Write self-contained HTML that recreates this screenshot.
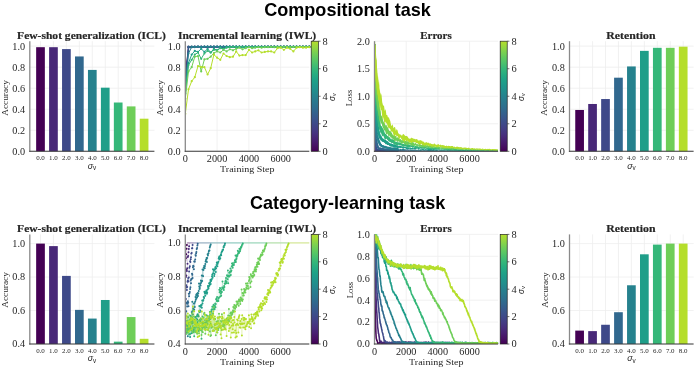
<!DOCTYPE html><html><head><meta charset="utf-8"><style>html,body{margin:0;padding:0;background:#fff;}svg{display:block;will-change:transform;transform:translateZ(0);}</style></head><body><svg width="696" height="369" viewBox="0 0 696 369"><defs><linearGradient id="cb" x1="0" y1="0" x2="0" y2="1"><stop offset="0.000" stop-color="#b5de2b"/><stop offset="0.050" stop-color="#98d83e"/><stop offset="0.100" stop-color="#7ad151"/><stop offset="0.150" stop-color="#60ca60"/><stop offset="0.200" stop-color="#4ac16d"/><stop offset="0.250" stop-color="#35b779"/><stop offset="0.300" stop-color="#27ad81"/><stop offset="0.350" stop-color="#1fa287"/><stop offset="0.400" stop-color="#1f988b"/><stop offset="0.450" stop-color="#218e8d"/><stop offset="0.500" stop-color="#26828e"/><stop offset="0.550" stop-color="#2a788e"/><stop offset="0.600" stop-color="#2e6e8e"/><stop offset="0.650" stop-color="#33628d"/><stop offset="0.700" stop-color="#39568c"/><stop offset="0.750" stop-color="#3e4989"/><stop offset="0.800" stop-color="#433d84"/><stop offset="0.850" stop-color="#472f7d"/><stop offset="0.900" stop-color="#482071"/><stop offset="0.950" stop-color="#471164"/><stop offset="1.000" stop-color="#440154"/></linearGradient><clipPath id="clB0"><rect x="185.3" y="38.2" width="125.5" height="113.10000000000001"/></clipPath><clipPath id="clC0"><rect x="374.5" y="41.2" width="123.60000000000002" height="110.10000000000001"/></clipPath><clipPath id="clB1"><rect x="185.3" y="231.4" width="125.5" height="112.6"/></clipPath><clipPath id="clC1"><rect x="374.5" y="234.4" width="123.60000000000002" height="109.6"/></clipPath></defs><text x="347.50" y="15.50" font-size="17.8" text-anchor="middle" fill="#000" font-weight="bold" font-family="'Liberation Sans', sans-serif" textLength="166.60" lengthAdjust="spacingAndGlyphs">Compositional task</text><text x="347.60" y="208.60" font-size="17.8" text-anchor="middle" fill="#000" font-weight="bold" font-family="'Liberation Sans', sans-serif" textLength="195.20" lengthAdjust="spacingAndGlyphs">Category-learning task</text><line x1="29.80" y1="151.30" x2="154.40" y2="151.30" stroke="#eeeeee" stroke-width="0.8"/><line x1="29.80" y1="130.27" x2="154.40" y2="130.27" stroke="#eeeeee" stroke-width="0.8"/><line x1="29.80" y1="109.24" x2="154.40" y2="109.24" stroke="#eeeeee" stroke-width="0.8"/><line x1="29.80" y1="88.21" x2="154.40" y2="88.21" stroke="#eeeeee" stroke-width="0.8"/><line x1="29.80" y1="67.17" x2="154.40" y2="67.17" stroke="#eeeeee" stroke-width="0.8"/><line x1="29.80" y1="46.14" x2="154.40" y2="46.14" stroke="#eeeeee" stroke-width="0.8"/><line x1="40.50" y1="41.20" x2="40.50" y2="151.30" stroke="#eeeeee" stroke-width="0.8"/><line x1="53.45" y1="41.20" x2="53.45" y2="151.30" stroke="#eeeeee" stroke-width="0.8"/><line x1="66.40" y1="41.20" x2="66.40" y2="151.30" stroke="#eeeeee" stroke-width="0.8"/><line x1="79.35" y1="41.20" x2="79.35" y2="151.30" stroke="#eeeeee" stroke-width="0.8"/><line x1="92.30" y1="41.20" x2="92.30" y2="151.30" stroke="#eeeeee" stroke-width="0.8"/><line x1="105.25" y1="41.20" x2="105.25" y2="151.30" stroke="#eeeeee" stroke-width="0.8"/><line x1="118.20" y1="41.20" x2="118.20" y2="151.30" stroke="#eeeeee" stroke-width="0.8"/><line x1="131.15" y1="41.20" x2="131.15" y2="151.30" stroke="#eeeeee" stroke-width="0.8"/><line x1="144.10" y1="41.20" x2="144.10" y2="151.30" stroke="#eeeeee" stroke-width="0.8"/><text x="25.10" y="154.70" font-size="9.4" text-anchor="end" fill="#262626" font-family="'Liberation Serif', serif" textLength="12.80" lengthAdjust="spacingAndGlyphs">0.0</text><text x="25.10" y="133.67" font-size="9.4" text-anchor="end" fill="#262626" font-family="'Liberation Serif', serif" textLength="12.80" lengthAdjust="spacingAndGlyphs">0.2</text><text x="25.10" y="112.64" font-size="9.4" text-anchor="end" fill="#262626" font-family="'Liberation Serif', serif" textLength="12.80" lengthAdjust="spacingAndGlyphs">0.4</text><text x="25.10" y="91.61" font-size="9.4" text-anchor="end" fill="#262626" font-family="'Liberation Serif', serif" textLength="12.80" lengthAdjust="spacingAndGlyphs">0.6</text><text x="25.10" y="70.57" font-size="9.4" text-anchor="end" fill="#262626" font-family="'Liberation Serif', serif" textLength="12.80" lengthAdjust="spacingAndGlyphs">0.8</text><text x="25.10" y="49.54" font-size="9.4" text-anchor="end" fill="#262626" font-family="'Liberation Serif', serif" textLength="12.80" lengthAdjust="spacingAndGlyphs">1.0</text><text x="7.80" y="97.95" font-size="7.6" text-anchor="middle" fill="#262626" font-family="'Liberation Serif', serif" textLength="35.50" lengthAdjust="spacingAndGlyphs" transform="rotate(-90 7.80 97.95)">Accuracy</text><rect x="36.15" y="47.19" width="8.7" height="104.11" fill="#440154"/><rect x="49.10" y="47.19" width="8.7" height="104.11" fill="#482878"/><rect x="62.05" y="49.09" width="8.7" height="102.21" fill="#3e4989"/><rect x="75.00" y="56.45" width="8.7" height="94.85" fill="#31688e"/><rect x="87.95" y="69.91" width="8.7" height="81.39" fill="#26828e"/><rect x="100.90" y="87.68" width="8.7" height="63.62" fill="#1f9e89"/><rect x="113.85" y="102.51" width="8.7" height="48.79" fill="#35b779"/><rect x="126.80" y="106.40" width="8.7" height="44.90" fill="#6ece58"/><rect x="139.75" y="118.70" width="8.7" height="32.60" fill="#b5de2b"/><line x1="29.80" y1="41.20" x2="29.80" y2="151.80" stroke="#8a8a8a" stroke-width="1.3"/><line x1="29.20" y1="151.30" x2="154.40" y2="151.30" stroke="#3a3a3a" stroke-width="1.05"/><text x="40.50" y="160.40" font-size="6.2" text-anchor="middle" fill="#262626" font-family="'Liberation Serif', serif" textLength="8.70" lengthAdjust="spacingAndGlyphs">0.0</text><text x="53.45" y="160.40" font-size="6.2" text-anchor="middle" fill="#262626" font-family="'Liberation Serif', serif" textLength="8.70" lengthAdjust="spacingAndGlyphs">1.0</text><text x="66.40" y="160.40" font-size="6.2" text-anchor="middle" fill="#262626" font-family="'Liberation Serif', serif" textLength="8.70" lengthAdjust="spacingAndGlyphs">2.0</text><text x="79.35" y="160.40" font-size="6.2" text-anchor="middle" fill="#262626" font-family="'Liberation Serif', serif" textLength="8.70" lengthAdjust="spacingAndGlyphs">3.0</text><text x="92.30" y="160.40" font-size="6.2" text-anchor="middle" fill="#262626" font-family="'Liberation Serif', serif" textLength="8.70" lengthAdjust="spacingAndGlyphs">4.0</text><text x="105.25" y="160.40" font-size="6.2" text-anchor="middle" fill="#262626" font-family="'Liberation Serif', serif" textLength="8.70" lengthAdjust="spacingAndGlyphs">5.0</text><text x="118.20" y="160.40" font-size="6.2" text-anchor="middle" fill="#262626" font-family="'Liberation Serif', serif" textLength="8.70" lengthAdjust="spacingAndGlyphs">6.0</text><text x="131.15" y="160.40" font-size="6.2" text-anchor="middle" fill="#262626" font-family="'Liberation Serif', serif" textLength="8.70" lengthAdjust="spacingAndGlyphs">7.0</text><text x="144.10" y="160.40" font-size="6.2" text-anchor="middle" fill="#262626" font-family="'Liberation Serif', serif" textLength="8.70" lengthAdjust="spacingAndGlyphs">8.0</text><text x="92.00" y="168.70" font-size="8.8" text-anchor="middle" fill="#262626" font-family="'Liberation Sans', sans-serif"><tspan font-style="italic">σ</tspan><tspan font-size="6.3" dy="1.2">v</tspan></text><text x="91.50" y="38.50" font-size="9.5" text-anchor="middle" fill="#262626" font-weight="bold" font-family="'Liberation Serif', serif" textLength="148.80" lengthAdjust="spacingAndGlyphs" stroke="#262626" stroke-width="0.18">Few-shot generalization (ICL)</text><line x1="569.50" y1="151.30" x2="693.60" y2="151.30" stroke="#eeeeee" stroke-width="0.8"/><line x1="569.50" y1="130.27" x2="693.60" y2="130.27" stroke="#eeeeee" stroke-width="0.8"/><line x1="569.50" y1="109.24" x2="693.60" y2="109.24" stroke="#eeeeee" stroke-width="0.8"/><line x1="569.50" y1="88.21" x2="693.60" y2="88.21" stroke="#eeeeee" stroke-width="0.8"/><line x1="569.50" y1="67.17" x2="693.60" y2="67.17" stroke="#eeeeee" stroke-width="0.8"/><line x1="569.50" y1="46.14" x2="693.60" y2="46.14" stroke="#eeeeee" stroke-width="0.8"/><line x1="579.60" y1="41.20" x2="579.60" y2="151.30" stroke="#eeeeee" stroke-width="0.8"/><line x1="592.55" y1="41.20" x2="592.55" y2="151.30" stroke="#eeeeee" stroke-width="0.8"/><line x1="605.50" y1="41.20" x2="605.50" y2="151.30" stroke="#eeeeee" stroke-width="0.8"/><line x1="618.45" y1="41.20" x2="618.45" y2="151.30" stroke="#eeeeee" stroke-width="0.8"/><line x1="631.40" y1="41.20" x2="631.40" y2="151.30" stroke="#eeeeee" stroke-width="0.8"/><line x1="644.35" y1="41.20" x2="644.35" y2="151.30" stroke="#eeeeee" stroke-width="0.8"/><line x1="657.30" y1="41.20" x2="657.30" y2="151.30" stroke="#eeeeee" stroke-width="0.8"/><line x1="670.25" y1="41.20" x2="670.25" y2="151.30" stroke="#eeeeee" stroke-width="0.8"/><line x1="683.20" y1="41.20" x2="683.20" y2="151.30" stroke="#eeeeee" stroke-width="0.8"/><text x="564.80" y="154.70" font-size="9.4" text-anchor="end" fill="#262626" font-family="'Liberation Serif', serif" textLength="12.80" lengthAdjust="spacingAndGlyphs">0.0</text><text x="564.80" y="133.67" font-size="9.4" text-anchor="end" fill="#262626" font-family="'Liberation Serif', serif" textLength="12.80" lengthAdjust="spacingAndGlyphs">0.2</text><text x="564.80" y="112.64" font-size="9.4" text-anchor="end" fill="#262626" font-family="'Liberation Serif', serif" textLength="12.80" lengthAdjust="spacingAndGlyphs">0.4</text><text x="564.80" y="91.61" font-size="9.4" text-anchor="end" fill="#262626" font-family="'Liberation Serif', serif" textLength="12.80" lengthAdjust="spacingAndGlyphs">0.6</text><text x="564.80" y="70.57" font-size="9.4" text-anchor="end" fill="#262626" font-family="'Liberation Serif', serif" textLength="12.80" lengthAdjust="spacingAndGlyphs">0.8</text><text x="564.80" y="49.54" font-size="9.4" text-anchor="end" fill="#262626" font-family="'Liberation Serif', serif" textLength="12.80" lengthAdjust="spacingAndGlyphs">1.0</text><text x="547.50" y="97.95" font-size="7.6" text-anchor="middle" fill="#262626" font-family="'Liberation Serif', serif" textLength="35.50" lengthAdjust="spacingAndGlyphs" transform="rotate(-90 547.50 97.95)">Accuracy</text><rect x="575.25" y="109.97" width="8.7" height="41.33" fill="#440154"/><rect x="588.20" y="103.98" width="8.7" height="47.32" fill="#482878"/><rect x="601.15" y="99.04" width="8.7" height="52.26" fill="#3e4989"/><rect x="614.10" y="77.69" width="8.7" height="73.61" fill="#31688e"/><rect x="627.05" y="66.44" width="8.7" height="84.86" fill="#26828e"/><rect x="640.00" y="50.87" width="8.7" height="100.43" fill="#1f9e89"/><rect x="652.95" y="47.82" width="8.7" height="103.48" fill="#35b779"/><rect x="665.90" y="47.82" width="8.7" height="103.48" fill="#6ece58"/><rect x="678.85" y="46.67" width="8.7" height="104.63" fill="#b5de2b"/><line x1="569.50" y1="41.20" x2="569.50" y2="151.80" stroke="#8a8a8a" stroke-width="1.3"/><line x1="568.90" y1="151.30" x2="693.60" y2="151.30" stroke="#3a3a3a" stroke-width="1.05"/><text x="579.60" y="160.40" font-size="6.2" text-anchor="middle" fill="#262626" font-family="'Liberation Serif', serif" textLength="8.70" lengthAdjust="spacingAndGlyphs">0.0</text><text x="592.55" y="160.40" font-size="6.2" text-anchor="middle" fill="#262626" font-family="'Liberation Serif', serif" textLength="8.70" lengthAdjust="spacingAndGlyphs">1.0</text><text x="605.50" y="160.40" font-size="6.2" text-anchor="middle" fill="#262626" font-family="'Liberation Serif', serif" textLength="8.70" lengthAdjust="spacingAndGlyphs">2.0</text><text x="618.45" y="160.40" font-size="6.2" text-anchor="middle" fill="#262626" font-family="'Liberation Serif', serif" textLength="8.70" lengthAdjust="spacingAndGlyphs">3.0</text><text x="631.40" y="160.40" font-size="6.2" text-anchor="middle" fill="#262626" font-family="'Liberation Serif', serif" textLength="8.70" lengthAdjust="spacingAndGlyphs">4.0</text><text x="644.35" y="160.40" font-size="6.2" text-anchor="middle" fill="#262626" font-family="'Liberation Serif', serif" textLength="8.70" lengthAdjust="spacingAndGlyphs">5.0</text><text x="657.30" y="160.40" font-size="6.2" text-anchor="middle" fill="#262626" font-family="'Liberation Serif', serif" textLength="8.70" lengthAdjust="spacingAndGlyphs">6.0</text><text x="670.25" y="160.40" font-size="6.2" text-anchor="middle" fill="#262626" font-family="'Liberation Serif', serif" textLength="8.70" lengthAdjust="spacingAndGlyphs">7.0</text><text x="683.20" y="160.40" font-size="6.2" text-anchor="middle" fill="#262626" font-family="'Liberation Serif', serif" textLength="8.70" lengthAdjust="spacingAndGlyphs">8.0</text><text x="631.45" y="168.70" font-size="8.8" text-anchor="middle" fill="#262626" font-family="'Liberation Sans', sans-serif"><tspan font-style="italic">σ</tspan><tspan font-size="6.3" dy="1.2">v</tspan></text><text x="630.90" y="38.50" font-size="9.5" text-anchor="middle" fill="#262626" font-weight="bold" font-family="'Liberation Serif', serif" textLength="49.20" lengthAdjust="spacingAndGlyphs" stroke="#262626" stroke-width="0.18">Retention</text><line x1="29.80" y1="344.00" x2="154.40" y2="344.00" stroke="#eeeeee" stroke-width="0.8"/><line x1="29.80" y1="310.53" x2="154.40" y2="310.53" stroke="#eeeeee" stroke-width="0.8"/><line x1="29.80" y1="277.07" x2="154.40" y2="277.07" stroke="#eeeeee" stroke-width="0.8"/><line x1="29.80" y1="243.60" x2="154.40" y2="243.60" stroke="#eeeeee" stroke-width="0.8"/><line x1="40.50" y1="234.40" x2="40.50" y2="344.00" stroke="#eeeeee" stroke-width="0.8"/><line x1="53.45" y1="234.40" x2="53.45" y2="344.00" stroke="#eeeeee" stroke-width="0.8"/><line x1="66.40" y1="234.40" x2="66.40" y2="344.00" stroke="#eeeeee" stroke-width="0.8"/><line x1="79.35" y1="234.40" x2="79.35" y2="344.00" stroke="#eeeeee" stroke-width="0.8"/><line x1="92.30" y1="234.40" x2="92.30" y2="344.00" stroke="#eeeeee" stroke-width="0.8"/><line x1="105.25" y1="234.40" x2="105.25" y2="344.00" stroke="#eeeeee" stroke-width="0.8"/><line x1="118.20" y1="234.40" x2="118.20" y2="344.00" stroke="#eeeeee" stroke-width="0.8"/><line x1="131.15" y1="234.40" x2="131.15" y2="344.00" stroke="#eeeeee" stroke-width="0.8"/><line x1="144.10" y1="234.40" x2="144.10" y2="344.00" stroke="#eeeeee" stroke-width="0.8"/><text x="25.10" y="347.40" font-size="9.4" text-anchor="end" fill="#262626" font-family="'Liberation Serif', serif" textLength="12.80" lengthAdjust="spacingAndGlyphs">0.4</text><text x="25.10" y="313.93" font-size="9.4" text-anchor="end" fill="#262626" font-family="'Liberation Serif', serif" textLength="12.80" lengthAdjust="spacingAndGlyphs">0.6</text><text x="25.10" y="280.47" font-size="9.4" text-anchor="end" fill="#262626" font-family="'Liberation Serif', serif" textLength="12.80" lengthAdjust="spacingAndGlyphs">0.8</text><text x="25.10" y="247.00" font-size="9.4" text-anchor="end" fill="#262626" font-family="'Liberation Serif', serif" textLength="12.80" lengthAdjust="spacingAndGlyphs">1.0</text><text x="7.80" y="290.00" font-size="7.6" text-anchor="middle" fill="#262626" font-family="'Liberation Serif', serif" textLength="35.50" lengthAdjust="spacingAndGlyphs" transform="rotate(-90 7.80 290.00)">Accuracy</text><rect x="36.15" y="243.60" width="8.7" height="100.40" fill="#440154"/><rect x="49.10" y="246.11" width="8.7" height="97.89" fill="#482878"/><rect x="62.05" y="275.90" width="8.7" height="68.10" fill="#3e4989"/><rect x="75.00" y="309.87" width="8.7" height="34.13" fill="#31688e"/><rect x="87.95" y="318.57" width="8.7" height="25.43" fill="#26828e"/><rect x="100.90" y="299.99" width="8.7" height="44.01" fill="#1f9e89"/><rect x="113.85" y="341.66" width="8.7" height="2.34" fill="#35b779"/><rect x="126.80" y="317.06" width="8.7" height="26.94" fill="#6ece58"/><rect x="139.75" y="338.81" width="8.7" height="5.19" fill="#b5de2b"/><line x1="29.80" y1="234.40" x2="29.80" y2="344.50" stroke="#8a8a8a" stroke-width="1.3"/><line x1="29.20" y1="344.00" x2="154.40" y2="344.00" stroke="#3a3a3a" stroke-width="1.05"/><text x="40.50" y="353.10" font-size="6.2" text-anchor="middle" fill="#262626" font-family="'Liberation Serif', serif" textLength="8.70" lengthAdjust="spacingAndGlyphs">0.0</text><text x="53.45" y="353.10" font-size="6.2" text-anchor="middle" fill="#262626" font-family="'Liberation Serif', serif" textLength="8.70" lengthAdjust="spacingAndGlyphs">1.0</text><text x="66.40" y="353.10" font-size="6.2" text-anchor="middle" fill="#262626" font-family="'Liberation Serif', serif" textLength="8.70" lengthAdjust="spacingAndGlyphs">2.0</text><text x="79.35" y="353.10" font-size="6.2" text-anchor="middle" fill="#262626" font-family="'Liberation Serif', serif" textLength="8.70" lengthAdjust="spacingAndGlyphs">3.0</text><text x="92.30" y="353.10" font-size="6.2" text-anchor="middle" fill="#262626" font-family="'Liberation Serif', serif" textLength="8.70" lengthAdjust="spacingAndGlyphs">4.0</text><text x="105.25" y="353.10" font-size="6.2" text-anchor="middle" fill="#262626" font-family="'Liberation Serif', serif" textLength="8.70" lengthAdjust="spacingAndGlyphs">5.0</text><text x="118.20" y="353.10" font-size="6.2" text-anchor="middle" fill="#262626" font-family="'Liberation Serif', serif" textLength="8.70" lengthAdjust="spacingAndGlyphs">6.0</text><text x="131.15" y="353.10" font-size="6.2" text-anchor="middle" fill="#262626" font-family="'Liberation Serif', serif" textLength="8.70" lengthAdjust="spacingAndGlyphs">7.0</text><text x="144.10" y="353.10" font-size="6.2" text-anchor="middle" fill="#262626" font-family="'Liberation Serif', serif" textLength="8.70" lengthAdjust="spacingAndGlyphs">8.0</text><text x="92.00" y="361.40" font-size="8.8" text-anchor="middle" fill="#262626" font-family="'Liberation Sans', sans-serif"><tspan font-style="italic">σ</tspan><tspan font-size="6.3" dy="1.2">v</tspan></text><text x="91.50" y="231.60" font-size="9.5" text-anchor="middle" fill="#262626" font-weight="bold" font-family="'Liberation Serif', serif" textLength="148.80" lengthAdjust="spacingAndGlyphs" stroke="#262626" stroke-width="0.18">Few-shot generalization (ICL)</text><line x1="569.50" y1="344.00" x2="693.60" y2="344.00" stroke="#eeeeee" stroke-width="0.8"/><line x1="569.50" y1="310.53" x2="693.60" y2="310.53" stroke="#eeeeee" stroke-width="0.8"/><line x1="569.50" y1="277.07" x2="693.60" y2="277.07" stroke="#eeeeee" stroke-width="0.8"/><line x1="569.50" y1="243.60" x2="693.60" y2="243.60" stroke="#eeeeee" stroke-width="0.8"/><line x1="579.60" y1="234.40" x2="579.60" y2="344.00" stroke="#eeeeee" stroke-width="0.8"/><line x1="592.55" y1="234.40" x2="592.55" y2="344.00" stroke="#eeeeee" stroke-width="0.8"/><line x1="605.50" y1="234.40" x2="605.50" y2="344.00" stroke="#eeeeee" stroke-width="0.8"/><line x1="618.45" y1="234.40" x2="618.45" y2="344.00" stroke="#eeeeee" stroke-width="0.8"/><line x1="631.40" y1="234.40" x2="631.40" y2="344.00" stroke="#eeeeee" stroke-width="0.8"/><line x1="644.35" y1="234.40" x2="644.35" y2="344.00" stroke="#eeeeee" stroke-width="0.8"/><line x1="657.30" y1="234.40" x2="657.30" y2="344.00" stroke="#eeeeee" stroke-width="0.8"/><line x1="670.25" y1="234.40" x2="670.25" y2="344.00" stroke="#eeeeee" stroke-width="0.8"/><line x1="683.20" y1="234.40" x2="683.20" y2="344.00" stroke="#eeeeee" stroke-width="0.8"/><text x="564.80" y="347.40" font-size="9.4" text-anchor="end" fill="#262626" font-family="'Liberation Serif', serif" textLength="12.80" lengthAdjust="spacingAndGlyphs">0.4</text><text x="564.80" y="313.93" font-size="9.4" text-anchor="end" fill="#262626" font-family="'Liberation Serif', serif" textLength="12.80" lengthAdjust="spacingAndGlyphs">0.6</text><text x="564.80" y="280.47" font-size="9.4" text-anchor="end" fill="#262626" font-family="'Liberation Serif', serif" textLength="12.80" lengthAdjust="spacingAndGlyphs">0.8</text><text x="564.80" y="247.00" font-size="9.4" text-anchor="end" fill="#262626" font-family="'Liberation Serif', serif" textLength="12.80" lengthAdjust="spacingAndGlyphs">1.0</text><text x="547.50" y="290.00" font-size="7.6" text-anchor="middle" fill="#262626" font-family="'Liberation Serif', serif" textLength="35.50" lengthAdjust="spacingAndGlyphs" transform="rotate(-90 547.50 290.00)">Accuracy</text><rect x="575.25" y="330.61" width="8.7" height="13.39" fill="#440154"/><rect x="588.20" y="331.12" width="8.7" height="12.88" fill="#482878"/><rect x="601.15" y="324.76" width="8.7" height="19.24" fill="#3e4989"/><rect x="614.10" y="312.21" width="8.7" height="31.79" fill="#31688e"/><rect x="627.05" y="285.27" width="8.7" height="58.73" fill="#26828e"/><rect x="640.00" y="254.31" width="8.7" height="89.69" fill="#1f9e89"/><rect x="652.95" y="244.61" width="8.7" height="99.39" fill="#35b779"/><rect x="665.90" y="243.60" width="8.7" height="100.40" fill="#6ece58"/><rect x="678.85" y="243.60" width="8.7" height="100.40" fill="#b5de2b"/><line x1="569.50" y1="234.40" x2="569.50" y2="344.50" stroke="#8a8a8a" stroke-width="1.3"/><line x1="568.90" y1="344.00" x2="693.60" y2="344.00" stroke="#3a3a3a" stroke-width="1.05"/><text x="579.60" y="353.10" font-size="6.2" text-anchor="middle" fill="#262626" font-family="'Liberation Serif', serif" textLength="8.70" lengthAdjust="spacingAndGlyphs">0.0</text><text x="592.55" y="353.10" font-size="6.2" text-anchor="middle" fill="#262626" font-family="'Liberation Serif', serif" textLength="8.70" lengthAdjust="spacingAndGlyphs">1.0</text><text x="605.50" y="353.10" font-size="6.2" text-anchor="middle" fill="#262626" font-family="'Liberation Serif', serif" textLength="8.70" lengthAdjust="spacingAndGlyphs">2.0</text><text x="618.45" y="353.10" font-size="6.2" text-anchor="middle" fill="#262626" font-family="'Liberation Serif', serif" textLength="8.70" lengthAdjust="spacingAndGlyphs">3.0</text><text x="631.40" y="353.10" font-size="6.2" text-anchor="middle" fill="#262626" font-family="'Liberation Serif', serif" textLength="8.70" lengthAdjust="spacingAndGlyphs">4.0</text><text x="644.35" y="353.10" font-size="6.2" text-anchor="middle" fill="#262626" font-family="'Liberation Serif', serif" textLength="8.70" lengthAdjust="spacingAndGlyphs">5.0</text><text x="657.30" y="353.10" font-size="6.2" text-anchor="middle" fill="#262626" font-family="'Liberation Serif', serif" textLength="8.70" lengthAdjust="spacingAndGlyphs">6.0</text><text x="670.25" y="353.10" font-size="6.2" text-anchor="middle" fill="#262626" font-family="'Liberation Serif', serif" textLength="8.70" lengthAdjust="spacingAndGlyphs">7.0</text><text x="683.20" y="353.10" font-size="6.2" text-anchor="middle" fill="#262626" font-family="'Liberation Serif', serif" textLength="8.70" lengthAdjust="spacingAndGlyphs">8.0</text><text x="631.45" y="361.40" font-size="8.8" text-anchor="middle" fill="#262626" font-family="'Liberation Sans', sans-serif"><tspan font-style="italic">σ</tspan><tspan font-size="6.3" dy="1.2">v</tspan></text><text x="630.90" y="231.60" font-size="9.5" text-anchor="middle" fill="#262626" font-weight="bold" font-family="'Liberation Serif', serif" textLength="49.20" lengthAdjust="spacingAndGlyphs" stroke="#262626" stroke-width="0.18">Retention</text><line x1="185.30" y1="151.30" x2="309.30" y2="151.30" stroke="#eeeeee" stroke-width="0.8"/><line x1="185.30" y1="130.27" x2="309.30" y2="130.27" stroke="#eeeeee" stroke-width="0.8"/><line x1="185.30" y1="109.24" x2="309.30" y2="109.24" stroke="#eeeeee" stroke-width="0.8"/><line x1="185.30" y1="88.21" x2="309.30" y2="88.21" stroke="#eeeeee" stroke-width="0.8"/><line x1="185.30" y1="67.17" x2="309.30" y2="67.17" stroke="#eeeeee" stroke-width="0.8"/><line x1="185.30" y1="46.14" x2="309.30" y2="46.14" stroke="#eeeeee" stroke-width="0.8"/><line x1="217.09" y1="41.20" x2="217.09" y2="151.30" stroke="#eeeeee" stroke-width="0.8"/><line x1="248.89" y1="41.20" x2="248.89" y2="151.30" stroke="#eeeeee" stroke-width="0.8"/><line x1="280.68" y1="41.20" x2="280.68" y2="151.30" stroke="#eeeeee" stroke-width="0.8"/><text x="180.60" y="154.70" font-size="9.4" text-anchor="end" fill="#262626" font-family="'Liberation Serif', serif" textLength="12.80" lengthAdjust="spacingAndGlyphs">0.0</text><text x="180.60" y="133.67" font-size="9.4" text-anchor="end" fill="#262626" font-family="'Liberation Serif', serif" textLength="12.80" lengthAdjust="spacingAndGlyphs">0.2</text><text x="180.60" y="112.64" font-size="9.4" text-anchor="end" fill="#262626" font-family="'Liberation Serif', serif" textLength="12.80" lengthAdjust="spacingAndGlyphs">0.4</text><text x="180.60" y="91.61" font-size="9.4" text-anchor="end" fill="#262626" font-family="'Liberation Serif', serif" textLength="12.80" lengthAdjust="spacingAndGlyphs">0.6</text><text x="180.60" y="70.57" font-size="9.4" text-anchor="end" fill="#262626" font-family="'Liberation Serif', serif" textLength="12.80" lengthAdjust="spacingAndGlyphs">0.8</text><text x="180.60" y="49.54" font-size="9.4" text-anchor="end" fill="#262626" font-family="'Liberation Serif', serif" textLength="12.80" lengthAdjust="spacingAndGlyphs">1.0</text><text x="163.30" y="97.95" font-size="7.6" text-anchor="middle" fill="#262626" font-family="'Liberation Serif', serif" textLength="35.50" lengthAdjust="spacingAndGlyphs" transform="rotate(-90 163.30 97.95)">Accuracy</text><g clip-path="url(#clB0)"><polyline points="185.3,75.6 188.5,46.9 191.7,46.9 194.8,46.9 198.0,46.9 201.2,46.9 204.4,46.9 207.6,46.9 210.7,46.9 213.9,46.9 217.1,46.9 220.3,46.9 223.5,46.9 226.6,46.9 229.8,46.9 233.0,46.9 236.2,46.9 239.4,46.9 242.5,46.9 245.7,46.9 248.9,46.9 252.1,46.9 255.2,46.9 258.4,46.9 261.6,46.9 264.8,46.9 268.0,46.9 271.1,46.9 274.3,46.9 277.5,46.9 280.7,46.9 283.9,46.9 287.0,46.9 290.2,46.9 293.4,46.9 296.6,46.9 299.8,46.9 302.9,46.9 306.1,46.9 309.3,46.9" fill="none" stroke="#440154" stroke-width="1.0" stroke-linejoin="round"/><path d="M185.3 75.6h0M188.5 46.9h0M191.7 46.9h0M194.8 46.9h0M198.0 46.9h0M201.2 46.9h0M204.4 46.9h0M207.6 46.9h0M210.7 46.9h0M213.9 46.9h0M217.1 46.9h0M220.3 46.9h0M223.5 46.9h0M226.6 46.9h0M229.8 46.9h0M233.0 46.9h0M236.2 46.9h0M239.4 46.9h0M242.5 46.9h0M245.7 46.9h0M248.9 46.9h0M252.1 46.9h0M255.2 46.9h0M258.4 46.9h0M261.6 46.9h0M264.8 46.9h0M268.0 46.9h0M271.1 46.9h0M274.3 46.9h0M277.5 46.9h0M280.7 46.9h0M283.9 46.9h0M287.0 46.9h0M290.2 46.9h0M293.4 46.9h0M296.6 46.9h0M299.8 46.9h0M302.9 46.9h0M306.1 46.9h0M309.3 46.9h0" stroke="#440154" stroke-width="2.2" stroke-linecap="round" fill="none"/><polyline points="185.3,79.8 188.5,47.2 191.7,46.9 194.8,46.9 198.0,46.9 201.2,46.9 204.4,46.9 207.6,46.9 210.7,46.9 213.9,46.9 217.1,46.9 220.3,46.9 223.5,46.9 226.6,46.9 229.8,46.9 233.0,46.9 236.2,46.9 239.4,46.9 242.5,46.9 245.7,46.9 248.9,46.9 252.1,46.9 255.2,46.9 258.4,46.9 261.6,46.9 264.8,46.9 268.0,46.9 271.1,46.9 274.3,46.9 277.5,46.9 280.7,46.9 283.9,46.9 287.0,46.9 290.2,46.9 293.4,46.9 296.6,46.9 299.8,46.9 302.9,46.9 306.1,46.9 309.3,46.9" fill="none" stroke="#482878" stroke-width="1.0" stroke-linejoin="round"/><path d="M185.3 79.8h0M188.5 47.2h0M191.7 46.9h0M194.8 46.9h0M198.0 46.9h0M201.2 46.9h0M204.4 46.9h0M207.6 46.9h0M210.7 46.9h0M213.9 46.9h0M217.1 46.9h0M220.3 46.9h0M223.5 46.9h0M226.6 46.9h0M229.8 46.9h0M233.0 46.9h0M236.2 46.9h0M239.4 46.9h0M242.5 46.9h0M245.7 46.9h0M248.9 46.9h0M252.1 46.9h0M255.2 46.9h0M258.4 46.9h0M261.6 46.9h0M264.8 46.9h0M268.0 46.9h0M271.1 46.9h0M274.3 46.9h0M277.5 46.9h0M280.7 46.9h0M283.9 46.9h0M287.0 46.9h0M290.2 46.9h0M293.4 46.9h0M296.6 46.9h0M299.8 46.9h0M302.9 46.9h0M306.1 46.9h0M309.3 46.9h0" stroke="#482878" stroke-width="2.2" stroke-linecap="round" fill="none"/><polyline points="185.3,84.0 188.5,47.7 191.7,47.2 194.8,46.9 198.0,46.9 201.2,46.9 204.4,46.9 207.6,46.9 210.7,46.9 213.9,46.9 217.1,46.9 220.3,46.9 223.5,46.9 226.6,46.9 229.8,46.9 233.0,46.9 236.2,46.9 239.4,46.9 242.5,46.9 245.7,46.9 248.9,46.9 252.1,46.9 255.2,46.9 258.4,46.9 261.6,46.9 264.8,46.9 268.0,46.9 271.1,46.9 274.3,46.9 277.5,46.9 280.7,46.9 283.9,46.9 287.0,46.9 290.2,46.9 293.4,46.9 296.6,46.9 299.8,46.9 302.9,46.9 306.1,46.9 309.3,46.9" fill="none" stroke="#3e4989" stroke-width="1.0" stroke-linejoin="round"/><path d="M185.3 84.0h0M188.5 47.7h0M191.7 47.2h0M194.8 46.9h0M198.0 46.9h0M201.2 46.9h0M204.4 46.9h0M207.6 46.9h0M210.7 46.9h0M213.9 46.9h0M217.1 46.9h0M220.3 46.9h0M223.5 46.9h0M226.6 46.9h0M229.8 46.9h0M233.0 46.9h0M236.2 46.9h0M239.4 46.9h0M242.5 46.9h0M245.7 46.9h0M248.9 46.9h0M252.1 46.9h0M255.2 46.9h0M258.4 46.9h0M261.6 46.9h0M264.8 46.9h0M268.0 46.9h0M271.1 46.9h0M274.3 46.9h0M277.5 46.9h0M280.7 46.9h0M283.9 46.9h0M287.0 46.9h0M290.2 46.9h0M293.4 46.9h0M296.6 46.9h0M299.8 46.9h0M302.9 46.9h0M306.1 46.9h0M309.3 46.9h0" stroke="#3e4989" stroke-width="2.2" stroke-linecap="round" fill="none"/><polyline points="185.3,86.1 188.5,46.7 191.7,47.2 194.8,46.7 198.0,46.7 201.2,46.7 204.4,46.7 207.6,46.7 210.7,46.7 213.9,46.7 217.1,46.7 220.3,46.7 223.5,46.7 226.6,46.7 229.8,46.7 233.0,46.7 236.2,46.7 239.4,46.7 242.5,46.7 245.7,46.7 248.9,46.7 252.1,46.7 255.2,46.7 258.4,46.7 261.6,46.7 264.8,46.7 268.0,46.7 271.1,46.7 274.3,46.7 277.5,46.7 280.7,46.7 283.9,46.7 287.0,46.7 290.2,46.7 293.4,46.7 296.6,46.7 299.8,46.7 302.9,46.7 306.1,46.7 309.3,46.7" fill="none" stroke="#31688e" stroke-width="1.0" stroke-linejoin="round"/><path d="M185.3 86.1h0M188.5 46.7h0M191.7 47.2h0M194.8 46.7h0M198.0 46.7h0M201.2 46.7h0M204.4 46.7h0M207.6 46.7h0M210.7 46.7h0M213.9 46.7h0M217.1 46.7h0M220.3 46.7h0M223.5 46.7h0M226.6 46.7h0M229.8 46.7h0M233.0 46.7h0M236.2 46.7h0M239.4 46.7h0M242.5 46.7h0M245.7 46.7h0M248.9 46.7h0M252.1 46.7h0M255.2 46.7h0M258.4 46.7h0M261.6 46.7h0M264.8 46.7h0M268.0 46.7h0M271.1 46.7h0M274.3 46.7h0M277.5 46.7h0M280.7 46.7h0M283.9 46.7h0M287.0 46.7h0M290.2 46.7h0M293.4 46.7h0M296.6 46.7h0M299.8 46.7h0M302.9 46.7h0M306.1 46.7h0M309.3 46.7h0" stroke="#31688e" stroke-width="2.2" stroke-linecap="round" fill="none"/><polyline points="185.3,88.2 188.5,53.5 191.7,46.7 194.8,47.2 198.0,46.7 201.2,47.2 204.4,46.7 207.6,46.7 210.7,46.7 213.9,46.7 217.1,46.7 220.3,46.7 223.5,46.7 226.6,46.7 229.8,46.7 233.0,46.7 236.2,46.7 239.4,46.7 242.5,46.7 245.7,46.7 248.9,46.7 252.1,46.7 255.2,46.7 258.4,46.7 261.6,46.7 264.8,46.7 268.0,46.7 271.1,46.7 274.3,46.7 277.5,46.7 280.7,46.7 283.9,46.7 287.0,46.7 290.2,46.7 293.4,46.7 296.6,46.7 299.8,46.7 302.9,46.7 306.1,46.7 309.3,46.7" fill="none" stroke="#26828e" stroke-width="1.0" stroke-linejoin="round"/><path d="M185.3 88.2h0M188.5 53.5h0M191.7 46.7h0M194.8 47.2h0M198.0 46.7h0M201.2 47.2h0M204.4 46.7h0M207.6 46.7h0M210.7 46.7h0M213.9 46.7h0M217.1 46.7h0M220.3 46.7h0M223.5 46.7h0M226.6 46.7h0M229.8 46.7h0M233.0 46.7h0M236.2 46.7h0M239.4 46.7h0M242.5 46.7h0M245.7 46.7h0M248.9 46.7h0M252.1 46.7h0M255.2 46.7h0M258.4 46.7h0M261.6 46.7h0M264.8 46.7h0M268.0 46.7h0M271.1 46.7h0M274.3 46.7h0M277.5 46.7h0M280.7 46.7h0M283.9 46.7h0M287.0 46.7h0M290.2 46.7h0M293.4 46.7h0M296.6 46.7h0M299.8 46.7h0M302.9 46.7h0M306.1 46.7h0M309.3 46.7h0" stroke="#26828e" stroke-width="2.2" stroke-linecap="round" fill="none"/><polyline points="185.3,90.3 188.5,63.0 191.7,54.6 194.8,50.9 198.0,51.9 201.2,48.8 204.4,51.9 207.6,48.8 210.7,52.5 213.9,48.8 217.1,50.3 220.3,47.7 223.5,48.8 226.6,47.2 229.8,46.8 233.0,46.8 236.2,46.8 239.4,46.8 242.5,46.8 245.7,46.8 248.9,46.8 252.1,46.8 255.2,46.8 258.4,46.8 261.6,46.8 264.8,46.8 268.0,46.8 271.1,46.8 274.3,46.8 277.5,46.8 280.7,46.8 283.9,46.8 287.0,46.8 290.2,46.8 293.4,46.8 296.6,46.8 299.8,46.8 302.9,46.8 306.1,46.8 309.3,46.8" fill="none" stroke="#1f9e89" stroke-width="1.0" stroke-linejoin="round"/><path d="M185.3 90.3h0M188.5 63.0h0M191.7 54.6h0M194.8 50.9h0M198.0 51.9h0M201.2 48.8h0M204.4 51.9h0M207.6 48.8h0M210.7 52.5h0M213.9 48.8h0M217.1 50.3h0M220.3 47.7h0M223.5 48.8h0M226.6 47.2h0M229.8 46.8h0M233.0 46.8h0M236.2 46.8h0M239.4 46.8h0M242.5 46.8h0M245.7 46.8h0M248.9 46.8h0M252.1 46.8h0M255.2 46.8h0M258.4 46.8h0M261.6 46.8h0M264.8 46.8h0M268.0 46.8h0M271.1 46.8h0M274.3 46.8h0M277.5 46.8h0M280.7 46.8h0M283.9 46.8h0M287.0 46.8h0M290.2 46.8h0M293.4 46.8h0M296.6 46.8h0M299.8 46.8h0M302.9 46.8h0M306.1 46.8h0M309.3 46.8h0" stroke="#1f9e89" stroke-width="2.2" stroke-linecap="round" fill="none"/><polyline points="185.3,93.5 188.5,65.1 191.7,59.8 194.8,54.6 198.0,52.5 201.2,58.8 204.4,53.5 207.6,50.9 210.7,52.5 213.9,49.8 217.1,50.3 220.3,48.2 223.5,48.8 226.6,47.7 229.8,47.2 233.0,46.9 236.2,46.9 239.4,46.9 242.5,46.9 245.7,46.9 248.9,46.9 252.1,46.9 255.2,46.9 258.4,46.9 261.6,46.9 264.8,46.9 268.0,46.9 271.1,46.9 274.3,46.9 277.5,46.9 280.7,46.9 283.9,46.9 287.0,46.9 290.2,46.9 293.4,46.9 296.6,46.9 299.8,46.9 302.9,46.9 306.1,46.9 309.3,46.9" fill="none" stroke="#35b779" stroke-width="1.0" stroke-linejoin="round"/><path d="M185.3 93.5h0M188.5 65.1h0M191.7 59.8h0M194.8 54.6h0M198.0 52.5h0M201.2 58.8h0M204.4 53.5h0M207.6 50.9h0M210.7 52.5h0M213.9 49.8h0M217.1 50.3h0M220.3 48.2h0M223.5 48.8h0M226.6 47.7h0M229.8 47.2h0M233.0 46.9h0M236.2 46.9h0M239.4 46.9h0M242.5 46.9h0M245.7 46.9h0M248.9 46.9h0M252.1 46.9h0M255.2 46.9h0M258.4 46.9h0M261.6 46.9h0M264.8 46.9h0M268.0 46.9h0M271.1 46.9h0M274.3 46.9h0M277.5 46.9h0M280.7 46.9h0M283.9 46.9h0M287.0 46.9h0M290.2 46.9h0M293.4 46.9h0M296.6 46.9h0M299.8 46.9h0M302.9 46.9h0M306.1 46.9h0M309.3 46.9h0" stroke="#35b779" stroke-width="2.2" stroke-linecap="round" fill="none"/><polyline points="185.3,98.7 188.5,71.4 191.7,67.2 194.8,56.7 198.0,56.1 201.2,71.4 204.4,59.3 207.6,58.8 210.7,56.7 213.9,53.0 217.1,51.4 220.3,52.5 223.5,49.8 226.6,51.4 229.8,49.3 233.0,50.3 236.2,48.8 239.4,47.7 242.5,49.3 245.7,48.2 248.9,47.2 252.1,48.2 255.2,47.7 258.4,47.2 261.6,47.7 264.8,47.2 268.0,47.2 271.1,46.9 274.3,47.2 277.5,46.9 280.7,47.2 283.9,46.9 287.0,46.9 290.2,47.2 293.4,46.9 296.6,46.9 299.8,46.9 302.9,46.9 306.1,46.9 309.3,46.9" fill="none" stroke="#6ece58" stroke-width="1.0" stroke-linejoin="round"/><path d="M185.3 98.7h0M188.5 71.4h0M191.7 67.2h0M194.8 56.7h0M198.0 56.1h0M201.2 71.4h0M204.4 59.3h0M207.6 58.8h0M210.7 56.7h0M213.9 53.0h0M217.1 51.4h0M220.3 52.5h0M223.5 49.8h0M226.6 51.4h0M229.8 49.3h0M233.0 50.3h0M236.2 48.8h0M239.4 47.7h0M242.5 49.3h0M245.7 48.2h0M248.9 47.2h0M252.1 48.2h0M255.2 47.7h0M258.4 47.2h0M261.6 47.7h0M264.8 47.2h0M268.0 47.2h0M271.1 46.9h0M274.3 47.2h0M277.5 46.9h0M280.7 47.2h0M283.9 46.9h0M287.0 46.9h0M290.2 47.2h0M293.4 46.9h0M296.6 46.9h0M299.8 46.9h0M302.9 46.9h0M306.1 46.9h0M309.3 46.9h0" stroke="#6ece58" stroke-width="2.2" stroke-linecap="round" fill="none"/><polyline points="185.3,113.8 188.5,89.3 191.7,81.2 194.8,77.2 198.0,66.1 201.2,67.2 204.4,67.2 207.6,74.5 210.7,68.2 213.9,54.6 217.1,57.7 220.3,59.8 223.5,53.5 226.6,56.0 229.8,57.2 233.0,56.7 236.2,51.4 239.4,55.6 242.5,55.1 245.7,55.1 248.9,49.8 252.1,52.5 255.2,51.4 258.4,50.3 261.6,52.5 264.8,51.9 268.0,51.4 271.1,51.4 274.3,52.5 277.5,48.2 280.7,47.7 283.9,49.8 287.0,47.7 290.2,48.8 293.4,51.4 296.6,47.7 299.8,47.2 302.9,47.7 306.1,47.7 309.3,47.2" fill="none" stroke="#b5de2b" stroke-width="1.0" stroke-linejoin="round"/><path d="M185.3 113.8h0M188.5 89.3h0M191.7 81.2h0M194.8 77.2h0M198.0 66.1h0M201.2 67.2h0M204.4 67.2h0M207.6 74.5h0M210.7 68.2h0M213.9 54.6h0M217.1 57.7h0M220.3 59.8h0M223.5 53.5h0M226.6 56.0h0M229.8 57.2h0M233.0 56.7h0M236.2 51.4h0M239.4 55.6h0M242.5 55.1h0M245.7 55.1h0M248.9 49.8h0M252.1 52.5h0M255.2 51.4h0M258.4 50.3h0M261.6 52.5h0M264.8 51.9h0M268.0 51.4h0M271.1 51.4h0M274.3 52.5h0M277.5 48.2h0M280.7 47.7h0M283.9 49.8h0M287.0 47.7h0M290.2 48.8h0M293.4 51.4h0M296.6 47.7h0M299.8 47.2h0M302.9 47.7h0M306.1 47.7h0M309.3 47.2h0" stroke="#b5de2b" stroke-width="2.2" stroke-linecap="round" fill="none"/></g><line x1="185.30" y1="41.20" x2="185.30" y2="151.80" stroke="#8a8a8a" stroke-width="1.3"/><line x1="184.70" y1="151.30" x2="309.30" y2="151.30" stroke="#3a3a3a" stroke-width="1.05"/><text x="185.30" y="161.90" font-size="9.4" text-anchor="middle" fill="#262626" font-family="'Liberation Serif', serif" textLength="5.12" lengthAdjust="spacingAndGlyphs">0</text><text x="217.09" y="161.90" font-size="9.4" text-anchor="middle" fill="#262626" font-family="'Liberation Serif', serif" textLength="20.48" lengthAdjust="spacingAndGlyphs">2000</text><text x="248.89" y="161.90" font-size="9.4" text-anchor="middle" fill="#262626" font-family="'Liberation Serif', serif" textLength="20.48" lengthAdjust="spacingAndGlyphs">4000</text><text x="280.68" y="161.90" font-size="9.4" text-anchor="middle" fill="#262626" font-family="'Liberation Serif', serif" textLength="20.48" lengthAdjust="spacingAndGlyphs">6000</text><text x="247.30" y="171.90" font-size="8.0" text-anchor="middle" fill="#262626" font-family="'Liberation Serif', serif" textLength="54.50" lengthAdjust="spacingAndGlyphs">Training Step</text><rect x="311.20" y="41.20" width="7.20" height="110.10" fill="url(#cb)" stroke="#222" stroke-width="0.7"/><line x1="318.40" y1="151.30" x2="320.60" y2="151.30" stroke="#333" stroke-width="0.7"/><text x="322.60" y="154.60" font-size="9.4" text-anchor="start" fill="#262626" font-family="'Liberation Serif', serif" textLength="5.20" lengthAdjust="spacingAndGlyphs">0</text><line x1="318.40" y1="123.78" x2="320.60" y2="123.78" stroke="#333" stroke-width="0.7"/><text x="322.60" y="127.08" font-size="9.4" text-anchor="start" fill="#262626" font-family="'Liberation Serif', serif" textLength="5.20" lengthAdjust="spacingAndGlyphs">2</text><line x1="318.40" y1="96.25" x2="320.60" y2="96.25" stroke="#333" stroke-width="0.7"/><text x="322.60" y="99.55" font-size="9.4" text-anchor="start" fill="#262626" font-family="'Liberation Serif', serif" textLength="5.20" lengthAdjust="spacingAndGlyphs">4</text><line x1="318.40" y1="68.73" x2="320.60" y2="68.73" stroke="#333" stroke-width="0.7"/><text x="322.60" y="72.03" font-size="9.4" text-anchor="start" fill="#262626" font-family="'Liberation Serif', serif" textLength="5.20" lengthAdjust="spacingAndGlyphs">6</text><line x1="318.40" y1="41.20" x2="320.60" y2="41.20" stroke="#333" stroke-width="0.7"/><text x="322.60" y="44.50" font-size="9.4" text-anchor="start" fill="#262626" font-family="'Liberation Serif', serif" textLength="5.20" lengthAdjust="spacingAndGlyphs">8</text><text x="335.20" y="97.15" font-size="8.2" text-anchor="middle" fill="#262626" font-family="'Liberation Sans', sans-serif" transform="rotate(-90 335.20 97.15)"><tspan font-style="italic">σ</tspan><tspan font-size="5.9" dy="1.1">v</tspan></text><text x="247.10" y="38.50" font-size="9.5" text-anchor="middle" fill="#262626" font-weight="bold" font-family="'Liberation Serif', serif" textLength="138.30" lengthAdjust="spacingAndGlyphs" stroke="#262626" stroke-width="0.18">Incremental learning (IWL)</text><line x1="374.50" y1="151.30" x2="498.10" y2="151.30" stroke="#eeeeee" stroke-width="0.8"/><line x1="374.50" y1="123.78" x2="498.10" y2="123.78" stroke="#eeeeee" stroke-width="0.8"/><line x1="374.50" y1="96.25" x2="498.10" y2="96.25" stroke="#eeeeee" stroke-width="0.8"/><line x1="374.50" y1="68.73" x2="498.10" y2="68.73" stroke="#eeeeee" stroke-width="0.8"/><line x1="374.50" y1="41.20" x2="498.10" y2="41.20" stroke="#eeeeee" stroke-width="0.8"/><line x1="406.19" y1="41.20" x2="406.19" y2="151.30" stroke="#eeeeee" stroke-width="0.8"/><line x1="437.88" y1="41.20" x2="437.88" y2="151.30" stroke="#eeeeee" stroke-width="0.8"/><line x1="469.58" y1="41.20" x2="469.58" y2="151.30" stroke="#eeeeee" stroke-width="0.8"/><text x="369.80" y="154.70" font-size="9.4" text-anchor="end" fill="#262626" font-family="'Liberation Serif', serif" textLength="12.80" lengthAdjust="spacingAndGlyphs">0.0</text><text x="369.80" y="127.18" font-size="9.4" text-anchor="end" fill="#262626" font-family="'Liberation Serif', serif" textLength="12.80" lengthAdjust="spacingAndGlyphs">0.5</text><text x="369.80" y="99.65" font-size="9.4" text-anchor="end" fill="#262626" font-family="'Liberation Serif', serif" textLength="12.80" lengthAdjust="spacingAndGlyphs">1.0</text><text x="369.80" y="72.13" font-size="9.4" text-anchor="end" fill="#262626" font-family="'Liberation Serif', serif" textLength="12.80" lengthAdjust="spacingAndGlyphs">1.5</text><text x="369.80" y="44.60" font-size="9.4" text-anchor="end" fill="#262626" font-family="'Liberation Serif', serif" textLength="12.80" lengthAdjust="spacingAndGlyphs">2.0</text><text x="352.50" y="97.95" font-size="7.6" text-anchor="middle" fill="#262626" font-family="'Liberation Serif', serif" textLength="16.60" lengthAdjust="spacingAndGlyphs" transform="rotate(-90 352.50 97.95)">Loss</text><g clip-path="url(#clC0)"><polygon points="374.5,35.3 374.6,128.1 374.6,138.0 374.7,143.4 374.8,146.6 374.8,148.0 374.9,149.0 374.9,149.7 375.0,149.7 375.1,150.2 375.1,150.2 375.2,150.3 375.3,150.4 375.3,150.4 375.4,150.4 375.5,150.4 375.5,150.7 375.6,150.6 375.6,150.6 375.7,150.8 375.8,150.9 375.8,150.6 375.9,150.9 376.0,150.9 376.0,150.7 376.1,150.8 376.1,150.9 376.2,150.8 376.3,151.0 376.3,150.8 376.4,150.9 376.5,151.0 376.5,150.8 376.6,150.7 376.7,151.0 376.7,150.8 376.8,150.9 376.8,150.8 376.9,150.8 377.0,151.0 377.0,150.8 377.1,150.8 377.2,150.8 377.2,150.8 377.3,150.9 377.4,150.8 377.4,150.7 377.5,151.0 377.5,150.8 377.6,150.9 377.7,150.9 377.7,151.0 377.8,150.8 377.9,150.9 377.9,150.8 378.0,151.0 378.0,150.9 378.1,150.9 378.2,150.8 378.2,151.0 378.3,151.0 378.4,150.8 378.4,150.8 378.5,150.9 378.6,150.8 378.6,151.0 378.7,150.8 378.7,151.0 378.8,150.7 378.9,150.9 378.9,150.9 379.0,150.7 379.1,150.8 379.1,150.8 379.2,151.0 379.3,150.9 379.3,151.0 379.4,151.0 379.4,151.0 379.5,150.8 379.6,151.0 379.6,151.0 379.7,150.9 379.8,150.8 379.8,150.8 379.9,150.8 380.0,151.0 380.0,150.9 380.1,150.8 380.1,151.0 380.2,150.8 380.3,150.9 380.3,150.9 380.4,150.9 380.5,150.9 380.5,150.9 380.6,150.9 380.6,151.0 380.7,150.9 380.8,151.0 380.8,150.9 381.6,150.9 382.4,150.8 383.2,151.0 384.0,151.1 384.8,150.9 385.6,151.0 386.4,150.9 387.2,151.0 388.0,151.0 388.8,150.8 389.6,151.0 390.3,151.0 391.1,151.0 391.9,151.0 392.7,151.1 393.5,151.0 394.3,150.8 395.1,151.0 395.9,150.9 396.7,150.8 397.5,150.9 398.3,150.9 399.1,150.9 399.9,150.9 400.6,151.1 401.4,151.0 402.2,151.0 403.0,151.1 403.8,151.0 404.6,151.0 405.4,151.0 406.2,151.0 407.0,151.1 407.8,151.0 408.6,151.0 409.4,150.9 410.2,151.1 410.9,151.1 411.7,151.0 412.5,151.0 413.3,150.9 414.1,151.1 414.9,151.1 415.7,150.9 416.5,151.1 417.3,151.1 418.1,151.1 418.9,151.1 419.7,151.1 420.5,151.0 421.2,150.9 422.0,151.1 422.8,151.0 423.6,151.0 424.4,150.9 425.2,150.9 426.0,151.1 426.8,151.0 427.6,150.9 428.4,151.1 429.2,151.0 430.0,151.1 430.8,150.9 431.5,150.9 432.3,151.0 433.1,151.2 433.9,151.1 434.7,151.0 435.5,150.9 436.3,151.1 437.1,151.0 437.9,151.0 438.7,151.1 439.5,151.0 440.3,151.1 441.1,151.1 441.8,150.9 442.6,151.0 443.4,150.9 444.2,151.0 445.0,151.1 445.8,151.0 446.6,150.9 447.4,151.0 448.2,150.9 449.0,151.2 449.8,151.1 450.6,150.9 451.4,151.0 452.1,151.0 452.9,151.0 453.7,150.9 454.5,151.0 455.3,151.0 456.1,151.0 456.9,151.0 457.7,151.1 458.5,151.0 459.3,151.0 460.1,150.9 460.9,151.0 461.7,151.2 462.4,151.0 463.2,150.9 464.0,151.0 464.8,151.0 465.6,151.1 466.4,151.1 467.2,151.0 468.0,151.1 468.8,150.9 469.6,150.9 470.4,150.9 471.2,151.1 472.0,151.1 472.7,150.9 473.5,151.0 474.3,151.1 475.1,151.1 475.9,151.0 476.7,151.1 477.5,151.0 478.3,151.0 479.1,151.0 479.9,151.2 480.7,150.9 481.5,151.0 482.3,151.0 483.0,151.0 483.8,151.1 484.6,150.9 485.4,151.1 486.2,151.0 487.0,151.1 487.8,151.0 488.6,150.9 489.4,150.9 490.2,151.1 491.0,151.0 491.8,150.9 492.6,151.1 493.3,151.0 494.1,151.0 494.9,150.9 495.7,151.0 496.5,151.0 497.3,151.0 498.1,151.1 498.1,151.3 497.3,151.3 496.5,151.3 495.7,151.3 494.9,151.3 494.1,151.3 493.3,151.3 492.6,151.3 491.8,151.3 491.0,151.3 490.2,151.3 489.4,151.3 488.6,151.3 487.8,151.3 487.0,151.3 486.2,151.3 485.4,151.3 484.6,151.3 483.8,151.3 483.0,151.3 482.3,151.3 481.5,151.3 480.7,151.3 479.9,151.3 479.1,151.3 478.3,151.3 477.5,151.3 476.7,151.3 475.9,151.3 475.1,151.3 474.3,151.3 473.5,151.3 472.7,151.3 472.0,151.3 471.2,151.3 470.4,151.3 469.6,151.3 468.8,151.3 468.0,151.3 467.2,151.3 466.4,151.3 465.6,151.3 464.8,151.3 464.0,151.3 463.2,151.3 462.4,151.3 461.7,151.3 460.9,151.3 460.1,151.3 459.3,151.3 458.5,151.3 457.7,151.3 456.9,151.3 456.1,151.3 455.3,151.3 454.5,151.3 453.7,151.3 452.9,151.3 452.1,151.3 451.4,151.3 450.6,151.3 449.8,151.3 449.0,151.3 448.2,151.3 447.4,151.3 446.6,151.3 445.8,151.3 445.0,151.3 444.2,151.3 443.4,151.3 442.6,151.3 441.8,151.3 441.1,151.3 440.3,151.3 439.5,151.3 438.7,151.3 437.9,151.3 437.1,151.3 436.3,151.3 435.5,151.3 434.7,151.3 433.9,151.3 433.1,151.3 432.3,151.3 431.5,151.3 430.8,151.3 430.0,151.3 429.2,151.3 428.4,151.3 427.6,151.3 426.8,151.3 426.0,151.3 425.2,151.3 424.4,151.3 423.6,151.3 422.8,151.3 422.0,151.3 421.2,151.3 420.5,151.3 419.7,151.3 418.9,151.3 418.1,151.3 417.3,151.3 416.5,151.3 415.7,151.3 414.9,151.3 414.1,151.3 413.3,151.3 412.5,151.3 411.7,151.3 410.9,151.3 410.2,151.3 409.4,151.3 408.6,151.3 407.8,151.3 407.0,151.3 406.2,151.3 405.4,151.3 404.6,151.3 403.8,151.3 403.0,151.3 402.2,151.3 401.4,151.3 400.6,151.3 399.9,151.3 399.1,151.3 398.3,151.3 397.5,151.3 396.7,151.3 395.9,151.3 395.1,151.3 394.3,151.3 393.5,151.3 392.7,151.3 391.9,151.3 391.1,151.3 390.3,151.3 389.6,151.3 388.8,151.3 388.0,151.3 387.2,151.3 386.4,151.3 385.6,151.3 384.8,151.3 384.0,151.3 383.2,151.3 382.4,151.3 381.6,151.3 380.8,151.3 380.8,151.3 380.7,151.3 380.6,151.3 380.6,151.3 380.5,151.3 380.5,151.3 380.4,151.3 380.3,151.3 380.3,151.3 380.2,151.3 380.1,151.3 380.1,151.3 380.0,151.3 380.0,151.3 379.9,151.3 379.8,151.3 379.8,151.3 379.7,151.3 379.6,151.3 379.6,151.3 379.5,151.3 379.4,151.3 379.4,151.3 379.3,151.3 379.3,151.3 379.2,151.3 379.1,151.3 379.1,151.3 379.0,151.3 378.9,151.3 378.9,151.3 378.8,151.3 378.7,151.3 378.7,151.3 378.6,151.3 378.6,151.3 378.5,151.3 378.4,151.3 378.4,151.3 378.3,151.3 378.2,151.3 378.2,151.3 378.1,151.3 378.0,151.3 378.0,151.3 377.9,151.3 377.9,151.3 377.8,151.3 377.7,151.3 377.7,151.3 377.6,151.3 377.5,151.3 377.5,151.3 377.4,151.3 377.4,151.3 377.3,151.3 377.2,151.3 377.2,151.3 377.1,151.3 377.0,151.3 377.0,151.3 376.9,151.3 376.8,151.3 376.8,151.3 376.7,151.3 376.7,151.3 376.6,151.3 376.5,151.3 376.5,151.3 376.4,151.3 376.3,151.3 376.3,151.3 376.2,151.3 376.1,151.3 376.1,151.3 376.0,151.3 376.0,151.3 375.9,151.3 375.8,151.3 375.8,151.3 375.7,151.3 375.6,151.2 375.6,151.3 375.5,151.3 375.5,151.3 375.4,151.1 375.3,151.1 375.3,151.0 375.2,151.3 375.1,151.1 375.1,150.6 375.0,150.5 374.9,150.3 374.9,150.4 374.8,149.3 374.8,147.9 374.7,146.2 374.6,143.0 374.6,134.5 374.5,64.9" fill="#440154"/><polyline points="374.5,44.7 374.6,130.6 374.6,140.6 374.7,144.9 374.8,147.2 374.8,148.7 374.9,149.6 374.9,150.0 375.0,150.3 375.1,150.4 375.1,150.6 375.2,150.7 375.3,150.8 375.3,150.8 375.4,150.9 375.5,150.9 375.5,151.0 375.6,151.0 375.6,151.0 375.7,151.0 375.8,151.1 375.8,151.1 375.9,151.1 376.0,151.1 376.0,151.1 376.1,151.1 376.1,151.1 376.2,151.1 376.3,151.1 376.3,151.1 376.4,151.1 376.5,151.1 376.5,151.2 376.6,151.2 376.7,151.2 376.7,151.2 376.8,151.2 376.8,151.2 376.9,151.2 377.0,151.2 377.0,151.2 377.1,151.2 377.2,151.2 377.2,151.2 377.3,151.2 377.4,151.2 377.4,151.2 377.5,151.2 377.5,151.2 377.6,151.2 377.7,151.2 377.7,151.2 377.8,151.2 377.9,151.2 377.9,151.2 378.0,151.2 378.0,151.2 378.1,151.2 378.2,151.2 378.2,151.2 378.3,151.2 378.4,151.2 378.4,151.2 378.5,151.2 378.6,151.2 378.6,151.2 378.7,151.2 378.7,151.2 378.8,151.2 378.9,151.2 378.9,151.2 379.0,151.2 379.1,151.2 379.1,151.2 379.2,151.2 379.3,151.2 379.3,151.2 379.4,151.2 379.4,151.2 379.5,151.2 379.6,151.2 379.6,151.2 379.7,151.2 379.8,151.2 379.8,151.2 379.9,151.2 380.0,151.2 380.0,151.2 380.1,151.2 380.1,151.2 380.2,151.2 380.3,151.2 380.3,151.2 380.4,151.2 380.5,151.2 380.5,151.2 380.6,151.2 380.6,151.2 380.7,151.2 380.8,151.2 380.8,151.2 381.6,151.2 382.4,151.2 383.2,151.2 384.0,151.2 384.8,151.2 385.6,151.2 386.4,151.2 387.2,151.2 388.0,151.2 388.8,151.2 389.6,151.2 390.3,151.3 391.1,151.3 391.9,151.3 392.7,151.3 393.5,151.3 394.3,151.3 395.1,151.3 395.9,151.3 396.7,151.3 397.5,151.3 398.3,151.3" fill="none" stroke="#440154" stroke-width="2.4" stroke-linejoin="round"/><polygon points="374.5,24.2 374.6,105.4 374.6,125.3 374.7,135.2 374.8,138.9 374.8,141.6 374.9,143.3 374.9,144.8 375.0,146.6 375.1,147.4 375.1,148.3 375.2,148.8 375.3,148.9 375.3,149.1 375.4,149.3 375.5,149.9 375.5,149.9 375.6,149.8 375.6,150.0 375.7,150.2 375.8,150.1 375.8,150.1 375.9,150.5 376.0,150.4 376.0,150.5 376.1,150.6 376.1,150.5 376.2,150.6 376.3,150.4 376.3,150.5 376.4,150.6 376.5,150.5 376.5,150.6 376.6,150.7 376.7,150.3 376.7,150.6 376.8,150.7 376.8,150.5 376.9,150.7 377.0,150.4 377.0,150.7 377.1,150.7 377.2,150.4 377.2,150.5 377.3,150.4 377.4,150.4 377.4,150.5 377.5,150.7 377.5,150.5 377.6,150.7 377.7,150.8 377.7,150.5 377.8,150.7 377.9,150.5 377.9,150.6 378.0,150.5 378.0,150.5 378.1,150.4 378.2,150.6 378.2,150.5 378.3,150.5 378.4,150.6 378.4,150.6 378.5,150.6 378.6,150.6 378.6,150.7 378.7,150.6 378.7,150.6 378.8,150.7 378.9,150.7 378.9,150.8 379.0,150.5 379.1,150.5 379.1,150.5 379.2,150.6 379.3,150.6 379.3,150.8 379.4,150.5 379.4,150.7 379.5,150.6 379.6,150.8 379.6,150.6 379.7,150.8 379.8,150.5 379.8,150.6 379.9,150.6 380.0,150.6 380.0,150.8 380.1,150.7 380.1,150.8 380.2,150.7 380.3,150.7 380.3,150.8 380.4,150.7 380.5,150.8 380.5,150.8 380.6,150.7 380.6,150.5 380.7,150.6 380.8,150.7 380.8,150.8 381.6,150.8 382.4,150.8 383.2,150.7 384.0,150.6 384.8,150.8 385.6,150.7 386.4,150.7 387.2,150.7 388.0,150.9 388.8,150.8 389.6,151.0 390.3,150.8 391.1,151.0 391.9,150.9 392.7,151.0 393.5,150.9 394.3,151.0 395.1,151.1 395.9,150.9 396.7,150.9 397.5,150.9 398.3,151.0 399.1,150.9 399.9,151.0 400.6,151.1 401.4,151.0 402.2,150.9 403.0,151.0 403.8,150.9 404.6,150.8 405.4,151.1 406.2,151.0 407.0,151.0 407.8,150.9 408.6,150.9 409.4,150.9 410.2,151.1 410.9,151.0 411.7,151.1 412.5,150.9 413.3,150.9 414.1,151.0 414.9,150.8 415.7,151.1 416.5,151.1 417.3,151.0 418.1,150.9 418.9,150.8 419.7,151.0 420.5,151.1 421.2,150.9 422.0,151.1 422.8,150.9 423.6,151.0 424.4,151.1 425.2,151.1 426.0,150.9 426.8,150.8 427.6,151.1 428.4,150.8 429.2,150.9 430.0,151.0 430.8,151.1 431.5,151.1 432.3,151.0 433.1,151.1 433.9,151.1 434.7,151.1 435.5,150.9 436.3,151.1 437.1,150.9 437.9,151.0 438.7,150.9 439.5,151.0 440.3,150.9 441.1,151.1 441.8,151.1 442.6,151.0 443.4,151.0 444.2,151.0 445.0,151.1 445.8,151.1 446.6,151.0 447.4,150.9 448.2,150.9 449.0,151.0 449.8,150.8 450.6,150.9 451.4,151.1 452.1,151.1 452.9,150.9 453.7,150.9 454.5,151.0 455.3,150.9 456.1,151.0 456.9,151.0 457.7,151.1 458.5,151.0 459.3,150.9 460.1,151.1 460.9,151.1 461.7,151.1 462.4,151.0 463.2,151.0 464.0,151.0 464.8,150.9 465.6,150.9 466.4,151.0 467.2,151.0 468.0,151.0 468.8,151.1 469.6,151.1 470.4,151.0 471.2,151.1 472.0,151.0 472.7,151.0 473.5,151.0 474.3,151.1 475.1,151.1 475.9,151.1 476.7,151.0 477.5,150.9 478.3,151.1 479.1,151.1 479.9,151.1 480.7,151.0 481.5,151.1 482.3,150.9 483.0,151.1 483.8,151.0 484.6,151.0 485.4,150.9 486.2,150.9 487.0,150.9 487.8,151.0 488.6,151.2 489.4,151.1 490.2,150.9 491.0,151.1 491.8,151.0 492.6,151.1 493.3,151.0 494.1,151.0 494.9,150.9 495.7,151.1 496.5,151.1 497.3,150.9 498.1,151.0 498.1,151.3 497.3,151.3 496.5,151.3 495.7,151.3 494.9,151.3 494.1,151.3 493.3,151.3 492.6,151.3 491.8,151.3 491.0,151.3 490.2,151.3 489.4,151.3 488.6,151.3 487.8,151.3 487.0,151.3 486.2,151.3 485.4,151.3 484.6,151.3 483.8,151.3 483.0,151.3 482.3,151.3 481.5,151.3 480.7,151.3 479.9,151.3 479.1,151.3 478.3,151.3 477.5,151.3 476.7,151.3 475.9,151.3 475.1,151.3 474.3,151.3 473.5,151.3 472.7,151.3 472.0,151.3 471.2,151.3 470.4,151.3 469.6,151.3 468.8,151.3 468.0,151.3 467.2,151.3 466.4,151.3 465.6,151.3 464.8,151.3 464.0,151.3 463.2,151.3 462.4,151.3 461.7,151.3 460.9,151.3 460.1,151.3 459.3,151.3 458.5,151.3 457.7,151.3 456.9,151.3 456.1,151.3 455.3,151.3 454.5,151.3 453.7,151.3 452.9,151.3 452.1,151.3 451.4,151.3 450.6,151.3 449.8,151.3 449.0,151.3 448.2,151.3 447.4,151.3 446.6,151.3 445.8,151.3 445.0,151.3 444.2,151.3 443.4,151.3 442.6,151.3 441.8,151.3 441.1,151.3 440.3,151.3 439.5,151.3 438.7,151.3 437.9,151.3 437.1,151.3 436.3,151.3 435.5,151.3 434.7,151.3 433.9,151.3 433.1,151.3 432.3,151.3 431.5,151.3 430.8,151.3 430.0,151.3 429.2,151.3 428.4,151.3 427.6,151.3 426.8,151.3 426.0,151.3 425.2,151.3 424.4,151.3 423.6,151.3 422.8,151.3 422.0,151.3 421.2,151.3 420.5,151.3 419.7,151.3 418.9,151.3 418.1,151.3 417.3,151.3 416.5,151.3 415.7,151.3 414.9,151.3 414.1,151.3 413.3,151.3 412.5,151.3 411.7,151.3 410.9,151.3 410.2,151.3 409.4,151.3 408.6,151.3 407.8,151.3 407.0,151.3 406.2,151.3 405.4,151.3 404.6,151.3 403.8,151.3 403.0,151.3 402.2,151.3 401.4,151.3 400.6,151.3 399.9,151.3 399.1,151.3 398.3,151.3 397.5,151.3 396.7,151.3 395.9,151.3 395.1,151.3 394.3,151.3 393.5,151.3 392.7,151.3 391.9,151.3 391.1,151.3 390.3,151.3 389.6,151.3 388.8,151.3 388.0,151.3 387.2,151.3 386.4,151.3 385.6,151.3 384.8,151.3 384.0,151.3 383.2,151.3 382.4,151.3 381.6,151.3 380.8,151.3 380.8,151.3 380.7,151.3 380.6,151.2 380.6,151.3 380.5,151.1 380.5,151.2 380.4,151.2 380.3,151.2 380.3,151.1 380.2,151.3 380.1,151.3 380.1,151.3 380.0,151.3 380.0,151.3 379.9,151.3 379.8,151.3 379.8,151.2 379.7,151.1 379.6,151.3 379.6,151.3 379.5,151.3 379.4,151.3 379.4,151.3 379.3,151.1 379.3,151.3 379.2,151.1 379.1,151.3 379.1,151.3 379.0,151.3 378.9,151.2 378.9,151.3 378.8,151.3 378.7,151.3 378.7,151.3 378.6,151.3 378.6,151.3 378.5,151.3 378.4,151.3 378.4,151.3 378.3,151.3 378.2,151.1 378.2,151.1 378.1,151.3 378.0,151.2 378.0,151.3 377.9,151.3 377.9,151.1 377.8,151.2 377.7,151.3 377.7,151.1 377.6,151.2 377.5,151.1 377.5,151.3 377.4,151.3 377.4,151.2 377.3,151.2 377.2,151.3 377.2,151.3 377.1,151.3 377.0,151.3 377.0,151.1 376.9,151.2 376.8,151.3 376.8,151.3 376.7,151.3 376.7,151.1 376.6,151.3 376.5,151.1 376.5,151.2 376.4,151.1 376.3,151.0 376.3,151.3 376.2,151.0 376.1,151.3 376.1,151.2 376.0,151.1 376.0,151.2 375.9,150.9 375.8,151.1 375.8,150.9 375.7,151.1 375.6,151.1 375.6,150.6 375.5,150.9 375.5,150.7 375.4,150.7 375.3,150.3 375.3,150.4 375.2,149.6 375.1,149.0 375.1,149.1 375.0,148.4 374.9,147.5 374.9,145.9 374.8,145.1 374.8,143.4 374.7,139.4 374.6,132.6 374.6,118.6 374.5,61.3" fill="#482878"/><polyline points="374.5,44.7 374.6,113.5 374.6,130.6 374.7,137.4 374.8,140.6 374.8,143.0 374.9,144.9 374.9,146.2 375.0,147.2 375.1,148.0 375.1,148.7 375.2,149.2 375.3,149.6 375.3,149.9 375.4,150.0 375.5,150.2 375.5,150.3 375.6,150.4 375.6,150.4 375.7,150.5 375.8,150.6 375.8,150.6 375.9,150.7 376.0,150.7 376.0,150.8 376.1,150.8 376.1,150.8 376.2,150.8 376.3,150.8 376.3,150.8 376.4,150.8 376.5,150.8 376.5,150.9 376.6,150.9 376.7,150.9 376.7,150.9 376.8,150.9 376.8,150.9 376.9,150.9 377.0,150.9 377.0,150.9 377.1,150.9 377.2,150.9 377.2,150.9 377.3,150.9 377.4,150.9 377.4,150.9 377.5,150.9 377.5,150.9 377.6,150.9 377.7,150.9 377.7,150.9 377.8,150.9 377.9,150.9 377.9,150.9 378.0,150.9 378.0,150.9 378.1,150.9 378.2,150.9 378.2,150.9 378.3,150.9 378.4,150.9 378.4,150.9 378.5,150.9 378.6,150.9 378.6,150.9 378.7,151.0 378.7,151.0 378.8,151.0 378.9,151.0 378.9,151.0 379.0,151.0 379.1,151.0 379.1,151.0 379.2,151.0 379.3,151.0 379.3,151.0 379.4,151.0 379.4,151.0 379.5,151.0 379.6,151.0 379.6,151.0 379.7,151.0 379.8,151.0 379.8,151.0 379.9,151.0 380.0,151.0 380.0,151.0 380.1,151.0 380.1,151.0 380.2,151.0 380.3,151.0 380.3,151.0 380.4,151.0 380.5,151.0 380.5,151.0 380.6,151.0 380.6,151.0 380.7,151.0 380.8,151.0 380.8,151.0 381.6,151.0 382.4,151.0 383.2,151.1 384.0,151.1 384.8,151.1 385.6,151.1 386.4,151.1 387.2,151.1 388.0,151.1 388.8,151.1 389.6,151.1 390.3,151.2 391.1,151.2 391.9,151.2 392.7,151.2 393.5,151.2 394.3,151.2 395.1,151.2 395.9,151.2 396.7,151.2 397.5,151.2 398.3,151.2" fill="none" stroke="#482878" stroke-width="2.4" stroke-linejoin="round"/><polygon points="374.5,33.4 374.6,79.9 374.6,99.7 374.7,112.2 374.8,122.8 374.8,125.7 374.9,131.1 374.9,133.4 375.0,135.4 375.1,137.7 375.1,138.1 375.2,140.0 375.3,140.0 375.3,142.0 375.4,143.3 375.5,143.6 375.5,144.4 375.6,144.3 375.6,145.6 375.7,145.4 375.8,146.7 375.8,147.0 375.9,147.3 376.0,147.2 376.0,147.6 376.1,148.0 376.1,148.3 376.2,148.2 376.3,148.9 376.3,148.7 376.4,149.1 376.5,149.1 376.5,149.1 376.6,149.3 376.7,149.5 376.7,149.5 376.8,149.5 376.8,149.6 376.9,149.4 377.0,149.3 377.0,149.5 377.1,149.2 377.2,149.2 377.2,149.3 377.3,149.3 377.4,149.6 377.4,149.3 377.5,149.7 377.5,149.8 377.6,149.7 377.7,149.6 377.7,149.4 377.8,149.8 377.9,149.6 377.9,149.5 378.0,149.4 378.0,149.6 378.1,149.7 378.2,149.8 378.2,149.6 378.3,149.5 378.4,149.5 378.4,149.6 378.5,149.8 378.6,149.9 378.6,149.9 378.7,149.8 378.7,149.7 378.8,149.9 378.9,149.6 378.9,149.8 379.0,149.6 379.1,149.7 379.1,149.6 379.2,149.9 379.3,149.7 379.3,149.6 379.4,150.0 379.4,149.5 379.5,149.7 379.6,149.5 379.6,149.9 379.7,149.8 379.8,149.7 379.8,149.7 379.9,149.7 380.0,149.6 380.0,150.0 380.1,149.7 380.1,149.8 380.2,149.6 380.3,149.6 380.3,149.9 380.4,149.9 380.5,149.7 380.5,149.6 380.6,149.7 380.6,149.7 380.7,149.7 380.8,149.9 380.8,150.0 381.6,150.2 382.4,150.1 383.2,150.2 384.0,150.0 384.8,150.1 385.6,150.1 386.4,150.2 387.2,150.4 388.0,150.4 388.8,150.4 389.6,150.4 390.3,150.3 391.1,150.4 391.9,150.6 392.7,150.6 393.5,150.5 394.3,150.7 395.1,150.6 395.9,150.5 396.7,150.5 397.5,150.6 398.3,150.6 399.1,150.7 399.9,150.6 400.6,150.7 401.4,150.6 402.2,150.5 403.0,150.6 403.8,150.8 404.6,150.8 405.4,150.7 406.2,150.6 407.0,150.7 407.8,150.6 408.6,150.8 409.4,150.8 410.2,150.6 410.9,150.6 411.7,150.8 412.5,150.7 413.3,150.7 414.1,150.7 414.9,150.8 415.7,150.7 416.5,150.7 417.3,150.8 418.1,150.7 418.9,150.7 419.7,151.0 420.5,150.9 421.2,150.9 422.0,150.8 422.8,150.9 423.6,150.7 424.4,150.9 425.2,150.9 426.0,151.0 426.8,151.0 427.6,150.8 428.4,151.0 429.2,150.7 430.0,150.8 430.8,151.0 431.5,150.8 432.3,151.0 433.1,150.9 433.9,151.0 434.7,151.0 435.5,150.9 436.3,150.8 437.1,151.0 437.9,151.0 438.7,150.9 439.5,150.8 440.3,150.9 441.1,150.8 441.8,150.9 442.6,150.9 443.4,150.8 444.2,151.0 445.0,150.9 445.8,151.1 446.6,150.9 447.4,150.8 448.2,151.1 449.0,151.1 449.8,150.9 450.6,150.8 451.4,150.9 452.1,150.8 452.9,151.0 453.7,150.8 454.5,151.0 455.3,150.9 456.1,151.0 456.9,150.8 457.7,151.1 458.5,151.0 459.3,150.8 460.1,150.9 460.9,151.0 461.7,151.0 462.4,150.8 463.2,151.1 464.0,151.1 464.8,151.1 465.6,150.9 466.4,150.8 467.2,151.1 468.0,150.9 468.8,150.9 469.6,151.1 470.4,151.0 471.2,150.9 472.0,151.1 472.7,150.8 473.5,151.1 474.3,151.1 475.1,150.9 475.9,151.0 476.7,150.9 477.5,150.9 478.3,151.1 479.1,151.0 479.9,150.8 480.7,151.0 481.5,151.1 482.3,150.9 483.0,151.1 483.8,151.0 484.6,150.8 485.4,150.9 486.2,151.1 487.0,151.1 487.8,151.0 488.6,150.9 489.4,150.9 490.2,151.1 491.0,151.0 491.8,151.0 492.6,151.0 493.3,150.9 494.1,151.0 494.9,151.0 495.7,150.9 496.5,151.1 497.3,151.0 498.1,150.9 498.1,151.3 497.3,151.3 496.5,151.3 495.7,151.3 494.9,151.3 494.1,151.3 493.3,151.3 492.6,151.3 491.8,151.3 491.0,151.3 490.2,151.3 489.4,151.3 488.6,151.3 487.8,151.3 487.0,151.3 486.2,151.3 485.4,151.3 484.6,151.3 483.8,151.3 483.0,151.3 482.3,151.3 481.5,151.3 480.7,151.3 479.9,151.3 479.1,151.3 478.3,151.3 477.5,151.3 476.7,151.3 475.9,151.3 475.1,151.3 474.3,151.3 473.5,151.3 472.7,151.3 472.0,151.3 471.2,151.3 470.4,151.3 469.6,151.3 468.8,151.3 468.0,151.3 467.2,151.3 466.4,151.3 465.6,151.3 464.8,151.3 464.0,151.3 463.2,151.3 462.4,151.3 461.7,151.3 460.9,151.3 460.1,151.3 459.3,151.3 458.5,151.3 457.7,151.3 456.9,151.3 456.1,151.3 455.3,151.3 454.5,151.3 453.7,151.3 452.9,151.3 452.1,151.3 451.4,151.3 450.6,151.3 449.8,151.3 449.0,151.3 448.2,151.3 447.4,151.3 446.6,151.3 445.8,151.3 445.0,151.3 444.2,151.3 443.4,151.3 442.6,151.3 441.8,151.3 441.1,151.3 440.3,151.3 439.5,151.3 438.7,151.3 437.9,151.3 437.1,151.3 436.3,151.3 435.5,151.3 434.7,151.3 433.9,151.3 433.1,151.3 432.3,151.3 431.5,151.3 430.8,151.3 430.0,151.3 429.2,151.3 428.4,151.3 427.6,151.3 426.8,151.3 426.0,151.3 425.2,151.3 424.4,151.3 423.6,151.3 422.8,151.3 422.0,151.3 421.2,151.3 420.5,151.3 419.7,151.3 418.9,151.3 418.1,151.3 417.3,151.3 416.5,151.3 415.7,151.3 414.9,151.3 414.1,151.3 413.3,151.3 412.5,151.3 411.7,151.3 410.9,151.3 410.2,151.3 409.4,151.3 408.6,151.2 407.8,151.3 407.0,151.3 406.2,151.3 405.4,151.3 404.6,151.3 403.8,151.2 403.0,151.3 402.2,151.3 401.4,151.2 400.6,151.2 399.9,151.2 399.1,151.3 398.3,151.3 397.5,151.3 396.7,151.3 395.9,151.1 395.1,151.1 394.3,151.1 393.5,151.2 392.7,151.0 391.9,151.3 391.1,151.2 390.3,151.3 389.6,151.3 388.8,151.0 388.0,151.0 387.2,151.2 386.4,151.2 385.6,151.0 384.8,151.0 384.0,151.1 383.2,150.7 382.4,150.8 381.6,150.7 380.8,151.0 380.8,150.7 380.7,150.7 380.6,151.0 380.6,150.7 380.5,150.8 380.5,150.7 380.4,150.7 380.3,150.9 380.3,150.9 380.2,150.9 380.1,150.9 380.1,150.5 380.0,150.7 380.0,150.5 379.9,150.9 379.8,150.9 379.8,150.6 379.7,150.5 379.6,150.9 379.6,150.9 379.5,150.9 379.4,150.5 379.4,150.6 379.3,150.5 379.3,150.9 379.2,150.5 379.1,150.7 379.1,150.6 379.0,150.7 378.9,150.4 378.9,150.7 378.8,150.9 378.7,150.8 378.7,150.8 378.6,150.8 378.6,150.8 378.5,150.8 378.4,150.6 378.4,150.5 378.3,150.4 378.2,150.3 378.2,150.4 378.1,150.6 378.0,150.8 378.0,150.4 377.9,150.8 377.9,150.7 377.8,150.7 377.7,150.6 377.7,150.5 377.6,150.6 377.5,150.4 377.5,150.5 377.4,150.3 377.4,150.6 377.3,150.3 377.2,150.5 377.2,150.5 377.1,150.4 377.0,150.2 377.0,150.4 376.9,150.1 376.8,150.4 376.8,150.5 376.7,150.1 376.7,150.2 376.6,150.4 376.5,150.4 376.5,150.1 376.4,150.2 376.3,150.3 376.3,149.7 376.2,149.4 376.1,149.3 376.1,149.2 376.0,149.6 376.0,149.0 375.9,148.8 375.8,148.1 375.8,147.9 375.7,147.3 375.6,147.8 375.6,147.6 375.5,147.1 375.5,146.6 375.4,146.0 375.3,144.5 375.3,145.1 375.2,144.4 375.1,142.5 375.1,141.8 375.0,141.7 374.9,138.5 374.9,135.7 374.8,135.0 374.8,131.5 374.7,125.3 374.6,110.6 374.6,95.8 374.5,59.0" fill="#3e4989"/><polyline points="374.5,44.7 374.6,91.0 374.6,107.3 374.7,118.0 374.8,125.6 374.8,130.6 374.9,134.2 374.9,136.6 375.0,138.2 375.1,139.5 375.1,140.6 375.2,141.7 375.3,142.5 375.3,143.4 375.4,144.2 375.5,144.9 375.5,145.5 375.6,146.0 375.6,146.4 375.7,146.8 375.8,147.2 375.8,147.6 375.9,147.9 376.0,148.2 376.0,148.5 376.1,148.7 376.1,148.9 376.2,149.1 376.3,149.3 376.3,149.4 376.4,149.6 376.5,149.7 376.5,149.8 376.6,149.8 376.7,149.8 376.7,149.8 376.8,149.9 376.8,149.9 376.9,149.9 377.0,149.9 377.0,149.9 377.1,149.9 377.2,149.9 377.2,149.9 377.3,149.9 377.4,150.0 377.4,150.0 377.5,150.0 377.5,150.0 377.6,150.0 377.7,150.0 377.7,150.0 377.8,150.0 377.9,150.0 377.9,150.0 378.0,150.1 378.0,150.1 378.1,150.1 378.2,150.1 378.2,150.1 378.3,150.1 378.4,150.1 378.4,150.1 378.5,150.1 378.6,150.1 378.6,150.1 378.7,150.1 378.7,150.1 378.8,150.1 378.9,150.2 378.9,150.2 379.0,150.2 379.1,150.2 379.1,150.2 379.2,150.2 379.3,150.2 379.3,150.2 379.4,150.2 379.4,150.2 379.5,150.2 379.6,150.2 379.6,150.2 379.7,150.2 379.8,150.2 379.8,150.2 379.9,150.2 380.0,150.2 380.0,150.3 380.1,150.3 380.1,150.3 380.2,150.3 380.3,150.3 380.3,150.3 380.4,150.3 380.5,150.3 380.5,150.3 380.6,150.3 380.6,150.3 380.7,150.3 380.8,150.3 380.8,150.3 381.6,150.4 382.4,150.4 383.2,150.5 384.0,150.5 384.8,150.6 385.6,150.6 386.4,150.7 387.2,150.7 388.0,150.7 388.8,150.8 389.6,150.8 390.3,150.8 391.1,150.8 391.9,150.8 392.7,150.9 393.5,150.9 394.3,150.9 395.1,150.9 395.9,150.9 396.7,150.9 397.5,151.0 398.3,151.0" fill="none" stroke="#3e4989" stroke-width="2.4" stroke-linejoin="round"/><polygon points="374.5,21.5 374.6,52.9 374.6,74.1 374.7,85.2 374.8,95.0 374.8,97.2 374.9,100.6 374.9,105.7 375.0,110.4 375.1,115.5 375.1,120.1 375.2,122.5 375.3,125.2 375.3,126.4 375.4,129.6 375.5,129.6 375.5,129.8 375.6,132.5 375.6,132.0 375.7,133.7 375.8,133.8 375.8,133.9 375.9,136.9 376.0,136.7 376.0,137.8 376.1,138.4 376.1,137.5 376.2,139.6 376.3,138.8 376.3,138.6 376.4,140.0 376.5,139.9 376.5,141.3 376.6,140.5 376.7,140.9 376.7,141.6 376.8,141.4 376.8,142.3 376.9,142.6 377.0,143.8 377.0,142.8 377.1,143.8 377.2,143.6 377.2,144.1 377.3,144.8 377.4,144.6 377.4,144.3 377.5,144.8 377.5,145.6 377.6,145.3 377.7,145.1 377.7,146.2 377.8,146.4 377.9,145.7 377.9,146.1 378.0,146.1 378.0,146.7 378.1,146.6 378.2,147.1 378.2,147.3 378.3,147.0 378.4,146.9 378.4,147.3 378.5,147.9 378.6,148.0 378.6,147.4 378.7,147.8 378.7,147.9 378.8,147.9 378.9,147.4 378.9,147.7 379.0,148.0 379.1,148.0 379.1,148.1 379.2,147.4 379.3,147.8 379.3,147.9 379.4,148.2 379.4,148.0 379.5,147.6 379.6,147.6 379.6,147.9 379.7,148.1 379.8,147.6 379.8,148.1 379.9,148.1 380.0,148.2 380.0,148.0 380.1,147.7 380.1,148.0 380.2,147.8 380.3,148.2 380.3,147.9 380.4,148.3 380.5,148.1 380.5,148.2 380.6,148.3 380.6,147.9 380.7,148.4 380.8,148.2 380.8,148.3 381.6,148.1 382.4,148.7 383.2,148.8 384.0,148.7 384.8,149.1 385.6,148.9 386.4,148.9 387.2,149.3 388.0,149.3 388.8,149.7 389.6,149.4 390.3,149.7 391.1,149.6 391.9,149.9 392.7,149.7 393.5,149.8 394.3,149.6 395.1,149.7 395.9,149.9 396.7,150.2 397.5,150.1 398.3,150.1 399.1,150.0 399.9,150.0 400.6,150.0 401.4,150.1 402.2,150.2 403.0,150.2 403.8,150.3 404.6,150.2 405.4,150.3 406.2,150.3 407.0,150.5 407.8,150.5 408.6,150.3 409.4,150.4 410.2,150.5 410.9,150.2 411.7,150.6 412.5,150.2 413.3,150.3 414.1,150.6 414.9,150.3 415.7,150.4 416.5,150.6 417.3,150.4 418.1,150.3 418.9,150.7 419.7,150.6 420.5,150.7 421.2,150.4 422.0,150.7 422.8,150.7 423.6,150.7 424.4,150.4 425.2,150.7 426.0,150.4 426.8,150.8 427.6,150.6 428.4,150.8 429.2,150.7 430.0,150.8 430.8,150.6 431.5,150.8 432.3,150.7 433.1,150.5 433.9,150.6 434.7,150.9 435.5,150.8 436.3,150.7 437.1,150.8 437.9,150.9 438.7,150.9 439.5,150.8 440.3,150.7 441.1,150.7 441.8,150.8 442.6,150.9 443.4,150.8 444.2,150.6 445.0,150.9 445.8,150.9 446.6,150.9 447.4,150.7 448.2,150.9 449.0,150.8 449.8,150.8 450.6,150.8 451.4,150.8 452.1,150.7 452.9,150.9 453.7,150.9 454.5,150.7 455.3,150.9 456.1,150.9 456.9,151.0 457.7,150.7 458.5,150.8 459.3,150.8 460.1,151.0 460.9,150.7 461.7,151.0 462.4,150.8 463.2,150.7 464.0,150.9 464.8,151.0 465.6,150.7 466.4,151.0 467.2,150.9 468.0,150.8 468.8,150.8 469.6,151.0 470.4,151.0 471.2,150.9 472.0,150.7 472.7,150.7 473.5,151.0 474.3,150.8 475.1,150.9 475.9,151.0 476.7,150.9 477.5,151.0 478.3,150.8 479.1,150.8 479.9,151.0 480.7,151.1 481.5,150.8 482.3,150.8 483.0,151.0 483.8,150.8 484.6,150.9 485.4,151.0 486.2,150.8 487.0,150.8 487.8,151.0 488.6,150.9 489.4,151.0 490.2,150.9 491.0,151.0 491.8,151.0 492.6,150.8 493.3,150.8 494.1,150.9 494.9,150.8 495.7,150.9 496.5,150.9 497.3,150.9 498.1,151.1 498.1,151.3 497.3,151.3 496.5,151.3 495.7,151.3 494.9,151.3 494.1,151.3 493.3,151.3 492.6,151.3 491.8,151.3 491.0,151.3 490.2,151.3 489.4,151.3 488.6,151.3 487.8,151.3 487.0,151.3 486.2,151.3 485.4,151.3 484.6,151.3 483.8,151.3 483.0,151.3 482.3,151.3 481.5,151.3 480.7,151.3 479.9,151.3 479.1,151.3 478.3,151.3 477.5,151.3 476.7,151.3 475.9,151.3 475.1,151.3 474.3,151.3 473.5,151.3 472.7,151.3 472.0,151.3 471.2,151.3 470.4,151.3 469.6,151.3 468.8,151.3 468.0,151.3 467.2,151.3 466.4,151.3 465.6,151.3 464.8,151.3 464.0,151.3 463.2,151.3 462.4,151.3 461.7,151.3 460.9,151.3 460.1,151.3 459.3,151.3 458.5,151.3 457.7,151.3 456.9,151.3 456.1,151.3 455.3,151.3 454.5,151.3 453.7,151.3 452.9,151.3 452.1,151.3 451.4,151.3 450.6,151.2 449.8,151.3 449.0,151.3 448.2,151.3 447.4,151.3 446.6,151.2 445.8,151.3 445.0,151.3 444.2,151.3 443.4,151.3 442.6,151.3 441.8,151.3 441.1,151.3 440.3,151.3 439.5,151.3 438.7,151.3 437.9,151.2 437.1,151.3 436.3,151.2 435.5,151.3 434.7,151.3 433.9,151.2 433.1,151.3 432.3,151.2 431.5,151.3 430.8,151.3 430.0,151.3 429.2,151.3 428.4,151.2 427.6,151.3 426.8,151.3 426.0,151.3 425.2,151.1 424.4,151.1 423.6,151.1 422.8,151.2 422.0,151.2 421.2,151.2 420.5,151.3 419.7,151.0 418.9,151.3 418.1,151.2 417.3,151.0 416.5,151.2 415.7,151.2 414.9,151.1 414.1,151.3 413.3,150.9 412.5,151.0 411.7,151.1 410.9,151.0 410.2,151.2 409.4,151.0 408.6,151.2 407.8,151.2 407.0,151.2 406.2,151.2 405.4,151.0 404.6,151.2 403.8,151.2 403.0,150.9 402.2,151.0 401.4,150.8 400.6,151.0 399.9,150.8 399.1,151.1 398.3,150.9 397.5,150.8 396.7,151.0 395.9,151.0 395.1,151.0 394.3,150.8 393.5,150.7 392.7,150.7 391.9,150.7 391.1,150.7 390.3,150.4 389.6,150.3 388.8,150.5 388.0,150.3 387.2,150.5 386.4,149.9 385.6,150.2 384.8,149.9 384.0,150.1 383.2,149.7 382.4,149.9 381.6,149.9 380.8,149.8 380.8,149.2 380.7,149.3 380.6,149.2 380.6,149.4 380.5,149.6 380.5,149.2 380.4,149.7 380.3,149.7 380.3,149.1 380.2,149.6 380.1,149.5 380.1,149.3 380.0,149.7 380.0,149.4 379.9,149.7 379.8,149.4 379.8,149.3 379.7,149.1 379.6,149.4 379.6,149.3 379.5,149.5 379.4,149.3 379.4,148.9 379.3,149.2 379.3,148.9 379.2,149.0 379.1,149.2 379.1,148.9 379.0,148.8 378.9,149.5 378.9,148.8 378.8,149.4 378.7,148.8 378.7,149.5 378.6,148.7 378.6,149.3 378.5,149.2 378.4,149.3 378.4,148.6 378.3,149.1 378.2,148.2 378.2,148.3 378.1,148.3 378.0,148.7 378.0,148.6 377.9,148.3 377.9,148.4 377.8,148.0 377.7,148.3 377.7,147.4 377.6,147.5 377.5,146.9 377.5,146.7 377.4,146.5 377.4,146.4 377.3,146.2 377.2,146.2 377.2,145.8 377.1,145.8 377.0,146.5 377.0,145.8 376.9,146.1 376.8,145.9 376.8,144.9 376.7,145.7 376.7,144.2 376.6,143.4 376.5,143.8 376.5,143.0 376.4,144.4 376.3,143.4 376.3,143.2 376.2,143.4 376.1,141.3 376.1,141.8 376.0,141.7 376.0,141.7 375.9,139.5 375.8,141.4 375.8,140.9 375.7,139.0 375.6,138.8 375.6,136.4 375.5,137.3 375.5,137.0 375.4,133.9 375.3,133.5 375.3,131.3 375.2,129.5 375.1,129.5 375.1,124.5 375.0,123.4 374.9,118.1 374.9,119.3 374.8,116.7 374.8,105.1 374.7,107.8 374.6,98.0 374.6,78.7 374.5,53.3" fill="#31688e"/><polyline points="374.5,44.7 374.6,69.1 374.6,83.8 374.7,93.1 374.8,99.1 374.8,104.9 374.9,110.0 374.9,114.1 375.0,117.4 375.1,120.7 375.1,123.5 375.2,125.8 375.3,127.8 375.3,129.5 375.4,131.2 375.5,132.7 375.5,133.8 375.6,134.9 375.6,135.8 375.7,136.5 375.8,137.1 375.8,137.7 375.9,138.3 376.0,138.8 376.0,139.2 376.1,139.7 376.1,140.1 376.2,140.5 376.3,140.9 376.3,141.3 376.4,141.7 376.5,142.0 376.5,142.3 376.6,142.6 376.7,143.0 376.7,143.3 376.8,143.6 376.8,143.9 376.9,144.2 377.0,144.4 377.0,144.6 377.1,144.9 377.2,145.1 377.2,145.3 377.3,145.5 377.4,145.7 377.4,145.9 377.5,146.1 377.5,146.3 377.6,146.4 377.7,146.6 377.7,146.7 377.8,146.9 377.9,147.0 377.9,147.1 378.0,147.2 378.0,147.4 378.1,147.5 378.2,147.7 378.2,147.8 378.3,147.9 378.4,148.0 378.4,148.1 378.5,148.2 378.6,148.3 378.6,148.4 378.7,148.4 378.7,148.4 378.8,148.4 378.9,148.4 378.9,148.5 379.0,148.5 379.1,148.5 379.1,148.5 379.2,148.5 379.3,148.5 379.3,148.5 379.4,148.6 379.4,148.6 379.5,148.6 379.6,148.6 379.6,148.6 379.7,148.6 379.8,148.6 379.8,148.6 379.9,148.7 380.0,148.7 380.0,148.7 380.1,148.7 380.1,148.7 380.2,148.7 380.3,148.7 380.3,148.7 380.4,148.7 380.5,148.8 380.5,148.8 380.6,148.8 380.6,148.8 380.7,148.8 380.8,148.8 380.8,148.8 381.6,149.0 382.4,149.2 383.2,149.3 384.0,149.4 384.8,149.5 385.6,149.6 386.4,149.7 387.2,149.8 388.0,149.9 388.8,149.9 389.6,150.0 390.3,150.1 391.1,150.1 391.9,150.2 392.7,150.2 393.5,150.3 394.3,150.3 395.1,150.4 395.9,150.4 396.7,150.4 397.5,150.5 398.3,150.5" fill="none" stroke="#31688e" stroke-width="2.4" stroke-linejoin="round"/><polygon points="374.5,28.4 374.6,42.2 374.6,59.0 374.7,63.5 374.8,72.2 374.8,74.8 374.9,83.3 374.9,84.4 375.0,87.4 375.1,93.1 375.1,94.6 375.2,94.9 375.3,97.4 375.3,97.5 375.4,102.3 375.5,105.1 375.5,104.2 375.6,106.2 375.6,110.8 375.7,112.5 375.8,111.5 375.8,116.5 375.9,115.4 376.0,120.2 376.0,121.4 376.1,122.0 376.1,122.0 376.2,123.6 376.3,125.2 376.3,126.5 376.4,127.4 376.5,124.9 376.5,126.2 376.6,127.1 376.7,128.4 376.7,129.3 376.8,130.3 376.8,130.1 376.9,131.5 377.0,130.6 377.0,133.1 377.1,132.9 377.2,132.4 377.2,133.3 377.3,133.1 377.4,133.5 377.4,134.9 377.5,135.0 377.5,136.3 377.6,135.7 377.7,134.5 377.7,137.0 377.8,135.1 377.9,135.5 377.9,136.0 378.0,137.7 378.0,136.3 378.1,136.2 378.2,138.0 378.2,138.6 378.3,138.7 378.4,138.7 378.4,138.9 378.5,139.5 378.6,139.4 378.6,139.3 378.7,138.7 378.7,138.4 378.8,140.6 378.9,138.9 378.9,139.1 379.0,139.2 379.1,140.2 379.1,140.6 379.2,141.1 379.3,141.1 379.3,141.3 379.4,141.5 379.4,141.4 379.5,142.2 379.6,142.2 379.6,141.8 379.7,142.7 379.8,141.5 379.8,141.8 379.9,142.7 380.0,142.0 380.0,141.9 380.1,142.3 380.1,143.2 380.2,142.8 380.3,142.8 380.3,142.7 380.4,143.5 380.5,143.8 380.5,143.7 380.6,144.4 380.6,143.3 380.7,143.7 380.8,144.0 380.8,144.1 381.6,144.1 382.4,145.6 383.2,145.0 384.0,146.0 384.8,146.0 385.6,146.3 386.4,146.7 387.2,146.9 388.0,147.0 388.8,147.4 389.6,147.6 390.3,148.0 391.1,147.9 391.9,147.9 392.7,148.3 393.5,148.5 394.3,148.0 395.1,148.7 395.9,148.8 396.7,148.7 397.5,148.6 398.3,148.6 399.1,148.8 399.9,148.9 400.6,149.0 401.4,149.3 402.2,148.9 403.0,148.9 403.8,148.8 404.6,149.3 405.4,149.2 406.2,149.4 407.0,149.2 407.8,149.2 408.6,149.5 409.4,149.6 410.2,149.2 410.9,149.4 411.7,149.7 412.5,149.6 413.3,149.6 414.1,149.5 414.9,149.5 415.7,149.5 416.5,149.9 417.3,149.9 418.1,149.7 418.9,149.7 419.7,150.0 420.5,149.8 421.2,149.7 422.0,149.7 422.8,149.7 423.6,149.9 424.4,150.0 425.2,149.9 426.0,149.9 426.8,150.1 427.6,149.9 428.4,150.1 429.2,149.8 430.0,150.2 430.8,150.0 431.5,150.0 432.3,150.0 433.1,150.1 433.9,150.0 434.7,150.4 435.5,150.3 436.3,150.0 437.1,150.2 437.9,150.3 438.7,150.4 439.5,150.4 440.3,150.5 441.1,150.2 441.8,150.5 442.6,150.2 443.4,150.5 444.2,150.5 445.0,150.4 445.8,150.6 446.6,150.6 447.4,150.2 448.2,150.2 449.0,150.4 449.8,150.4 450.6,150.6 451.4,150.6 452.1,150.6 452.9,150.5 453.7,150.4 454.5,150.5 455.3,150.6 456.1,150.7 456.9,150.7 457.7,150.6 458.5,150.6 459.3,150.6 460.1,150.5 460.9,150.7 461.7,150.4 462.4,150.6 463.2,150.4 464.0,150.6 464.8,150.6 465.6,150.5 466.4,150.7 467.2,150.6 468.0,150.5 468.8,150.7 469.6,150.7 470.4,150.7 471.2,150.8 472.0,150.8 472.7,150.8 473.5,150.6 474.3,150.5 475.1,150.9 475.9,150.7 476.7,150.7 477.5,150.8 478.3,150.6 479.1,150.8 479.9,150.9 480.7,150.9 481.5,150.7 482.3,150.6 483.0,150.7 483.8,150.6 484.6,150.9 485.4,150.9 486.2,150.7 487.0,150.8 487.8,150.7 488.6,150.8 489.4,150.8 490.2,150.7 491.0,150.7 491.8,150.6 492.6,150.7 493.3,150.7 494.1,150.9 494.9,150.8 495.7,150.9 496.5,150.7 497.3,150.8 498.1,150.9 498.1,151.3 497.3,151.3 496.5,151.3 495.7,151.3 494.9,151.3 494.1,151.3 493.3,151.3 492.6,151.3 491.8,151.3 491.0,151.3 490.2,151.3 489.4,151.3 488.6,151.3 487.8,151.3 487.0,151.3 486.2,151.3 485.4,151.2 484.6,151.2 483.8,151.3 483.0,151.3 482.3,151.3 481.5,151.3 480.7,151.3 479.9,151.3 479.1,151.3 478.3,151.3 477.5,151.3 476.7,151.3 475.9,151.3 475.1,151.2 474.3,151.3 473.5,151.3 472.7,151.2 472.0,151.2 471.2,151.3 470.4,151.3 469.6,151.3 468.8,151.1 468.0,151.2 467.2,151.3 466.4,151.3 465.6,151.3 464.8,151.3 464.0,151.2 463.2,151.1 462.4,151.3 461.7,151.3 460.9,151.3 460.1,151.3 459.3,151.3 458.5,151.2 457.7,151.2 456.9,151.3 456.1,151.3 455.3,151.3 454.5,151.3 453.7,151.1 452.9,151.2 452.1,151.1 451.4,151.0 450.6,151.2 449.8,151.1 449.0,151.1 448.2,151.2 447.4,151.2 446.6,151.1 445.8,151.1 445.0,151.2 444.2,151.0 443.4,151.1 442.6,150.9 441.8,150.9 441.1,151.3 440.3,151.0 439.5,151.1 438.7,150.9 437.9,150.9 437.1,151.1 436.3,151.0 435.5,150.9 434.7,150.9 433.9,150.9 433.1,150.8 432.3,151.1 431.5,150.8 430.8,151.0 430.0,151.0 429.2,151.0 428.4,150.9 427.6,150.7 426.8,150.7 426.0,150.6 425.2,150.8 424.4,150.8 423.6,150.8 422.8,150.6 422.0,150.6 421.2,150.8 420.5,150.9 419.7,150.7 418.9,150.5 418.1,150.5 417.3,150.5 416.5,150.7 415.7,150.5 414.9,150.5 414.1,150.4 413.3,150.6 412.5,150.6 411.7,150.7 410.9,150.7 410.2,150.2 409.4,150.2 408.6,150.2 407.8,150.2 407.0,150.1 406.2,150.1 405.4,150.0 404.6,150.3 403.8,150.3 403.0,150.4 402.2,150.0 401.4,149.9 400.6,150.3 399.9,149.8 399.1,149.8 398.3,149.9 397.5,149.7 396.7,149.7 395.9,149.8 395.1,149.9 394.3,149.8 393.5,149.6 392.7,149.6 391.9,149.5 391.1,149.6 390.3,148.9 389.6,148.8 388.8,148.7 388.0,148.2 387.2,148.3 386.4,148.5 385.6,148.5 384.8,147.6 384.0,147.3 383.2,147.6 382.4,147.7 381.6,146.5 380.8,146.2 380.8,145.9 380.7,145.9 380.6,145.8 380.6,145.6 380.5,145.9 380.5,145.5 380.4,146.1 380.3,145.6 380.3,146.1 380.2,145.6 380.1,145.6 380.1,145.8 380.0,146.0 380.0,146.0 379.9,145.7 379.8,145.7 379.8,144.7 379.7,145.7 379.6,145.5 379.6,144.8 379.5,143.8 379.4,144.4 379.4,145.1 379.3,144.9 379.3,143.7 379.2,143.6 379.1,144.8 379.1,143.3 379.0,143.9 378.9,144.0 378.9,143.9 378.8,143.8 378.7,142.6 378.7,143.8 378.6,142.6 378.6,143.1 378.5,141.6 378.4,141.9 378.4,142.6 378.3,142.5 378.2,142.4 378.2,142.8 378.1,140.8 378.0,142.3 378.0,141.7 377.9,140.4 377.9,141.1 377.8,139.9 377.7,140.7 377.7,139.3 377.6,139.7 377.5,140.2 377.5,139.2 377.4,138.8 377.4,140.7 377.3,140.2 377.2,138.0 377.2,139.6 377.1,137.0 377.0,136.9 377.0,138.0 376.9,136.8 376.8,137.5 376.8,136.9 376.7,135.4 376.7,135.1 376.6,134.9 376.5,135.6 376.5,135.7 376.4,134.4 376.3,132.7 376.3,130.3 376.2,130.5 376.1,129.1 376.1,128.9 376.0,126.9 376.0,130.3 375.9,129.0 375.8,128.1 375.8,122.1 375.7,121.2 375.6,123.3 375.6,118.2 375.5,120.4 375.5,119.8 375.4,117.9 375.3,112.8 375.3,114.8 375.2,111.0 375.1,104.4 375.1,109.6 375.0,101.8 374.9,97.8 374.9,95.9 374.8,92.2 374.8,91.7 374.7,93.8 374.6,86.9 374.6,78.1 374.5,67.9" fill="#26828e"/><polyline points="374.5,44.7 374.6,58.5 374.6,65.9 374.7,74.4 374.8,80.1 374.8,85.6 374.9,89.8 374.9,93.2 375.0,96.1 375.1,98.6 375.1,100.7 375.2,103.5 375.3,105.9 375.3,108.0 375.4,110.2 375.5,112.1 375.5,113.8 375.6,115.3 375.6,116.7 375.7,118.0 375.8,119.5 375.8,120.9 375.9,122.1 376.0,123.3 376.0,124.4 376.1,125.4 376.1,126.3 376.2,127.1 376.3,127.9 376.3,128.7 376.4,129.4 376.5,130.2 376.5,130.9 376.6,131.6 376.7,132.2 376.7,132.8 376.8,133.3 376.8,133.8 376.9,134.3 377.0,134.7 377.0,135.2 377.1,135.6 377.2,135.9 377.2,136.2 377.3,136.5 377.4,136.8 377.4,137.1 377.5,137.3 377.5,137.6 377.6,137.8 377.7,138.0 377.7,138.3 377.8,138.5 377.9,138.7 377.9,138.9 378.0,139.1 378.0,139.3 378.1,139.5 378.2,139.7 378.2,139.9 378.3,140.0 378.4,140.2 378.4,140.4 378.5,140.6 378.6,140.8 378.6,141.0 378.7,141.1 378.7,141.3 378.8,141.4 378.9,141.6 378.9,141.7 379.0,141.9 379.1,142.0 379.1,142.1 379.2,142.3 379.3,142.4 379.3,142.5 379.4,142.7 379.4,142.9 379.5,143.0 379.6,143.1 379.6,143.3 379.7,143.4 379.8,143.5 379.8,143.7 379.9,143.8 380.0,143.9 380.0,144.0 380.1,144.2 380.1,144.3 380.2,144.4 380.3,144.5 380.3,144.6 380.4,144.7 380.5,144.8 380.5,144.9 380.6,145.0 380.6,145.1 380.7,145.2 380.8,145.3 380.8,145.4 381.6,145.8 382.4,146.1 383.2,146.5 384.0,146.8 384.8,147.0 385.6,147.2 386.4,147.4 387.2,147.7 388.0,147.9 388.8,148.0 389.6,148.2 390.3,148.3 391.1,148.5 391.9,148.6 392.7,148.7 393.5,148.8 394.3,148.9 395.1,149.0 395.9,149.1 396.7,149.2 397.5,149.3 398.3,149.3" fill="none" stroke="#26828e" stroke-width="2.4" stroke-linejoin="round"/><polygon points="374.5,23.3 374.6,36.8 374.6,44.6 374.7,46.3 374.8,55.9 374.8,52.7 374.9,64.9 374.9,69.8 375.0,66.0 375.1,73.3 375.1,77.0 375.2,74.0 375.3,85.8 375.3,87.4 375.4,84.4 375.5,91.4 375.5,84.5 375.6,85.3 375.6,93.1 375.7,88.9 375.8,94.4 375.8,95.3 375.9,97.9 376.0,95.4 376.0,101.4 376.1,97.9 376.1,103.8 376.2,105.7 376.3,101.4 376.3,109.0 376.4,109.6 376.5,107.4 376.5,106.1 376.6,107.6 376.7,109.4 376.7,114.6 376.8,115.0 376.8,111.4 376.9,112.4 377.0,112.2 377.0,116.6 377.1,116.3 377.2,118.6 377.2,120.2 377.3,117.8 377.4,118.4 377.4,122.2 377.5,120.3 377.5,119.5 377.6,120.5 377.7,123.2 377.7,125.1 377.8,124.5 377.9,125.4 377.9,124.8 378.0,124.8 378.0,125.3 378.1,127.1 378.2,126.8 378.2,127.7 378.3,125.6 378.4,126.3 378.4,126.2 378.5,128.7 378.6,127.6 378.6,130.2 378.7,129.9 378.7,130.1 378.8,130.8 378.9,131.4 378.9,129.2 379.0,131.1 379.1,130.5 379.1,132.5 379.2,131.2 379.3,131.4 379.3,131.0 379.4,133.3 379.4,131.4 379.5,132.0 379.6,134.3 379.6,133.7 379.7,134.0 379.8,132.3 379.8,133.4 379.9,135.1 380.0,134.3 380.0,133.7 380.1,135.8 380.1,134.1 380.2,134.3 380.3,134.2 380.3,135.9 380.4,133.8 380.5,135.4 380.5,134.7 380.6,136.0 380.6,136.6 380.7,136.6 380.8,135.4 380.8,134.6 381.6,136.3 382.4,138.6 383.2,139.5 384.0,138.2 384.8,140.0 385.6,139.6 386.4,140.5 387.2,141.1 388.0,141.5 388.8,142.7 389.6,143.2 390.3,143.9 391.1,142.9 391.9,144.5 392.7,143.7 393.5,145.1 394.3,144.7 395.1,144.6 395.9,145.2 396.7,145.4 397.5,145.7 398.3,146.3 399.1,145.6 399.9,146.0 400.6,145.9 401.4,146.1 402.2,146.8 403.0,146.4 403.8,146.7 404.6,147.1 405.4,146.9 406.2,146.6 407.0,147.6 407.8,147.1 408.6,147.4 409.4,147.4 410.2,147.3 410.9,147.8 411.7,148.0 412.5,148.0 413.3,147.8 414.1,147.7 414.9,147.9 415.7,147.7 416.5,148.2 417.3,148.4 418.1,148.1 418.9,148.0 419.7,148.3 420.5,148.6 421.2,148.4 422.0,148.3 422.8,148.6 423.6,148.3 424.4,148.8 425.2,148.5 426.0,148.8 426.8,149.0 427.6,148.9 428.4,149.1 429.2,148.9 430.0,148.7 430.8,148.8 431.5,148.9 432.3,149.3 433.1,149.0 433.9,149.0 434.7,149.3 435.5,149.2 436.3,149.3 437.1,149.3 437.9,149.5 438.7,149.3 439.5,149.5 440.3,149.4 441.1,149.7 441.8,149.6 442.6,149.7 443.4,149.4 444.2,149.3 445.0,149.5 445.8,149.7 446.6,149.7 447.4,149.6 448.2,149.8 449.0,149.9 449.8,149.5 450.6,149.7 451.4,149.6 452.1,149.8 452.9,149.9 453.7,150.1 454.5,149.8 455.3,149.9 456.1,150.1 456.9,150.1 457.7,149.7 458.5,149.9 459.3,150.1 460.1,150.1 460.9,150.0 461.7,149.9 462.4,150.2 463.2,150.0 464.0,150.1 464.8,150.0 465.6,150.3 466.4,150.2 467.2,150.1 468.0,150.3 468.8,150.2 469.6,150.2 470.4,150.2 471.2,150.1 472.0,150.1 472.7,150.4 473.5,150.2 474.3,150.5 475.1,150.4 475.9,150.2 476.7,150.2 477.5,150.1 478.3,150.4 479.1,150.4 479.9,150.3 480.7,150.3 481.5,150.2 482.3,150.5 483.0,150.6 483.8,150.5 484.6,150.3 485.4,150.6 486.2,150.6 487.0,150.3 487.8,150.3 488.6,150.5 489.4,150.4 490.2,150.5 491.0,150.6 491.8,150.5 492.6,150.7 493.3,150.5 494.1,150.5 494.9,150.4 495.7,150.4 496.5,150.7 497.3,150.6 498.1,150.7 498.1,151.2 497.3,151.3 496.5,151.3 495.7,151.3 494.9,151.3 494.1,151.3 493.3,151.2 492.6,151.3 491.8,151.2 491.0,151.2 490.2,151.2 489.4,151.0 488.6,151.3 487.8,151.3 487.0,151.1 486.2,151.2 485.4,151.3 484.6,151.0 483.8,151.3 483.0,151.0 482.3,151.0 481.5,151.1 480.7,151.3 479.9,150.9 479.1,151.0 478.3,151.2 477.5,151.2 476.7,151.2 475.9,151.0 475.1,150.9 474.3,151.0 473.5,151.2 472.7,150.8 472.0,150.9 471.2,151.1 470.4,151.0 469.6,151.1 468.8,151.1 468.0,150.9 467.2,151.1 466.4,150.8 465.6,150.9 464.8,150.7 464.0,151.0 463.2,151.0 462.4,151.0 461.7,150.7 460.9,150.8 460.1,151.0 459.3,151.0 458.5,151.0 457.7,150.7 456.9,150.8 456.1,150.9 455.3,150.7 454.5,150.7 453.7,150.5 452.9,150.6 452.1,150.7 451.4,150.4 450.6,150.5 449.8,150.8 449.0,150.5 448.2,150.6 447.4,150.5 446.6,150.4 445.8,150.4 445.0,150.4 444.2,150.6 443.4,150.5 442.6,150.6 441.8,150.6 441.1,150.5 440.3,150.5 439.5,150.3 438.7,150.1 437.9,150.3 437.1,150.5 436.3,150.3 435.5,150.2 434.7,150.3 433.9,150.4 433.1,150.2 432.3,150.3 431.5,149.9 430.8,149.9 430.0,150.2 429.2,150.3 428.4,150.3 427.6,149.8 426.8,149.7 426.0,149.7 425.2,150.0 424.4,149.6 423.6,150.1 422.8,150.0 422.0,149.9 421.2,149.6 420.5,149.8 419.7,149.2 418.9,149.8 418.1,149.4 417.3,149.1 416.5,149.2 415.7,149.2 414.9,149.6 414.1,148.9 413.3,148.8 412.5,149.2 411.7,149.5 410.9,148.9 410.2,149.3 409.4,148.8 408.6,148.9 407.8,149.2 407.0,149.1 406.2,149.0 405.4,148.2 404.6,148.1 403.8,148.7 403.0,148.6 402.2,148.4 401.4,147.8 400.6,148.3 399.9,147.9 399.1,147.8 398.3,148.0 397.5,147.2 396.7,147.1 395.9,147.7 395.1,147.4 394.3,147.7 393.5,147.4 392.7,146.5 391.9,146.8 391.1,146.5 390.3,146.6 389.6,146.1 388.8,144.9 388.0,144.9 387.2,145.0 386.4,143.9 385.6,144.3 384.8,143.0 384.0,142.0 383.2,142.1 382.4,141.7 381.6,141.3 380.8,139.7 380.8,140.3 380.7,141.0 380.6,140.7 380.6,139.1 380.5,140.8 380.5,141.1 380.4,140.6 380.3,139.4 380.3,138.8 380.2,138.6 380.1,140.1 380.1,141.0 380.0,140.1 380.0,138.6 379.9,138.9 379.8,140.1 379.8,138.7 379.7,138.6 379.6,138.7 379.6,139.9 379.5,138.6 379.4,136.9 379.4,138.9 379.3,139.0 379.3,137.6 379.2,138.8 379.1,138.2 379.1,138.4 379.0,137.7 378.9,137.3 378.9,137.4 378.8,136.3 378.7,136.7 378.7,136.6 378.6,134.6 378.6,133.8 378.5,136.0 378.4,134.4 378.4,134.0 378.3,135.8 378.2,132.1 378.2,133.7 378.1,131.9 378.0,131.6 378.0,131.4 377.9,130.7 377.9,132.0 377.8,132.5 377.7,129.3 377.7,132.3 377.6,131.1 377.5,127.7 377.5,129.0 377.4,126.8 377.4,131.0 377.3,130.0 377.2,125.4 377.2,126.2 377.1,128.8 377.0,125.8 377.0,127.1 376.9,126.8 376.8,122.7 376.8,123.4 376.7,119.9 376.7,120.4 376.6,119.6 376.5,120.1 376.5,118.4 376.4,117.9 376.3,115.7 376.3,118.2 376.2,113.9 376.1,115.6 376.1,114.9 376.0,118.4 376.0,112.5 375.9,109.0 375.8,108.0 375.8,108.9 375.7,110.7 375.6,106.8 375.6,106.9 375.5,104.6 375.5,102.9 375.4,101.7 375.3,101.7 375.3,101.8 375.2,97.0 375.1,93.5 375.1,93.4 375.0,96.6 374.9,85.3 374.9,86.7 374.8,80.7 374.8,84.1 374.7,72.9 374.6,68.5 374.6,79.8 374.5,53.5" fill="#1f9e89"/><polyline points="374.5,44.7 374.6,55.8 374.6,58.8 374.7,60.5 374.8,67.0 374.8,71.8 374.9,75.4 374.9,78.4 375.0,81.4 375.1,84.3 375.1,86.8 375.2,89.0 375.3,91.0 375.3,92.7 375.4,94.4 375.5,95.9 375.5,97.2 375.6,98.4 375.6,99.6 375.7,100.7 375.8,102.2 375.8,103.6 375.9,104.9 376.0,106.2 376.0,107.3 376.1,108.4 376.1,109.5 376.2,110.6 376.3,111.6 376.3,112.6 376.4,113.5 376.5,114.3 376.5,115.1 376.6,115.9 376.7,116.6 376.7,117.3 376.8,118.0 376.8,118.7 376.9,119.5 377.0,120.2 377.0,120.9 377.1,121.6 377.2,122.3 377.2,122.9 377.3,123.5 377.4,124.0 377.4,124.6 377.5,125.1 377.5,125.6 377.6,126.1 377.7,126.6 377.7,127.0 377.8,127.4 377.9,127.9 377.9,128.3 378.0,128.6 378.0,129.0 378.1,129.4 378.2,129.8 378.2,130.2 378.3,130.6 378.4,131.0 378.4,131.3 378.5,131.7 378.6,132.0 378.6,132.4 378.7,132.7 378.7,132.9 378.8,133.2 378.9,133.5 378.9,133.7 379.0,134.0 379.1,134.2 379.1,134.5 379.2,134.7 379.3,134.9 379.3,135.2 379.4,135.4 379.4,135.6 379.5,135.8 379.6,136.0 379.6,136.1 379.7,136.3 379.8,136.4 379.8,136.6 379.9,136.7 380.0,136.9 380.0,137.0 380.1,137.1 380.1,137.3 380.2,137.3 380.3,137.4 380.3,137.5 380.4,137.5 380.5,137.6 380.5,137.6 380.6,137.7 380.6,137.8 380.7,137.9 380.8,138.0 380.8,138.0 381.6,138.9 382.4,139.7 383.2,140.4 384.0,141.1 384.8,141.6 385.6,142.1 386.4,142.6 387.2,143.1 388.0,143.5 388.8,143.9 389.6,144.3 390.3,144.6 391.1,144.9 391.9,145.2 392.7,145.4 393.5,145.7 394.3,146.0 395.1,146.2 395.9,146.4 396.7,146.6 397.5,146.7 398.3,146.9" fill="none" stroke="#1f9e89" stroke-width="2.4" stroke-linejoin="round"/><polygon points="374.5,22.7 374.6,45.3 374.6,43.0 374.7,46.1 374.8,43.3 374.8,52.8 374.9,56.4 374.9,53.9 375.0,51.0 375.1,54.6 375.1,62.4 375.2,69.0 375.3,64.3 375.3,71.8 375.4,74.8 375.5,73.4 375.5,80.2 375.6,81.2 375.6,75.1 375.7,82.0 375.8,85.3 375.8,82.4 375.9,86.6 376.0,79.5 376.0,85.8 376.1,85.0 376.1,83.8 376.2,88.7 376.3,87.5 376.3,90.8 376.4,87.9 376.5,91.8 376.5,93.2 376.6,90.0 376.7,95.2 376.7,97.3 376.8,93.4 376.8,96.8 376.9,97.0 377.0,99.4 377.0,100.2 377.1,98.0 377.2,104.7 377.2,98.9 377.3,102.3 377.4,102.0 377.4,100.8 377.5,103.3 377.5,109.2 377.6,104.3 377.7,105.1 377.7,104.7 377.8,109.9 377.9,106.7 377.9,107.6 378.0,109.2 378.0,108.7 378.1,112.5 378.2,111.7 378.2,111.4 378.3,109.7 378.4,111.5 378.4,116.0 378.5,111.9 378.6,113.0 378.6,113.1 378.7,113.8 378.7,114.9 378.8,116.0 378.9,118.9 378.9,117.2 379.0,115.9 379.1,115.8 379.1,120.2 379.2,118.0 379.3,120.4 379.3,119.3 379.4,121.0 379.4,122.0 379.5,120.4 379.6,121.9 379.6,122.0 379.7,120.1 379.8,121.5 379.8,123.7 379.9,123.9 380.0,123.0 380.0,125.3 380.1,122.3 380.1,122.9 380.2,125.9 380.3,126.0 380.3,126.2 380.4,124.4 380.5,125.6 380.5,124.7 380.6,124.7 380.6,123.5 380.7,125.0 380.8,127.2 380.8,126.3 381.6,125.9 382.4,127.6 383.2,129.0 384.0,130.6 384.8,133.3 385.6,134.0 386.4,134.6 387.2,135.9 388.0,135.8 388.8,137.3 389.6,136.9 390.3,139.1 391.1,138.3 391.9,139.7 392.7,139.0 393.5,139.5 394.3,140.6 395.1,142.0 395.9,142.3 396.7,141.4 397.5,142.6 398.3,142.4 399.1,142.3 399.9,142.5 400.6,142.5 401.4,143.2 402.2,143.8 403.0,143.7 403.8,144.0 404.6,144.3 405.4,143.6 406.2,143.9 407.0,144.7 407.8,144.1 408.6,144.2 409.4,145.0 410.2,145.0 410.9,145.2 411.7,145.3 412.5,145.1 413.3,145.3 414.1,146.2 414.9,146.3 415.7,145.8 416.5,146.2 417.3,145.8 418.1,146.7 418.9,146.5 419.7,146.3 420.5,146.2 421.2,146.7 422.0,146.7 422.8,146.9 423.6,147.1 424.4,147.1 425.2,146.9 426.0,147.0 426.8,147.6 427.6,147.2 428.4,147.1 429.2,147.5 430.0,147.3 430.8,147.4 431.5,147.7 432.3,148.1 433.1,147.8 433.9,148.0 434.7,147.6 435.5,147.7 436.3,148.0 437.1,148.0 437.9,148.0 438.7,147.9 439.5,148.1 440.3,148.4 441.1,148.6 441.8,148.2 442.6,148.7 443.4,148.8 444.2,148.4 445.0,148.4 445.8,148.7 446.6,148.5 447.4,148.5 448.2,148.8 449.0,149.1 449.8,149.1 450.6,148.9 451.4,149.1 452.1,149.2 452.9,149.1 453.7,149.1 454.5,149.0 455.3,148.9 456.1,149.1 456.9,148.9 457.7,149.4 458.5,149.3 459.3,149.4 460.1,149.4 460.9,149.6 461.7,149.4 462.4,149.3 463.2,149.6 464.0,149.7 464.8,149.7 465.6,149.5 466.4,149.3 467.2,149.8 468.0,149.8 468.8,149.5 469.6,149.7 470.4,149.7 471.2,149.6 472.0,149.8 472.7,149.5 473.5,149.8 474.3,149.8 475.1,149.6 475.9,149.8 476.7,150.0 477.5,150.0 478.3,149.7 479.1,150.0 479.9,150.0 480.7,150.2 481.5,150.2 482.3,150.2 483.0,150.1 483.8,149.8 484.6,150.0 485.4,150.3 486.2,150.1 487.0,150.2 487.8,149.9 488.6,149.9 489.4,150.1 490.2,150.0 491.0,150.2 491.8,150.3 492.6,150.1 493.3,150.4 494.1,150.2 494.9,150.1 495.7,150.4 496.5,150.2 497.3,150.4 498.1,150.2 498.1,150.9 497.3,151.2 496.5,151.2 495.7,151.2 494.9,151.0 494.1,151.2 493.3,150.8 492.6,150.9 491.8,150.8 491.0,150.8 490.2,150.9 489.4,151.1 488.6,151.0 487.8,151.1 487.0,150.9 486.2,150.8 485.4,150.7 484.6,151.0 483.8,150.8 483.0,151.1 482.3,150.9 481.5,150.9 480.7,150.6 479.9,151.0 479.1,150.6 478.3,150.7 477.5,150.6 476.7,150.6 475.9,150.7 475.1,150.9 474.3,150.7 473.5,150.6 472.7,150.7 472.0,150.7 471.2,150.7 470.4,150.5 469.6,150.7 468.8,150.5 468.0,150.4 467.2,150.4 466.4,150.4 465.6,150.7 464.8,150.5 464.0,150.5 463.2,150.3 462.4,150.2 461.7,150.6 460.9,150.2 460.1,150.1 459.3,150.5 458.5,150.5 457.7,150.1 456.9,150.2 456.1,150.2 455.3,150.1 454.5,150.4 453.7,150.4 452.9,150.1 452.1,150.3 451.4,150.3 450.6,150.1 449.8,149.9 449.0,150.1 448.2,150.3 447.4,150.2 446.6,150.0 445.8,149.8 445.0,150.0 444.2,149.5 443.4,149.4 442.6,149.6 441.8,149.8 441.1,149.4 440.3,149.3 439.5,149.8 438.7,149.3 437.9,149.2 437.1,149.6 436.3,149.2 435.5,149.2 434.7,149.7 433.9,149.3 433.1,149.3 432.3,149.1 431.5,149.0 430.8,149.3 430.0,148.9 429.2,149.2 428.4,149.0 427.6,149.1 426.8,149.2 426.0,148.5 425.2,148.3 424.4,149.0 423.6,148.2 422.8,148.3 422.0,148.5 421.2,148.2 420.5,148.0 419.7,147.8 418.9,148.5 418.1,148.0 417.3,148.2 416.5,148.0 415.7,148.2 414.9,148.0 414.1,147.8 413.3,147.2 412.5,148.1 411.7,147.0 410.9,146.9 410.2,146.8 409.4,147.2 408.6,147.5 407.8,147.4 407.0,147.5 406.2,146.5 405.4,146.6 404.6,146.5 403.8,146.8 403.0,146.7 402.2,146.4 401.4,145.4 400.6,145.6 399.9,145.3 399.1,144.9 398.3,144.7 397.5,145.8 396.7,145.4 395.9,145.1 395.1,144.6 394.3,144.9 393.5,143.7 392.7,142.5 391.9,143.3 391.1,142.4 390.3,141.9 389.6,141.7 388.8,141.5 388.0,140.5 387.2,139.6 386.4,138.2 385.6,139.6 384.8,139.2 384.0,137.6 383.2,135.6 382.4,136.5 381.6,134.6 380.8,132.3 380.8,133.3 380.7,131.4 380.6,131.8 380.6,134.6 380.5,133.6 380.5,133.2 380.4,133.3 380.3,131.3 380.3,132.6 380.2,134.2 380.1,131.8 380.1,133.5 380.0,133.1 380.0,130.0 379.9,129.5 379.8,130.5 379.8,130.6 379.7,129.4 379.6,130.0 379.6,130.4 379.5,132.1 379.4,131.6 379.4,129.1 379.3,131.5 379.3,126.7 379.2,128.1 379.1,129.3 379.1,130.0 379.0,125.5 378.9,128.0 378.9,125.5 378.8,128.2 378.7,125.0 378.7,125.9 378.6,126.8 378.6,122.8 378.5,126.1 378.4,125.9 378.4,121.1 378.3,125.5 378.2,120.1 378.2,121.5 378.1,123.7 378.0,125.2 378.0,124.7 377.9,121.9 377.9,118.3 377.8,117.3 377.7,119.9 377.7,117.8 377.6,118.7 377.5,121.1 377.5,117.1 377.4,119.9 377.4,120.7 377.3,119.5 377.2,113.9 377.2,114.4 377.1,115.1 377.0,116.4 377.0,115.0 376.9,110.7 376.8,113.2 376.8,111.1 376.7,111.1 376.7,108.2 376.6,110.5 376.5,107.1 376.5,105.4 376.4,109.5 376.3,109.0 376.3,106.0 376.2,107.4 376.1,108.0 376.1,102.4 376.0,107.5 376.0,104.8 375.9,105.5 375.8,102.7 375.8,98.3 375.7,101.6 375.6,94.9 375.6,95.1 375.5,100.1 375.5,90.5 375.4,90.0 375.3,87.1 375.3,93.4 375.2,87.3 375.1,81.9 375.1,85.3 375.0,89.0 374.9,81.5 374.9,80.8 374.8,68.4 374.8,76.6 374.7,66.3 374.6,70.0 374.6,68.8 374.5,56.7" fill="#35b779"/><polyline points="374.5,44.7 374.6,53.7 374.6,56.6 374.7,58.3 374.8,59.5 374.8,60.5 374.9,64.7 374.9,68.1 375.0,70.9 375.1,73.3 375.1,75.4 375.2,77.3 375.3,79.0 375.3,80.7 375.4,82.6 375.5,84.3 375.5,85.9 375.6,87.3 375.6,88.6 375.7,89.8 375.8,91.0 375.8,92.0 375.9,93.1 376.0,94.1 376.0,95.0 376.1,95.9 376.1,96.7 376.2,97.5 376.3,98.2 376.3,98.9 376.4,99.6 376.5,100.2 376.5,101.0 376.6,101.9 376.7,102.8 376.7,103.6 376.8,104.4 376.8,105.2 376.9,105.9 377.0,106.6 377.0,107.3 377.1,107.9 377.2,108.6 377.2,109.3 377.3,110.0 377.4,110.6 377.4,111.2 377.5,111.8 377.5,112.4 377.6,112.9 377.7,113.5 377.7,114.0 377.8,114.5 377.9,115.0 377.9,115.4 378.0,115.9 378.0,116.3 378.1,116.7 378.2,117.2 378.2,117.6 378.3,118.0 378.4,118.4 378.4,118.8 378.5,119.3 378.6,119.8 378.6,120.2 378.7,120.7 378.7,121.1 378.8,121.5 378.9,121.9 378.9,122.3 379.0,122.6 379.1,123.0 379.1,123.4 379.2,123.7 379.3,124.0 379.3,124.4 379.4,124.7 379.4,125.0 379.5,125.3 379.6,125.6 379.6,125.9 379.7,126.2 379.8,126.5 379.8,126.7 379.9,127.0 380.0,127.3 380.0,127.5 380.1,127.8 380.1,127.9 380.2,128.0 380.3,128.1 380.3,128.2 380.4,128.3 380.5,128.4 380.5,128.5 380.6,128.7 380.6,128.8 380.7,128.9 380.8,129.1 380.8,129.2 381.6,130.7 382.4,132.0 383.2,133.2 384.0,134.3 384.8,135.2 385.6,136.0 386.4,136.8 387.2,137.6 388.0,138.4 388.8,139.0 389.6,139.6 390.3,140.2 391.1,140.7 391.9,141.1 392.7,141.5 393.5,142.0 394.3,142.4 395.1,142.8 395.9,143.1 396.7,143.4 397.5,143.7 398.3,143.9" fill="none" stroke="#35b779" stroke-width="2.4" stroke-linejoin="round"/><polygon points="374.5,36.3 374.6,31.9 374.6,41.6 374.7,41.3 374.8,36.1 374.8,41.0 374.9,39.4 374.9,41.2 375.0,46.5 375.1,51.6 375.1,49.5 375.2,48.2 375.3,51.3 375.3,53.5 375.4,63.5 375.5,66.1 375.5,60.7 375.6,64.7 375.6,59.7 375.7,71.4 375.8,62.3 375.8,64.2 375.9,77.3 376.0,76.4 376.0,70.6 376.1,74.0 376.1,79.7 376.2,73.0 376.3,74.7 376.3,78.7 376.4,80.8 376.5,76.2 376.5,83.3 376.6,80.7 376.7,81.9 376.7,87.3 376.8,82.1 376.8,87.2 376.9,86.7 377.0,88.9 377.0,90.0 377.1,85.5 377.2,92.4 377.2,87.9 377.3,87.7 377.4,87.3 377.4,92.5 377.5,95.1 377.5,90.4 377.6,96.0 377.7,88.4 377.7,97.5 377.8,90.7 377.9,94.5 377.9,95.6 378.0,96.8 378.0,100.2 378.1,95.7 378.2,97.3 378.2,97.4 378.3,98.5 378.4,96.0 378.4,100.1 378.5,96.8 378.6,104.2 378.6,101.9 378.7,100.8 378.7,105.7 378.8,102.0 378.9,105.5 378.9,99.7 379.0,101.6 379.1,103.5 379.1,103.3 379.2,102.7 379.3,104.5 379.3,102.7 379.4,109.5 379.4,106.1 379.5,110.3 379.6,108.4 379.6,107.1 379.7,107.2 379.8,111.6 379.8,108.0 379.9,108.5 380.0,112.8 380.0,112.2 380.1,110.0 380.1,107.9 380.2,111.2 380.3,109.0 380.3,113.2 380.4,108.4 380.5,109.6 380.5,113.0 380.6,113.8 380.6,110.9 380.7,109.7 380.8,111.7 380.8,115.3 381.6,116.2 382.4,117.4 383.2,121.9 384.0,123.5 384.8,123.1 385.6,125.8 386.4,124.4 387.2,127.5 388.0,127.0 388.8,129.9 389.6,131.1 390.3,130.8 391.1,132.0 391.9,133.1 392.7,134.9 393.5,135.7 394.3,134.3 395.1,136.3 395.9,135.5 396.7,137.9 397.5,137.3 398.3,137.6 399.1,137.9 399.9,139.5 400.6,138.7 401.4,140.4 402.2,138.9 403.0,140.8 403.8,140.3 404.6,139.7 405.4,141.0 406.2,140.9 407.0,141.2 407.8,141.2 408.6,141.4 409.4,142.2 410.2,142.8 410.9,142.1 411.7,141.8 412.5,142.3 413.3,142.1 414.1,143.5 414.9,143.5 415.7,142.7 416.5,144.2 417.3,143.9 418.1,144.4 418.9,144.2 419.7,143.6 420.5,144.5 421.2,144.9 422.0,144.7 422.8,144.3 423.6,144.5 424.4,144.7 425.2,144.5 426.0,145.2 426.8,145.2 427.6,145.1 428.4,146.0 429.2,145.5 430.0,145.3 430.8,145.9 431.5,145.6 432.3,145.7 433.1,145.8 433.9,146.3 434.7,146.8 435.5,146.2 436.3,147.0 437.1,146.5 437.9,146.6 438.7,146.3 439.5,146.7 440.3,147.2 441.1,147.4 441.8,146.8 442.6,147.2 443.4,146.8 444.2,147.0 445.0,147.4 445.8,147.1 446.6,147.8 447.4,147.3 448.2,147.2 449.0,148.1 449.8,147.7 450.6,147.5 451.4,147.8 452.1,147.6 452.9,148.1 453.7,147.9 454.5,148.3 455.3,147.8 456.1,148.1 456.9,148.3 457.7,148.1 458.5,148.0 459.3,148.7 460.1,148.5 460.9,148.4 461.7,148.6 462.4,148.6 463.2,148.4 464.0,149.0 464.8,148.9 465.6,149.0 466.4,149.0 467.2,148.8 468.0,148.7 468.8,149.0 469.6,149.0 470.4,149.0 471.2,148.9 472.0,149.4 472.7,149.0 473.5,148.9 474.3,149.1 475.1,149.1 475.9,149.2 476.7,149.5 477.5,149.1 478.3,149.6 479.1,149.2 479.9,149.5 480.7,149.3 481.5,149.6 482.3,149.3 483.0,149.4 483.8,149.8 484.6,149.7 485.4,149.7 486.2,149.8 487.0,149.7 487.8,149.8 488.6,149.5 489.4,149.8 490.2,149.7 491.0,149.9 491.8,149.7 492.6,149.7 493.3,150.0 494.1,150.0 494.9,149.6 495.7,149.7 496.5,149.7 497.3,149.8 498.1,149.8 498.1,151.0 497.3,151.0 496.5,150.5 495.7,150.7 494.9,150.7 494.1,150.7 493.3,150.4 492.6,150.8 491.8,150.7 491.0,150.8 490.2,150.8 489.4,150.8 488.6,150.5 487.8,150.4 487.0,150.4 486.2,150.5 485.4,150.4 484.6,150.8 483.8,150.3 483.0,150.4 482.3,150.5 481.5,150.4 480.7,150.6 479.9,150.5 479.1,150.4 478.3,150.2 477.5,150.3 476.7,150.5 475.9,150.1 475.1,150.4 474.3,149.9 473.5,150.1 472.7,150.4 472.0,150.1 471.2,150.3 470.4,150.0 469.6,149.8 468.8,149.9 468.0,149.8 467.2,149.7 466.4,150.2 465.6,149.9 464.8,149.8 464.0,149.6 463.2,150.0 462.4,149.7 461.7,149.9 460.9,149.7 460.1,150.1 459.3,149.8 458.5,149.7 457.7,149.5 456.9,149.7 456.1,149.3 455.3,149.2 454.5,149.2 453.7,149.5 452.9,149.6 452.1,149.3 451.4,149.5 450.6,149.3 449.8,149.5 449.0,149.0 448.2,149.1 447.4,149.4 446.6,149.0 445.8,149.0 445.0,149.3 444.2,148.7 443.4,148.9 442.6,148.9 441.8,149.0 441.1,148.4 440.3,148.6 439.5,148.9 438.7,148.6 437.9,148.0 437.1,148.9 436.3,148.0 435.5,148.0 434.7,148.2 433.9,147.6 433.1,148.5 432.3,148.1 431.5,148.3 430.8,148.1 430.0,147.5 429.2,147.8 428.4,147.1 427.6,147.2 426.8,147.6 426.0,147.9 425.2,146.7 424.4,147.5 423.6,147.6 422.8,147.4 422.0,147.5 421.2,146.8 420.5,146.5 419.7,146.5 418.9,147.0 418.1,145.6 417.3,146.7 416.5,146.1 415.7,145.3 414.9,145.7 414.1,146.0 413.3,146.1 412.5,145.6 411.7,145.6 410.9,145.8 410.2,144.5 409.4,144.8 408.6,144.0 407.8,145.1 407.0,144.9 406.2,144.5 405.4,144.4 404.6,144.6 403.8,143.2 403.0,142.8 402.2,143.8 401.4,143.9 400.6,142.5 399.9,141.9 399.1,141.8 398.3,141.2 397.5,142.3 396.7,140.4 395.9,140.2 395.1,142.0 394.3,141.3 393.5,138.9 392.7,139.8 391.9,137.3 391.1,138.4 390.3,136.8 389.6,135.2 388.8,137.8 388.0,134.7 387.2,133.4 386.4,134.7 385.6,132.4 384.8,129.7 384.0,131.6 383.2,128.0 382.4,126.4 381.6,123.1 380.8,123.8 380.8,121.7 380.7,123.8 380.6,121.3 380.6,124.0 380.5,122.7 380.5,124.0 380.4,119.6 380.3,122.6 380.3,124.1 380.2,123.2 380.1,121.0 380.1,120.6 380.0,119.9 380.0,122.0 379.9,119.9 379.8,122.9 379.8,118.6 379.7,121.5 379.6,122.4 379.6,122.8 379.5,122.6 379.4,122.4 379.4,121.8 379.3,121.7 379.3,122.1 379.2,119.6 379.1,120.5 379.1,119.1 379.0,118.9 378.9,119.4 378.9,115.9 378.8,114.3 378.7,119.2 378.7,112.0 378.6,118.1 378.6,116.6 378.5,116.9 378.4,114.6 378.4,116.4 378.3,110.0 378.2,110.9 378.2,110.9 378.1,110.5 378.0,112.2 378.0,108.8 377.9,108.7 377.9,114.8 377.8,108.2 377.7,110.9 377.7,106.8 377.6,109.9 377.5,112.4 377.5,109.9 377.4,111.0 377.4,108.3 377.3,107.6 377.2,102.9 377.2,110.7 377.1,106.1 377.0,107.5 377.0,102.3 376.9,107.7 376.8,105.5 376.8,102.0 376.7,99.3 376.7,104.7 376.6,106.6 376.5,100.0 376.5,97.7 376.4,96.8 376.3,95.7 376.3,97.7 376.2,100.2 376.1,91.9 376.1,90.8 376.0,95.0 376.0,100.6 375.9,98.4 375.8,97.5 375.8,96.9 375.7,95.5 375.6,86.5 375.6,83.4 375.5,87.6 375.5,92.8 375.4,82.1 375.3,90.5 375.3,87.6 375.2,88.5 375.1,87.3 375.1,82.3 375.0,78.8 374.9,82.2 374.9,74.3 374.8,65.9 374.8,70.5 374.7,72.8 374.6,71.6 374.6,65.2 374.5,53.6" fill="#6ece58"/><polyline points="374.5,44.7 374.6,51.7 374.6,54.7 374.7,56.4 374.8,57.6 374.8,58.5 374.9,59.3 374.9,60.0 375.0,60.8 375.1,63.5 375.1,65.9 375.2,68.0 375.3,69.8 375.3,71.5 375.4,73.0 375.5,74.4 375.5,75.7 375.6,76.9 375.6,78.0 375.7,79.0 375.8,80.1 375.8,81.3 375.9,82.5 376.0,83.6 376.0,84.6 376.1,85.6 376.1,86.5 376.2,87.4 376.3,88.3 376.3,89.1 376.4,89.8 376.5,90.6 376.5,91.2 376.6,91.9 376.7,92.6 376.7,93.2 376.8,93.9 376.8,94.5 376.9,95.0 377.0,95.6 377.0,96.1 377.1,96.7 377.2,97.2 377.2,97.6 377.3,98.1 377.4,98.6 377.4,99.0 377.5,99.4 377.5,99.9 377.6,100.3 377.7,100.7 377.7,101.3 377.8,101.8 377.9,102.4 377.9,102.9 378.0,103.5 378.0,104.0 378.1,104.5 378.2,105.0 378.2,105.5 378.3,105.9 378.4,106.4 378.4,106.8 378.5,107.2 378.6,107.6 378.6,108.0 378.7,108.5 378.7,108.9 378.8,109.3 378.9,109.8 378.9,110.2 379.0,110.6 379.1,111.0 379.1,111.3 379.2,111.7 379.3,112.1 379.3,112.4 379.4,112.8 379.4,113.1 379.5,113.5 379.6,113.8 379.6,114.1 379.7,114.4 379.8,114.7 379.8,115.1 379.9,115.3 380.0,115.5 380.0,115.7 380.1,115.8 380.1,116.0 380.2,116.1 380.3,116.3 380.3,116.4 380.4,116.6 380.5,116.7 380.5,116.9 380.6,117.1 380.6,117.3 380.7,117.5 380.8,117.7 380.8,117.9 381.6,120.2 382.4,122.1 383.2,124.0 384.0,125.6 384.8,127.0 385.6,128.2 386.4,129.4 387.2,130.7 388.0,131.8 388.8,132.8 389.6,133.7 390.3,134.5 391.1,135.2 391.9,135.9 392.7,136.5 393.5,137.2 394.3,137.9 395.1,138.4 395.9,138.9 396.7,139.4 397.5,139.8 398.3,140.2" fill="none" stroke="#6ece58" stroke-width="2.4" stroke-linejoin="round"/><polygon points="374.5,20.4 374.6,40.6 374.6,30.5 374.7,40.0 374.8,47.5 374.8,40.1 374.9,47.9 374.9,38.7 375.0,41.0 375.1,51.4 375.1,48.0 375.2,41.6 375.3,41.3 375.3,42.8 375.4,51.9 375.5,41.7 375.5,39.5 375.6,51.3 375.6,55.7 375.7,46.9 375.8,52.7 375.8,61.6 375.9,60.6 376.0,61.9 376.0,53.6 376.1,55.1 376.1,54.3 376.2,65.3 376.3,61.5 376.3,60.8 376.4,60.0 376.5,58.7 376.5,66.6 376.6,71.5 376.7,66.2 376.7,64.4 376.8,72.0 376.8,67.2 376.9,71.3 377.0,65.4 377.0,68.6 377.1,69.8 377.2,77.4 377.2,77.2 377.3,73.1 377.4,72.8 377.4,75.5 377.5,78.1 377.5,79.7 377.6,80.0 377.7,75.4 377.7,76.3 377.8,78.6 377.9,75.7 377.9,75.2 378.0,74.6 378.0,78.5 378.1,77.1 378.2,75.9 378.2,80.6 378.3,78.1 378.4,83.5 378.4,85.1 378.5,78.2 378.6,79.9 378.6,83.2 378.7,80.9 378.7,80.5 378.8,83.6 378.9,81.7 378.9,89.8 379.0,80.8 379.1,81.9 379.1,84.2 379.2,82.6 379.3,86.9 379.3,86.9 379.4,92.3 379.4,92.5 379.5,89.1 379.6,89.5 379.6,84.2 379.7,85.1 379.8,91.6 379.8,89.8 379.9,91.5 380.0,88.9 380.0,88.6 380.1,94.5 380.1,93.1 380.2,93.8 380.3,91.3 380.3,92.8 380.4,92.2 380.5,94.0 380.5,95.1 380.6,94.3 380.6,97.2 380.7,93.2 380.8,96.3 380.8,92.8 381.6,95.5 382.4,104.2 383.2,105.6 384.0,105.8 384.8,111.3 385.6,108.9 386.4,115.0 387.2,115.0 388.0,117.5 388.8,117.3 389.6,119.5 390.3,121.1 391.1,125.6 391.9,126.0 392.7,123.9 393.5,128.5 394.3,127.0 395.1,127.3 395.9,131.1 396.7,129.0 397.5,130.3 398.3,133.6 399.1,134.0 399.9,134.5 400.6,134.5 401.4,135.5 402.2,135.5 403.0,134.0 403.8,134.3 404.6,135.2 405.4,136.1 406.2,135.9 407.0,136.1 407.8,136.9 408.6,138.3 409.4,138.7 410.2,138.5 410.9,138.6 411.7,137.4 412.5,138.2 413.3,138.6 414.1,139.1 414.9,138.8 415.7,139.6 416.5,138.9 417.3,139.3 418.1,140.8 418.9,140.2 419.7,140.5 420.5,140.0 421.2,140.8 422.0,140.6 422.8,141.7 423.6,141.5 424.4,142.8 425.2,142.4 426.0,142.6 426.8,141.9 427.6,143.0 428.4,142.5 429.2,143.6 430.0,143.3 430.8,143.5 431.5,143.9 432.3,144.0 433.1,144.5 433.9,143.8 434.7,143.5 435.5,144.6 436.3,144.7 437.1,145.0 437.9,144.1 438.7,144.2 439.5,145.3 440.3,144.5 441.1,145.0 441.8,145.3 442.6,145.0 443.4,145.2 444.2,145.3 445.0,145.9 445.8,146.1 446.6,145.4 447.4,146.3 448.2,145.7 449.0,146.1 449.8,146.0 450.6,146.2 451.4,145.9 452.1,146.1 452.9,146.1 453.7,147.1 454.5,146.6 455.3,147.2 456.1,147.1 456.9,146.6 457.7,146.8 458.5,146.9 459.3,147.3 460.1,146.9 460.9,147.2 461.7,147.2 462.4,147.8 463.2,147.9 464.0,147.3 464.8,147.7 465.6,147.5 466.4,147.7 467.2,148.0 468.0,148.1 468.8,147.6 469.6,148.2 470.4,148.4 471.2,148.2 472.0,148.1 472.7,148.0 473.5,148.5 474.3,148.3 475.1,148.5 475.9,148.7 476.7,148.3 477.5,148.5 478.3,148.4 479.1,148.7 479.9,148.3 480.7,148.8 481.5,148.9 482.3,148.6 483.0,148.7 483.8,149.0 484.6,148.9 485.4,148.8 486.2,148.9 487.0,149.3 487.8,148.7 488.6,148.9 489.4,148.8 490.2,149.0 491.0,149.3 491.8,149.2 492.6,149.0 493.3,149.1 494.1,149.3 494.9,149.1 495.7,149.2 496.5,149.3 497.3,149.5 498.1,149.5 498.1,150.3 497.3,150.3 496.5,150.5 495.7,150.5 494.9,150.4 494.1,150.5 493.3,150.2 492.6,150.0 491.8,149.9 491.0,150.5 490.2,150.0 489.4,150.4 488.6,150.1 487.8,150.0 487.0,150.2 486.2,149.9 485.4,150.3 484.6,150.2 483.8,150.0 483.0,149.6 482.3,149.8 481.5,149.9 480.7,150.1 479.9,150.1 479.1,149.8 478.3,149.7 477.5,149.6 476.7,149.9 475.9,149.4 475.1,149.4 474.3,149.7 473.5,149.6 472.7,149.8 472.0,149.7 471.2,149.2 470.4,149.4 469.6,149.3 468.8,149.5 468.0,149.1 467.2,149.3 466.4,149.0 465.6,149.0 464.8,149.2 464.0,149.2 463.2,149.4 462.4,148.9 461.7,148.9 460.9,148.7 460.1,149.0 459.3,149.1 458.5,148.7 457.7,148.6 456.9,148.9 456.1,148.7 455.3,149.0 454.5,148.3 453.7,147.9 452.9,148.5 452.1,147.9 451.4,147.9 450.6,148.6 449.8,147.9 449.0,148.3 448.2,148.3 447.4,147.4 446.6,148.2 445.8,147.8 445.0,148.2 444.2,147.6 443.4,148.1 442.6,147.4 441.8,147.2 441.1,146.8 440.3,147.7 439.5,146.6 438.7,146.6 437.9,147.3 437.1,147.1 436.3,147.0 435.5,146.3 434.7,147.1 433.9,146.7 433.1,145.9 432.3,146.9 431.5,146.8 430.8,145.8 430.0,146.5 429.2,146.1 428.4,145.7 427.6,145.8 426.8,145.1 426.0,145.0 425.2,145.8 424.4,145.7 423.6,145.2 422.8,145.6 422.0,144.5 421.2,143.8 420.5,144.4 419.7,144.7 418.9,144.1 418.1,144.1 417.3,143.0 416.5,143.2 415.7,142.6 414.9,142.2 414.1,142.3 413.3,142.1 412.5,142.0 411.7,143.2 410.9,142.7 410.2,142.1 409.4,142.7 408.6,141.9 407.8,141.0 407.0,140.7 406.2,142.1 405.4,139.7 404.6,141.7 403.8,141.5 403.0,140.7 402.2,139.8 401.4,139.0 400.6,137.6 399.9,137.7 399.1,139.8 398.3,137.5 397.5,135.8 396.7,137.0 395.9,134.5 395.1,135.5 394.3,136.7 393.5,134.8 392.7,132.3 391.9,131.1 391.1,132.2 390.3,129.1 389.6,128.5 388.8,127.3 388.0,128.4 387.2,124.3 386.4,123.2 385.6,121.4 384.8,124.4 384.0,121.2 383.2,117.2 382.4,119.1 381.6,110.1 380.8,109.8 380.8,111.1 380.7,110.0 380.6,110.0 380.6,110.8 380.5,112.7 380.5,110.3 380.4,107.4 380.3,108.4 380.3,105.8 380.2,103.8 380.1,106.0 380.1,107.9 380.0,105.8 380.0,106.1 379.9,106.0 379.8,106.0 379.8,110.5 379.7,109.8 379.6,106.5 379.6,107.1 379.5,104.8 379.4,102.9 379.4,107.0 379.3,109.9 379.3,107.5 379.2,109.5 379.1,109.3 379.1,106.8 379.0,99.3 378.9,102.4 378.9,103.3 378.8,99.9 378.7,101.8 378.7,101.7 378.6,104.0 378.6,97.9 378.5,104.8 378.4,97.4 378.4,100.0 378.3,100.3 378.2,104.5 378.2,95.1 378.1,99.5 378.0,97.7 378.0,99.1 377.9,94.8 377.9,102.9 377.8,93.3 377.7,96.1 377.7,94.3 377.6,94.9 377.5,99.5 377.5,94.8 377.4,97.9 377.4,97.9 377.3,94.5 377.2,90.6 377.2,94.5 377.1,90.4 377.0,87.0 377.0,94.5 376.9,95.3 376.8,86.4 376.8,94.7 376.7,88.5 376.7,87.0 376.6,84.2 376.5,83.9 376.5,91.8 376.4,84.5 376.3,91.7 376.3,85.5 376.2,79.2 376.1,87.2 376.1,91.1 376.0,84.6 376.0,80.1 375.9,81.9 375.8,78.4 375.8,81.3 375.7,81.1 375.6,84.9 375.6,84.3 375.5,83.2 375.5,80.8 375.4,74.4 375.3,78.7 375.3,68.3 375.2,75.9 375.1,74.9 375.1,74.3 375.0,72.2 374.9,65.4 374.9,70.4 374.8,65.8 374.8,79.0 374.7,65.6 374.6,69.7 374.6,69.4 374.5,61.2" fill="#b5de2b"/><polyline points="374.5,44.7 374.6,49.2 374.6,52.0 374.7,53.7 374.8,54.9 374.8,55.8 374.9,56.6 374.9,57.3 375.0,57.8 375.1,58.3 375.1,58.8 375.2,59.2 375.3,59.5 375.3,59.9 375.4,60.2 375.5,60.5 375.5,62.0 375.6,63.4 375.6,64.7 375.7,65.9 375.8,67.0 375.8,68.1 375.9,69.1 376.0,70.0 376.0,70.9 376.1,71.8 376.1,72.6 376.2,73.3 376.3,74.1 376.3,74.8 376.4,75.4 376.5,76.1 376.5,76.7 376.6,77.3 376.7,77.9 376.7,78.4 376.8,79.0 376.8,79.5 376.9,80.1 377.0,80.7 377.0,81.4 377.1,82.0 377.2,82.6 377.2,83.2 377.3,83.8 377.4,84.3 377.4,84.8 377.5,85.4 377.5,85.9 377.6,86.4 377.7,86.8 377.7,87.3 377.8,87.7 377.9,88.2 377.9,88.6 378.0,89.0 378.0,89.4 378.1,89.8 378.2,90.2 378.2,90.6 378.3,91.0 378.4,91.3 378.4,91.7 378.5,92.0 378.6,92.4 378.6,92.7 378.7,93.1 378.7,93.4 378.8,93.7 378.9,94.1 378.9,94.4 379.0,94.7 379.1,95.0 379.1,95.3 379.2,95.6 379.3,95.9 379.3,96.1 379.4,96.4 379.4,96.7 379.5,96.9 379.6,97.2 379.6,97.5 379.7,97.7 379.8,98.0 379.8,98.2 379.9,98.4 380.0,98.7 380.0,98.9 380.1,99.1 380.1,99.4 380.2,99.6 380.3,99.8 380.3,100.0 380.4,100.2 380.5,100.4 380.5,100.7 380.6,101.0 380.6,101.3 380.7,101.6 380.8,101.9 380.8,102.2 381.6,105.6 382.4,108.4 383.2,111.1 384.0,113.5 384.8,115.5 385.6,117.3 386.4,119.1 387.2,120.9 388.0,122.6 388.8,124.0 389.6,125.4 390.3,126.6 391.1,127.6 391.9,128.6 392.7,129.6 393.5,130.6 394.3,131.5 395.1,132.4 395.9,133.1 396.7,133.7 397.5,134.4 398.3,134.9" fill="none" stroke="#b5de2b" stroke-width="2.4" stroke-linejoin="round"/></g><line x1="374.50" y1="41.20" x2="374.50" y2="151.80" stroke="#8a8a8a" stroke-width="1.3"/><line x1="373.90" y1="151.30" x2="498.10" y2="151.30" stroke="#3a3a3a" stroke-width="1.05"/><text x="374.50" y="161.90" font-size="9.4" text-anchor="middle" fill="#262626" font-family="'Liberation Serif', serif" textLength="5.12" lengthAdjust="spacingAndGlyphs">0</text><text x="406.19" y="161.90" font-size="9.4" text-anchor="middle" fill="#262626" font-family="'Liberation Serif', serif" textLength="20.48" lengthAdjust="spacingAndGlyphs">2000</text><text x="437.88" y="161.90" font-size="9.4" text-anchor="middle" fill="#262626" font-family="'Liberation Serif', serif" textLength="20.48" lengthAdjust="spacingAndGlyphs">4000</text><text x="469.58" y="161.90" font-size="9.4" text-anchor="middle" fill="#262626" font-family="'Liberation Serif', serif" textLength="20.48" lengthAdjust="spacingAndGlyphs">6000</text><text x="436.30" y="171.90" font-size="8.0" text-anchor="middle" fill="#262626" font-family="'Liberation Serif', serif" textLength="54.50" lengthAdjust="spacingAndGlyphs">Training Step</text><rect x="500.20" y="41.20" width="7.00" height="110.10" fill="url(#cb)" stroke="#222" stroke-width="0.7"/><line x1="507.20" y1="151.30" x2="509.40" y2="151.30" stroke="#333" stroke-width="0.7"/><text x="511.40" y="154.60" font-size="9.4" text-anchor="start" fill="#262626" font-family="'Liberation Serif', serif" textLength="5.20" lengthAdjust="spacingAndGlyphs">0</text><line x1="507.20" y1="123.78" x2="509.40" y2="123.78" stroke="#333" stroke-width="0.7"/><text x="511.40" y="127.08" font-size="9.4" text-anchor="start" fill="#262626" font-family="'Liberation Serif', serif" textLength="5.20" lengthAdjust="spacingAndGlyphs">2</text><line x1="507.20" y1="96.25" x2="509.40" y2="96.25" stroke="#333" stroke-width="0.7"/><text x="511.40" y="99.55" font-size="9.4" text-anchor="start" fill="#262626" font-family="'Liberation Serif', serif" textLength="5.20" lengthAdjust="spacingAndGlyphs">4</text><line x1="507.20" y1="68.73" x2="509.40" y2="68.73" stroke="#333" stroke-width="0.7"/><text x="511.40" y="72.03" font-size="9.4" text-anchor="start" fill="#262626" font-family="'Liberation Serif', serif" textLength="5.20" lengthAdjust="spacingAndGlyphs">6</text><line x1="507.20" y1="41.20" x2="509.40" y2="41.20" stroke="#333" stroke-width="0.7"/><text x="511.40" y="44.50" font-size="9.4" text-anchor="start" fill="#262626" font-family="'Liberation Serif', serif" textLength="5.20" lengthAdjust="spacingAndGlyphs">8</text><text x="524.00" y="97.15" font-size="8.2" text-anchor="middle" fill="#262626" font-family="'Liberation Sans', sans-serif" transform="rotate(-90 524.00 97.15)"><tspan font-style="italic">σ</tspan><tspan font-size="5.9" dy="1.1">v</tspan></text><text x="436.00" y="38.50" font-size="9.5" text-anchor="middle" fill="#262626" font-weight="bold" font-family="'Liberation Serif', serif" textLength="31.30" lengthAdjust="spacingAndGlyphs" stroke="#262626" stroke-width="0.18">Errors</text><line x1="185.30" y1="344.00" x2="309.30" y2="344.00" stroke="#eeeeee" stroke-width="0.8"/><line x1="185.30" y1="310.28" x2="309.30" y2="310.28" stroke="#eeeeee" stroke-width="0.8"/><line x1="185.30" y1="276.55" x2="309.30" y2="276.55" stroke="#eeeeee" stroke-width="0.8"/><line x1="185.30" y1="242.83" x2="309.30" y2="242.83" stroke="#eeeeee" stroke-width="0.8"/><line x1="217.09" y1="234.40" x2="217.09" y2="344.00" stroke="#eeeeee" stroke-width="0.8"/><line x1="248.89" y1="234.40" x2="248.89" y2="344.00" stroke="#eeeeee" stroke-width="0.8"/><line x1="280.68" y1="234.40" x2="280.68" y2="344.00" stroke="#eeeeee" stroke-width="0.8"/><text x="180.60" y="347.40" font-size="9.4" text-anchor="end" fill="#262626" font-family="'Liberation Serif', serif" textLength="12.80" lengthAdjust="spacingAndGlyphs">0.4</text><text x="180.60" y="313.68" font-size="9.4" text-anchor="end" fill="#262626" font-family="'Liberation Serif', serif" textLength="12.80" lengthAdjust="spacingAndGlyphs">0.6</text><text x="180.60" y="279.95" font-size="9.4" text-anchor="end" fill="#262626" font-family="'Liberation Serif', serif" textLength="12.80" lengthAdjust="spacingAndGlyphs">0.8</text><text x="180.60" y="246.23" font-size="9.4" text-anchor="end" fill="#262626" font-family="'Liberation Serif', serif" textLength="12.80" lengthAdjust="spacingAndGlyphs">1.0</text><text x="163.30" y="290.00" font-size="7.6" text-anchor="middle" fill="#262626" font-family="'Liberation Serif', serif" textLength="35.50" lengthAdjust="spacingAndGlyphs" transform="rotate(-90 163.30 290.00)">Accuracy</text><g clip-path="url(#clB1)"><polyline points="185.3,260.8 185.6,257.3 185.9,258.4 186.3,254.2 186.6,248.7 186.9,245.1 187.2,242.8" fill="none" stroke="#440154" stroke-width="0.5" stroke-linejoin="round" stroke-opacity="0.4"/><path d="M185.3 260.8h0M185.6 257.3h0M185.9 258.4h0M186.3 254.2h0M186.6 248.7h0M186.9 245.1h0" stroke="#440154" stroke-width="2.0" stroke-linecap="round" fill="none"/><polyline points="185.3,285.9 185.6,277.2 185.9,277.0 186.3,275.4 186.6,269.6 186.9,271.0 187.2,268.3 187.5,263.7 187.8,257.0 188.2,256.0 188.5,252.3 188.8,249.1 189.1,246.2 189.4,242.8" fill="none" stroke="#482878" stroke-width="0.5" stroke-linejoin="round" stroke-opacity="0.4"/><path d="M185.3 285.9h0M185.6 277.2h0M185.9 277.0h0M186.3 275.4h0M186.6 269.6h0M186.9 271.0h0M187.2 268.3h0M187.5 263.7h0M187.8 257.0h0M188.2 256.0h0M188.5 252.3h0M188.8 249.1h0M189.1 246.2h0" stroke="#482878" stroke-width="2.0" stroke-linecap="round" fill="none"/><polyline points="185.3,301.1 185.6,302.9 185.9,299.1 186.3,285.2 186.6,287.2 186.9,289.9 187.2,286.9 187.5,281.8 187.8,280.5 188.2,278.1 188.5,281.5 188.8,277.5 189.1,271.4 189.4,267.7 189.8,266.2 190.1,261.3 190.4,262.0 190.7,259.2 191.0,257.2 191.3,253.5 191.7,253.1 192.0,248.2 192.3,248.3 192.6,245.0 192.9,242.8" fill="none" stroke="#3e4989" stroke-width="0.5" stroke-linejoin="round" stroke-opacity="0.4"/><path d="M185.3 301.1h0M185.6 302.9h0M185.9 299.1h0M186.3 285.2h0M186.6 287.2h0M186.9 289.9h0M187.2 286.9h0M187.5 281.8h0M187.8 280.5h0M188.2 278.1h0M188.5 281.5h0M188.8 277.5h0M189.1 271.4h0M189.4 267.7h0M189.8 266.2h0M190.1 261.3h0M190.4 262.0h0M190.7 259.2h0M191.0 257.2h0M191.3 253.5h0M191.7 253.1h0M192.0 248.2h0M192.3 248.3h0M192.6 245.0h0" stroke="#3e4989" stroke-width="2.0" stroke-linecap="round" fill="none"/><polyline points="185.3,312.8 185.6,311.8 185.9,316.4 186.3,311.2 186.6,302.8 186.9,303.6 187.2,306.6 187.5,303.7 187.8,301.3 188.2,302.5 188.5,306.2 188.8,293.7 189.1,296.3 189.4,293.5 189.8,291.9 190.1,289.0 190.4,287.3 190.7,280.2 191.0,283.3 191.3,279.1 191.7,278.9 192.0,273.7 192.3,274.8 192.6,278.1 192.9,267.2 193.2,265.8 193.6,266.3 193.9,269.2 194.2,261.4 194.5,261.6 194.8,261.8 195.2,259.5 195.5,254.9 195.8,255.7 196.1,253.2 196.4,251.9 196.7,248.9 197.1,248.0 197.4,245.4 197.7,243.8 198.0,242.8" fill="none" stroke="#31688e" stroke-width="0.5" stroke-linejoin="round" stroke-opacity="0.4"/><path d="M185.3 312.8h0M185.6 311.8h0M185.9 316.4h0M186.3 311.2h0M186.6 302.8h0M186.9 303.6h0M187.2 306.6h0M187.5 303.7h0M187.8 301.3h0M188.2 302.5h0M188.5 306.2h0M188.8 293.7h0M189.1 296.3h0M189.4 293.5h0M189.8 291.9h0M190.1 289.0h0M190.4 287.3h0M190.7 280.2h0M191.0 283.3h0M191.3 279.1h0M191.7 278.9h0M192.0 273.7h0M192.3 274.8h0M192.6 278.1h0M192.9 267.2h0M193.2 265.8h0M193.6 266.3h0M193.9 269.2h0M194.2 261.4h0M194.5 261.6h0M194.8 261.8h0M195.2 259.5h0M195.5 254.9h0M195.8 255.7h0M196.1 253.2h0M196.4 251.9h0M196.7 248.9h0M197.1 248.0h0M197.4 245.4h0M197.7 243.8h0" stroke="#31688e" stroke-width="2.0" stroke-linecap="round" fill="none"/><polyline points="185.3,314.8 185.6,324.5 185.9,329.1 186.3,324.7 186.6,327.0 186.9,332.4 187.2,320.8 187.5,324.6 187.8,336.2 188.2,317.3 188.5,330.5 188.8,324.3 189.1,321.9 189.4,324.4 189.8,326.5 190.1,328.4 190.4,322.1 190.7,318.6 191.0,321.6 191.3,318.1 191.7,312.0 192.0,317.4 192.3,301.7 192.6,311.0 192.9,314.4 193.2,308.5 193.6,309.2 193.9,303.5 194.2,309.8 194.5,302.9 194.8,306.9 195.2,301.6 195.5,297.0 195.8,299.7 196.1,295.1 196.4,298.6 196.7,293.9 197.1,297.2 197.4,294.9 197.7,292.9 198.0,296.0 198.3,293.2 198.7,291.1 199.0,283.4 199.3,286.6 199.6,289.0 199.9,288.0 200.2,283.7 200.6,285.4 200.9,280.6 201.2,282.8 201.5,281.5 201.8,275.4 202.2,281.1 202.5,269.4 202.8,275.8 203.1,276.3 203.4,270.1 203.7,267.8 204.1,266.1 204.4,266.7 204.7,268.3 205.0,265.9 205.3,264.0 205.6,261.4 206.0,260.1 206.3,259.5 206.6,258.0 206.9,262.1 207.2,258.0 207.6,254.2 207.9,255.4 208.2,253.7 208.5,253.2 208.8,251.3 209.1,250.6 209.5,250.4 209.8,247.4 210.1,246.2 210.4,245.5 210.7,244.4 211.1,242.8" fill="none" stroke="#26828e" stroke-width="0.5" stroke-linejoin="round" stroke-opacity="0.4"/><path d="M185.3 314.8h0M185.6 324.5h0M185.9 329.1h0M186.3 324.7h0M186.6 327.0h0M186.9 332.4h0M187.2 320.8h0M187.5 324.6h0M187.8 336.2h0M188.2 317.3h0M188.5 330.5h0M188.8 324.3h0M189.1 321.9h0M189.4 324.4h0M189.8 326.5h0M190.1 328.4h0M190.4 322.1h0M190.7 318.6h0M191.0 321.6h0M191.3 318.1h0M191.7 312.0h0M192.0 317.4h0M192.3 301.7h0M192.6 311.0h0M192.9 314.4h0M193.2 308.5h0M193.6 309.2h0M193.9 303.5h0M194.2 309.8h0M194.5 302.9h0M194.8 306.9h0M195.2 301.6h0M195.5 297.0h0M195.8 299.7h0M196.1 295.1h0M196.4 298.6h0M196.7 293.9h0M197.1 297.2h0M197.4 294.9h0M197.7 292.9h0M198.0 296.0h0M198.3 293.2h0M198.7 291.1h0M199.0 283.4h0M199.3 286.6h0M199.6 289.0h0M199.9 288.0h0M200.2 283.7h0M200.6 285.4h0M200.9 280.6h0M201.2 282.8h0M201.5 281.5h0M201.8 275.4h0M202.2 281.1h0M202.5 269.4h0M202.8 275.8h0M203.1 276.3h0M203.4 270.1h0M203.7 267.8h0M204.1 266.1h0M204.4 266.7h0M204.7 268.3h0M205.0 265.9h0M205.3 264.0h0M205.6 261.4h0M206.0 260.1h0M206.3 259.5h0M206.6 258.0h0M206.9 262.1h0M207.2 258.0h0M207.6 254.2h0M207.9 255.4h0M208.2 253.7h0M208.5 253.2h0M208.8 251.3h0M209.1 250.6h0M209.5 250.4h0M209.8 247.4h0M210.1 246.2h0M210.4 245.5h0M210.7 244.4h0" stroke="#26828e" stroke-width="2.0" stroke-linecap="round" fill="none"/><polyline points="185.3,330.8 185.6,329.3 185.9,333.7 186.3,324.9 186.6,329.8 186.9,325.9 187.2,330.0 187.5,322.2 187.8,329.0 188.2,324.5 188.5,325.8 188.8,329.6 189.1,324.9 189.4,325.0 189.8,321.8 190.1,337.1 190.4,315.8 190.7,324.1 191.0,322.3 191.3,321.6 191.7,333.3 192.0,320.3 192.3,323.0 192.6,327.9 192.9,319.8 193.2,326.4 193.6,331.0 193.9,319.4 194.2,322.0 194.5,322.5 194.8,323.0 195.2,317.1 195.5,322.6 195.8,319.4 196.1,319.8 196.4,319.0 196.7,316.2 197.1,319.6 197.4,314.5 197.7,314.3 198.0,315.2 198.3,315.5 198.7,316.5 199.0,311.5 199.3,306.0 199.6,311.9 199.9,311.9 200.2,310.4 200.6,306.8 200.9,305.3 201.2,304.9 201.5,305.2 201.8,307.8 202.2,300.5 202.5,303.6 202.8,300.7 203.1,300.7 203.4,300.1 203.7,297.0 204.1,298.0 204.4,291.7 204.7,292.6 205.0,293.4 205.3,295.8 205.6,292.0 206.0,292.4 206.3,290.5 206.6,291.5 206.9,293.7 207.2,292.7 207.6,289.4 207.9,286.0 208.2,287.8 208.5,288.4 208.8,286.4 209.1,283.3 209.5,285.5 209.8,284.8 210.1,282.3 210.4,280.0 210.7,284.1 211.1,281.1 211.4,279.3 211.7,279.6 212.0,276.3 212.3,274.6 212.6,277.8 213.0,269.2 213.3,273.3 213.6,269.6 213.9,270.8 214.2,276.1 214.6,273.9 214.9,269.6 215.2,268.1 215.5,267.1 215.8,272.0 216.1,268.2 216.5,265.0 216.8,262.6 217.1,263.3 217.4,266.3 217.7,263.8 218.0,262.5 218.4,261.8 218.7,258.4 219.0,257.4 219.3,256.5 219.6,259.5 220.0,258.8 220.3,258.3 220.6,255.6 220.9,254.3 221.2,255.3 221.5,252.5 221.9,251.7 222.2,251.3 222.5,249.9 222.8,250.3 223.1,249.4 223.5,246.9 223.8,247.2 224.1,245.7 224.4,245.5 224.7,245.0 225.0,243.6 225.4,242.8" fill="none" stroke="#1f9e89" stroke-width="0.5" stroke-linejoin="round" stroke-opacity="0.4"/><path d="M185.3 330.8h0M185.6 329.3h0M185.9 333.7h0M186.3 324.9h0M186.6 329.8h0M186.9 325.9h0M187.2 330.0h0M187.5 322.2h0M187.8 329.0h0M188.2 324.5h0M188.5 325.8h0M188.8 329.6h0M189.1 324.9h0M189.4 325.0h0M189.8 321.8h0M190.1 337.1h0M190.4 315.8h0M190.7 324.1h0M191.0 322.3h0M191.3 321.6h0M191.7 333.3h0M192.0 320.3h0M192.3 323.0h0M192.6 327.9h0M192.9 319.8h0M193.2 326.4h0M193.6 331.0h0M193.9 319.4h0M194.2 322.0h0M194.5 322.5h0M194.8 323.0h0M195.2 317.1h0M195.5 322.6h0M195.8 319.4h0M196.1 319.8h0M196.4 319.0h0M196.7 316.2h0M197.1 319.6h0M197.4 314.5h0M197.7 314.3h0M198.0 315.2h0M198.3 315.5h0M198.7 316.5h0M199.0 311.5h0M199.3 306.0h0M199.6 311.9h0M199.9 311.9h0M200.2 310.4h0M200.6 306.8h0M200.9 305.3h0M201.2 304.9h0M201.5 305.2h0M201.8 307.8h0M202.2 300.5h0M202.5 303.6h0M202.8 300.7h0M203.1 300.7h0M203.4 300.1h0M203.7 297.0h0M204.1 298.0h0M204.4 291.7h0M204.7 292.6h0M205.0 293.4h0M205.3 295.8h0M205.6 292.0h0M206.0 292.4h0M206.3 290.5h0M206.6 291.5h0M206.9 293.7h0M207.2 292.7h0M207.6 289.4h0M207.9 286.0h0M208.2 287.8h0M208.5 288.4h0M208.8 286.4h0M209.1 283.3h0M209.5 285.5h0M209.8 284.8h0M210.1 282.3h0M210.4 280.0h0M210.7 284.1h0M211.1 281.1h0M211.4 279.3h0M211.7 279.6h0M212.0 276.3h0M212.3 274.6h0M212.6 277.8h0M213.0 269.2h0M213.3 273.3h0M213.6 269.6h0M213.9 270.8h0M214.2 276.1h0M214.6 273.9h0M214.9 269.6h0M215.2 268.1h0M215.5 267.1h0M215.8 272.0h0M216.1 268.2h0M216.5 265.0h0M216.8 262.6h0M217.1 263.3h0M217.4 266.3h0M217.7 263.8h0M218.0 262.5h0M218.4 261.8h0M218.7 258.4h0M219.0 257.4h0M219.3 256.5h0M219.6 259.5h0M220.0 258.8h0M220.3 258.3h0M220.6 255.6h0M220.9 254.3h0M221.2 255.3h0M221.5 252.5h0M221.9 251.7h0M222.2 251.3h0M222.5 249.9h0M222.8 250.3h0M223.1 249.4h0M223.5 246.9h0M223.8 247.2h0M224.1 245.7h0M224.4 245.5h0M224.7 245.0h0M225.0 243.6h0" stroke="#1f9e89" stroke-width="2.0" stroke-linecap="round" fill="none"/><polyline points="185.3,320.9 185.6,323.6 185.9,331.7 186.3,326.1 186.6,325.8 186.9,328.6 187.2,324.2 187.5,329.1 187.8,330.3 188.2,331.1 188.5,322.3 188.8,330.8 189.1,334.4 189.4,320.2 189.8,329.8 190.1,334.1 190.4,321.3 190.7,329.0 191.0,328.8 191.3,330.4 191.7,321.3 192.0,321.1 192.3,319.1 192.6,329.5 192.9,310.6 193.2,329.0 193.6,332.3 193.9,327.3 194.2,336.3 194.5,330.1 194.8,327.9 195.2,324.2 195.5,316.9 195.8,322.3 196.1,326.7 196.4,324.6 196.7,332.2 197.1,315.9 197.4,323.5 197.7,322.0 198.0,328.1 198.3,329.9 198.7,331.0 199.0,330.2 199.3,328.4 199.6,319.8 199.9,329.2 200.2,321.3 200.6,319.7 200.9,322.5 201.2,319.6 201.5,338.8 201.8,323.1 202.2,327.5 202.5,316.5 202.8,322.5 203.1,326.7 203.4,324.4 203.7,323.3 204.1,313.9 204.4,327.0 204.7,322.9 205.0,328.0 205.3,322.9 205.6,322.3 206.0,323.4 206.3,325.5 206.6,315.2 206.9,320.7 207.2,321.7 207.6,324.1 207.9,320.4 208.2,320.5 208.5,317.5 208.8,317.9 209.1,320.6 209.5,316.4 209.8,312.0 210.1,315.0 210.4,319.0 210.7,316.4 211.1,311.7 211.4,310.1 211.7,317.3 212.0,309.2 212.3,306.7 212.6,306.5 213.0,313.8 213.3,309.3 213.6,304.7 213.9,305.7 214.2,308.2 214.6,309.2 214.9,305.9 215.2,303.5 215.5,307.2 215.8,304.1 216.1,299.3 216.5,298.4 216.8,300.9 217.1,296.9 217.4,300.5 217.7,301.2 218.0,300.6 218.4,301.0 218.7,298.6 219.0,297.6 219.3,289.8 219.6,292.3 220.0,288.0 220.3,296.6 220.6,291.0 220.9,293.6 221.2,295.7 221.5,289.3 221.9,292.1 222.2,287.4 222.5,281.6 222.8,287.8 223.1,287.7 223.5,288.6 223.8,290.1 224.1,286.0 224.4,286.9 224.7,283.4 225.0,284.1 225.4,281.6 225.7,280.4 226.0,277.9 226.3,283.3 226.6,281.7 227.0,275.2 227.3,275.9 227.6,279.3 227.9,270.4 228.2,283.3 228.5,276.4 228.9,275.5 229.2,272.8 229.5,276.6 229.8,272.6 230.1,271.4 230.4,268.4 230.8,275.0 231.1,271.4 231.4,270.5 231.7,266.2 232.0,263.4 232.4,263.3 232.7,267.8 233.0,265.1 233.3,265.2 233.6,264.2 233.9,264.9 234.3,262.4 234.6,262.2 234.9,260.3 235.2,260.9 235.5,255.4 235.9,262.0 236.2,259.5 236.5,258.7 236.8,256.8 237.1,255.0 237.4,255.7 237.8,250.8 238.1,253.7 238.4,251.7 238.7,252.8 239.0,252.9 239.4,248.8 239.7,251.4 240.0,251.2 240.3,249.8 240.6,248.4 240.9,246.9 241.3,247.2 241.6,246.5 241.9,245.6 242.2,244.7 242.5,244.4 242.8,243.5 243.2,242.8" fill="none" stroke="#35b779" stroke-width="0.5" stroke-linejoin="round" stroke-opacity="0.4"/><path d="M185.3 320.9h0M185.6 323.6h0M185.9 331.7h0M186.3 326.1h0M186.6 325.8h0M186.9 328.6h0M187.2 324.2h0M187.5 329.1h0M187.8 330.3h0M188.2 331.1h0M188.5 322.3h0M188.8 330.8h0M189.1 334.4h0M189.4 320.2h0M189.8 329.8h0M190.1 334.1h0M190.4 321.3h0M190.7 329.0h0M191.0 328.8h0M191.3 330.4h0M191.7 321.3h0M192.0 321.1h0M192.3 319.1h0M192.6 329.5h0M192.9 310.6h0M193.2 329.0h0M193.6 332.3h0M193.9 327.3h0M194.2 336.3h0M194.5 330.1h0M194.8 327.9h0M195.2 324.2h0M195.5 316.9h0M195.8 322.3h0M196.1 326.7h0M196.4 324.6h0M196.7 332.2h0M197.1 315.9h0M197.4 323.5h0M197.7 322.0h0M198.0 328.1h0M198.3 329.9h0M198.7 331.0h0M199.0 330.2h0M199.3 328.4h0M199.6 319.8h0M199.9 329.2h0M200.2 321.3h0M200.6 319.7h0M200.9 322.5h0M201.2 319.6h0M201.5 338.8h0M201.8 323.1h0M202.2 327.5h0M202.5 316.5h0M202.8 322.5h0M203.1 326.7h0M203.4 324.4h0M203.7 323.3h0M204.1 313.9h0M204.4 327.0h0M204.7 322.9h0M205.0 328.0h0M205.3 322.9h0M205.6 322.3h0M206.0 323.4h0M206.3 325.5h0M206.6 315.2h0M206.9 320.7h0M207.2 321.7h0M207.6 324.1h0M207.9 320.4h0M208.2 320.5h0M208.5 317.5h0M208.8 317.9h0M209.1 320.6h0M209.5 316.4h0M209.8 312.0h0M210.1 315.0h0M210.4 319.0h0M210.7 316.4h0M211.1 311.7h0M211.4 310.1h0M211.7 317.3h0M212.0 309.2h0M212.3 306.7h0M212.6 306.5h0M213.0 313.8h0M213.3 309.3h0M213.6 304.7h0M213.9 305.7h0M214.2 308.2h0M214.6 309.2h0M214.9 305.9h0M215.2 303.5h0M215.5 307.2h0M215.8 304.1h0M216.1 299.3h0M216.5 298.4h0M216.8 300.9h0M217.1 296.9h0M217.4 300.5h0M217.7 301.2h0M218.0 300.6h0M218.4 301.0h0M218.7 298.6h0M219.0 297.6h0M219.3 289.8h0M219.6 292.3h0M220.0 288.0h0M220.3 296.6h0M220.6 291.0h0M220.9 293.6h0M221.2 295.7h0M221.5 289.3h0M221.9 292.1h0M222.2 287.4h0M222.5 281.6h0M222.8 287.8h0M223.1 287.7h0M223.5 288.6h0M223.8 290.1h0M224.1 286.0h0M224.4 286.9h0M224.7 283.4h0M225.0 284.1h0M225.4 281.6h0M225.7 280.4h0M226.0 277.9h0M226.3 283.3h0M226.6 281.7h0M227.0 275.2h0M227.3 275.9h0M227.6 279.3h0M227.9 270.4h0M228.2 283.3h0M228.5 276.4h0M228.9 275.5h0M229.2 272.8h0M229.5 276.6h0M229.8 272.6h0M230.1 271.4h0M230.4 268.4h0M230.8 275.0h0M231.1 271.4h0M231.4 270.5h0M231.7 266.2h0M232.0 263.4h0M232.4 263.3h0M232.7 267.8h0M233.0 265.1h0M233.3 265.2h0M233.6 264.2h0M233.9 264.9h0M234.3 262.4h0M234.6 262.2h0M234.9 260.3h0M235.2 260.9h0M235.5 255.4h0M235.9 262.0h0M236.2 259.5h0M236.5 258.7h0M236.8 256.8h0M237.1 255.0h0M237.4 255.7h0M237.8 250.8h0M238.1 253.7h0M238.4 251.7h0M238.7 252.8h0M239.0 252.9h0M239.4 248.8h0M239.7 251.4h0M240.0 251.2h0M240.3 249.8h0M240.6 248.4h0M240.9 246.9h0M241.3 247.2h0M241.6 246.5h0M241.9 245.6h0M242.2 244.7h0M242.5 244.4h0M242.8 243.5h0" stroke="#35b779" stroke-width="2.0" stroke-linecap="round" fill="none"/><polyline points="185.3,330.6 185.6,323.5 185.9,331.4 186.3,333.7 186.6,329.7 186.9,320.7 187.2,316.6 187.5,331.4 187.8,317.3 188.2,332.8 188.5,324.6 188.8,325.6 189.1,327.5 189.4,315.2 189.8,320.6 190.1,325.0 190.4,319.0 190.7,329.2 191.0,322.7 191.3,316.7 191.7,322.7 192.0,313.6 192.3,331.5 192.6,332.4 192.9,326.7 193.2,326.3 193.6,328.1 193.9,316.6 194.2,322.9 194.5,330.9 194.8,329.1 195.2,322.4 195.5,332.3 195.8,322.8 196.1,331.1 196.4,325.4 196.7,323.6 197.1,333.8 197.4,327.8 197.7,327.5 198.0,324.4 198.3,320.7 198.7,325.6 199.0,333.2 199.3,327.6 199.6,330.5 199.9,326.4 200.2,319.4 200.6,319.8 200.9,318.3 201.2,330.0 201.5,335.1 201.8,330.8 202.2,325.3 202.5,328.7 202.8,332.2 203.1,325.5 203.4,317.8 203.7,326.9 204.1,322.7 204.4,312.8 204.7,328.4 205.0,320.2 205.3,333.7 205.6,330.0 206.0,326.0 206.3,318.5 206.6,324.1 206.9,327.8 207.2,321.1 207.6,315.9 207.9,316.1 208.2,329.9 208.5,321.0 208.8,328.1 209.1,320.6 209.5,318.3 209.8,331.4 210.1,312.0 210.4,336.1 210.7,323.8 211.1,335.2 211.4,327.8 211.7,315.5 212.0,316.9 212.3,313.4 212.6,326.7 213.0,330.5 213.3,330.5 213.6,307.3 213.9,318.7 214.2,330.4 214.6,324.6 214.9,325.2 215.2,319.0 215.5,328.3 215.8,335.3 216.1,329.3 216.5,321.4 216.8,324.3 217.1,328.1 217.4,332.4 217.7,317.5 218.0,321.1 218.4,329.9 218.7,328.1 219.0,313.7 219.3,326.5 219.6,316.7 220.0,325.6 220.3,325.6 220.6,327.5 220.9,321.1 221.2,321.8 221.5,329.9 221.9,314.3 222.2,325.6 222.5,325.9 222.8,320.7 223.1,326.0 223.5,324.1 223.8,322.5 224.1,320.4 224.4,327.2 224.7,325.0 225.0,328.8 225.4,320.2 225.7,320.6 226.0,319.4 226.3,319.8 226.6,322.1 227.0,318.2 227.3,322.5 227.6,321.8 227.9,319.7 228.2,315.4 228.5,321.6 228.9,309.0 229.2,319.1 229.5,321.0 229.8,315.7 230.1,318.2 230.4,313.4 230.8,312.4 231.1,317.2 231.4,312.5 231.7,315.0 232.0,312.2 232.4,313.9 232.7,312.4 233.0,310.6 233.3,306.9 233.6,311.7 233.9,307.8 234.3,305.1 234.6,311.3 234.9,305.4 235.2,308.8 235.5,306.4 235.9,305.6 236.2,307.1 236.5,301.6 236.8,301.7 237.1,304.3 237.4,304.3 237.8,303.4 238.1,301.5 238.4,301.0 238.7,305.8 239.0,299.5 239.4,299.4 239.7,301.2 240.0,301.8 240.3,303.9 240.6,297.6 240.9,299.8 241.3,298.6 241.6,289.6 241.9,300.3 242.2,301.1 242.5,293.0 242.8,299.5 243.2,295.5 243.5,293.3 243.8,295.4 244.1,288.9 244.4,291.5 244.8,290.5 245.1,292.3 245.4,292.6 245.7,289.8 246.0,283.4 246.3,288.1 246.7,285.8 247.0,285.4 247.3,288.4 247.6,283.3 247.9,286.1 248.3,288.7 248.6,288.3 248.9,281.1 249.2,277.1 249.5,279.8 249.8,278.0 250.2,283.1 250.5,287.0 250.8,274.3 251.1,275.7 251.4,281.6 251.8,276.2 252.1,276.2 252.4,275.8 252.7,277.4 253.0,273.2 253.3,271.8 253.7,276.0 254.0,271.2 254.3,274.9 254.6,269.2 254.9,270.5 255.2,267.3 255.6,267.6 255.9,271.5 256.2,269.6 256.5,266.4 256.8,264.7 257.2,262.7 257.5,266.8 257.8,264.0 258.1,258.4 258.4,262.1 258.7,263.3 259.1,264.1 259.4,259.4 259.7,257.9 260.0,260.0 260.3,256.7 260.7,255.6 261.0,254.4 261.3,254.8 261.6,255.4 261.9,255.3 262.2,252.5 262.6,254.5 262.9,250.5 263.2,250.8 263.5,250.9 263.8,251.5 264.2,249.9 264.5,249.5 264.8,248.4 265.1,246.7 265.4,245.2 265.7,245.8 266.1,244.9 266.4,243.6 266.7,243.2" fill="none" stroke="#6ece58" stroke-width="0.5" stroke-linejoin="round" stroke-opacity="0.4"/><path d="M185.3 330.6h0M185.6 323.5h0M185.9 331.4h0M186.3 333.7h0M186.6 329.7h0M186.9 320.7h0M187.2 316.6h0M187.5 331.4h0M187.8 317.3h0M188.2 332.8h0M188.5 324.6h0M188.8 325.6h0M189.1 327.5h0M189.4 315.2h0M189.8 320.6h0M190.1 325.0h0M190.4 319.0h0M190.7 329.2h0M191.0 322.7h0M191.3 316.7h0M191.7 322.7h0M192.0 313.6h0M192.3 331.5h0M192.6 332.4h0M192.9 326.7h0M193.2 326.3h0M193.6 328.1h0M193.9 316.6h0M194.2 322.9h0M194.5 330.9h0M194.8 329.1h0M195.2 322.4h0M195.5 332.3h0M195.8 322.8h0M196.1 331.1h0M196.4 325.4h0M196.7 323.6h0M197.1 333.8h0M197.4 327.8h0M197.7 327.5h0M198.0 324.4h0M198.3 320.7h0M198.7 325.6h0M199.0 333.2h0M199.3 327.6h0M199.6 330.5h0M199.9 326.4h0M200.2 319.4h0M200.6 319.8h0M200.9 318.3h0M201.2 330.0h0M201.5 335.1h0M201.8 330.8h0M202.2 325.3h0M202.5 328.7h0M202.8 332.2h0M203.1 325.5h0M203.4 317.8h0M203.7 326.9h0M204.1 322.7h0M204.4 312.8h0M204.7 328.4h0M205.0 320.2h0M205.3 333.7h0M205.6 330.0h0M206.0 326.0h0M206.3 318.5h0M206.6 324.1h0M206.9 327.8h0M207.2 321.1h0M207.6 315.9h0M207.9 316.1h0M208.2 329.9h0M208.5 321.0h0M208.8 328.1h0M209.1 320.6h0M209.5 318.3h0M209.8 331.4h0M210.1 312.0h0M210.4 336.1h0M210.7 323.8h0M211.1 335.2h0M211.4 327.8h0M211.7 315.5h0M212.0 316.9h0M212.3 313.4h0M212.6 326.7h0M213.0 330.5h0M213.3 330.5h0M213.6 307.3h0M213.9 318.7h0M214.2 330.4h0M214.6 324.6h0M214.9 325.2h0M215.2 319.0h0M215.5 328.3h0M215.8 335.3h0M216.1 329.3h0M216.5 321.4h0M216.8 324.3h0M217.1 328.1h0M217.4 332.4h0M217.7 317.5h0M218.0 321.1h0M218.4 329.9h0M218.7 328.1h0M219.0 313.7h0M219.3 326.5h0M219.6 316.7h0M220.0 325.6h0M220.3 325.6h0M220.6 327.5h0M220.9 321.1h0M221.2 321.8h0M221.5 329.9h0M221.9 314.3h0M222.2 325.6h0M222.5 325.9h0M222.8 320.7h0M223.1 326.0h0M223.5 324.1h0M223.8 322.5h0M224.1 320.4h0M224.4 327.2h0M224.7 325.0h0M225.0 328.8h0M225.4 320.2h0M225.7 320.6h0M226.0 319.4h0M226.3 319.8h0M226.6 322.1h0M227.0 318.2h0M227.3 322.5h0M227.6 321.8h0M227.9 319.7h0M228.2 315.4h0M228.5 321.6h0M228.9 309.0h0M229.2 319.1h0M229.5 321.0h0M229.8 315.7h0M230.1 318.2h0M230.4 313.4h0M230.8 312.4h0M231.1 317.2h0M231.4 312.5h0M231.7 315.0h0M232.0 312.2h0M232.4 313.9h0M232.7 312.4h0M233.0 310.6h0M233.3 306.9h0M233.6 311.7h0M233.9 307.8h0M234.3 305.1h0M234.6 311.3h0M234.9 305.4h0M235.2 308.8h0M235.5 306.4h0M235.9 305.6h0M236.2 307.1h0M236.5 301.6h0M236.8 301.7h0M237.1 304.3h0M237.4 304.3h0M237.8 303.4h0M238.1 301.5h0M238.4 301.0h0M238.7 305.8h0M239.0 299.5h0M239.4 299.4h0M239.7 301.2h0M240.0 301.8h0M240.3 303.9h0M240.6 297.6h0M240.9 299.8h0M241.3 298.6h0M241.6 289.6h0M241.9 300.3h0M242.2 301.1h0M242.5 293.0h0M242.8 299.5h0M243.2 295.5h0M243.5 293.3h0M243.8 295.4h0M244.1 288.9h0M244.4 291.5h0M244.8 290.5h0M245.1 292.3h0M245.4 292.6h0M245.7 289.8h0M246.0 283.4h0M246.3 288.1h0M246.7 285.8h0M247.0 285.4h0M247.3 288.4h0M247.6 283.3h0M247.9 286.1h0M248.3 288.7h0M248.6 288.3h0M248.9 281.1h0M249.2 277.1h0M249.5 279.8h0M249.8 278.0h0M250.2 283.1h0M250.5 287.0h0M250.8 274.3h0M251.1 275.7h0M251.4 281.6h0M251.8 276.2h0M252.1 276.2h0M252.4 275.8h0M252.7 277.4h0M253.0 273.2h0M253.3 271.8h0M253.7 276.0h0M254.0 271.2h0M254.3 274.9h0M254.6 269.2h0M254.9 270.5h0M255.2 267.3h0M255.6 267.6h0M255.9 271.5h0M256.2 269.6h0M256.5 266.4h0M256.8 264.7h0M257.2 262.7h0M257.5 266.8h0M257.8 264.0h0M258.1 258.4h0M258.4 262.1h0M258.7 263.3h0M259.1 264.1h0M259.4 259.4h0M259.7 257.9h0M260.0 260.0h0M260.3 256.7h0M260.7 255.6h0M261.0 254.4h0M261.3 254.8h0M261.6 255.4h0M261.9 255.3h0M262.2 252.5h0M262.6 254.5h0M262.9 250.5h0M263.2 250.8h0M263.5 250.9h0M263.8 251.5h0M264.2 249.9h0M264.5 249.5h0M264.8 248.4h0M265.1 246.7h0M265.4 245.2h0M265.7 245.8h0M266.1 244.9h0M266.4 243.6h0" stroke="#6ece58" stroke-width="2.0" stroke-linecap="round" fill="none"/><polyline points="185.3,323.1 185.6,317.3 185.9,318.8 186.3,315.7 186.6,327.6 186.9,322.6 187.2,323.4 187.5,324.0 187.8,313.5 188.2,321.7 188.5,321.6 188.8,331.5 189.1,326.2 189.4,321.3 189.8,323.6 190.1,330.2 190.4,320.6 190.7,324.6 191.0,318.0 191.3,320.3 191.7,318.3 192.0,329.4 192.3,328.0 192.6,318.8 192.9,306.5 193.2,319.6 193.6,320.2 193.9,325.9 194.2,311.3 194.5,321.7 194.8,323.6 195.2,321.0 195.5,326.3 195.8,319.4 196.1,322.5 196.4,324.4 196.7,331.9 197.1,330.2 197.4,325.8 197.7,337.0 198.0,329.0 198.3,324.0 198.7,324.1 199.0,311.1 199.3,336.1 199.6,325.4 199.9,326.6 200.2,322.5 200.6,325.9 200.9,328.9 201.2,323.2 201.5,326.0 201.8,311.5 202.2,326.4 202.5,321.6 202.8,318.8 203.1,321.7 203.4,325.4 203.7,324.8 204.1,325.5 204.4,329.5 204.7,323.9 205.0,314.5 205.3,315.5 205.6,329.5 206.0,319.2 206.3,324.3 206.6,325.1 206.9,325.8 207.2,319.1 207.6,329.7 207.9,329.5 208.2,316.9 208.5,334.8 208.8,327.4 209.1,321.7 209.5,324.7 209.8,326.0 210.1,313.1 210.4,316.3 210.7,322.1 211.1,318.1 211.4,324.5 211.7,326.1 212.0,316.9 212.3,315.9 212.6,331.1 213.0,314.9 213.3,311.6 213.6,318.2 213.9,330.7 214.2,319.5 214.6,327.7 214.9,316.5 215.2,324.0 215.5,324.4 215.8,329.1 216.1,324.3 216.5,322.9 216.8,332.2 217.1,327.6 217.4,330.0 217.7,317.8 218.0,323.1 218.4,327.0 218.7,317.8 219.0,323.4 219.3,325.5 219.6,326.5 220.0,317.1 220.3,323.5 220.6,334.5 220.9,327.9 221.2,325.8 221.5,338.2 221.9,318.5 222.2,316.5 222.5,329.7 222.8,317.9 223.1,321.2 223.5,322.8 223.8,329.4 224.1,313.1 224.4,322.1 224.7,328.6 225.0,319.4 225.4,323.5 225.7,329.4 226.0,319.9 226.3,321.9 226.6,335.9 227.0,324.4 227.3,321.8 227.6,318.8 227.9,317.4 228.2,323.3 228.5,322.5 228.9,330.9 229.2,325.0 229.5,328.5 229.8,319.2 230.1,317.0 230.4,327.6 230.8,337.4 231.1,322.3 231.4,318.1 231.7,325.8 232.0,332.8 232.4,320.3 232.7,329.3 233.0,323.9 233.3,325.4 233.6,319.9 233.9,332.5 234.3,316.9 234.6,322.4 234.9,311.4 235.2,330.5 235.5,337.4 235.9,325.1 236.2,333.0 236.5,324.3 236.8,336.4 237.1,319.6 237.4,324.0 237.8,320.3 238.1,325.1 238.4,332.6 238.7,318.0 239.0,316.8 239.4,315.2 239.7,327.5 240.0,323.5 240.3,320.9 240.6,327.7 240.9,324.2 241.3,323.6 241.6,318.9 241.9,335.5 242.2,315.3 242.5,323.9 242.8,323.6 243.2,327.5 243.5,317.8 243.8,320.0 244.1,323.5 244.4,318.1 244.8,327.5 245.1,319.1 245.4,329.2 245.7,326.2 246.0,319.1 246.3,326.0 246.7,326.2 247.0,324.5 247.3,323.2 247.6,322.0 247.9,323.0 248.3,323.1 248.6,322.7 248.9,315.3 249.2,326.9 249.5,321.2 249.8,319.3 250.2,324.1 250.5,319.4 250.8,319.2 251.1,328.2 251.4,314.6 251.8,316.9 252.1,318.1 252.4,321.4 252.7,319.3 253.0,320.4 253.3,320.1 253.7,314.6 254.0,323.4 254.3,323.3 254.6,318.3 254.9,314.0 255.2,318.6 255.6,313.1 255.9,316.8 256.2,314.7 256.5,314.1 256.8,312.5 257.2,311.4 257.5,313.1 257.8,314.9 258.1,315.7 258.4,307.6 258.7,309.6 259.1,307.1 259.4,311.6 259.7,307.3 260.0,305.9 260.3,304.4 260.7,307.6 261.0,303.2 261.3,310.2 261.6,306.6 261.9,308.2 262.2,308.5 262.6,304.0 262.9,301.0 263.2,305.2 263.5,304.0 263.8,303.6 264.2,303.0 264.5,298.5 264.8,297.3 265.1,303.9 265.4,297.6 265.7,297.2 266.1,299.2 266.4,302.1 266.7,297.2 267.0,299.5 267.3,294.2 267.6,293.6 268.0,290.1 268.3,294.9 268.6,292.2 268.9,293.0 269.2,290.2 269.6,292.5 269.9,291.5 270.2,292.5 270.5,288.6 270.8,287.8 271.1,282.6 271.5,285.6 271.8,286.6 272.1,282.5 272.4,281.9 272.7,285.0 273.1,282.7 273.4,283.3 273.7,282.4 274.0,280.8 274.3,280.9 274.6,281.3 275.0,277.9 275.3,279.5 275.6,282.2 275.9,278.3 276.2,273.3 276.6,274.4 276.9,273.0 277.2,273.2 277.5,274.9 277.8,275.8 278.1,274.6 278.5,270.6 278.8,270.5 279.1,268.7 279.4,269.6 279.7,262.6 280.0,268.4 280.4,263.0 280.7,265.8 281.0,261.5 281.3,259.6 281.6,259.1 282.0,258.9 282.3,259.9 282.6,262.7 282.9,262.1 283.2,258.0 283.5,256.1 283.9,258.8 284.2,254.2 284.5,255.0 284.8,255.6 285.1,253.0 285.5,249.8 285.8,252.2 286.1,250.4 286.4,249.6 286.7,249.3 287.0,247.3 287.4,246.4 287.7,246.1 288.0,244.9 288.3,244.6 288.6,243.6 289.0,242.8" fill="none" stroke="#b5de2b" stroke-width="0.5" stroke-linejoin="round" stroke-opacity="0.4"/><path d="M185.3 323.1h0M185.6 317.3h0M185.9 318.8h0M186.3 315.7h0M186.6 327.6h0M186.9 322.6h0M187.2 323.4h0M187.5 324.0h0M187.8 313.5h0M188.2 321.7h0M188.5 321.6h0M188.8 331.5h0M189.1 326.2h0M189.4 321.3h0M189.8 323.6h0M190.1 330.2h0M190.4 320.6h0M190.7 324.6h0M191.0 318.0h0M191.3 320.3h0M191.7 318.3h0M192.0 329.4h0M192.3 328.0h0M192.6 318.8h0M192.9 306.5h0M193.2 319.6h0M193.6 320.2h0M193.9 325.9h0M194.2 311.3h0M194.5 321.7h0M194.8 323.6h0M195.2 321.0h0M195.5 326.3h0M195.8 319.4h0M196.1 322.5h0M196.4 324.4h0M196.7 331.9h0M197.1 330.2h0M197.4 325.8h0M197.7 337.0h0M198.0 329.0h0M198.3 324.0h0M198.7 324.1h0M199.0 311.1h0M199.3 336.1h0M199.6 325.4h0M199.9 326.6h0M200.2 322.5h0M200.6 325.9h0M200.9 328.9h0M201.2 323.2h0M201.5 326.0h0M201.8 311.5h0M202.2 326.4h0M202.5 321.6h0M202.8 318.8h0M203.1 321.7h0M203.4 325.4h0M203.7 324.8h0M204.1 325.5h0M204.4 329.5h0M204.7 323.9h0M205.0 314.5h0M205.3 315.5h0M205.6 329.5h0M206.0 319.2h0M206.3 324.3h0M206.6 325.1h0M206.9 325.8h0M207.2 319.1h0M207.6 329.7h0M207.9 329.5h0M208.2 316.9h0M208.5 334.8h0M208.8 327.4h0M209.1 321.7h0M209.5 324.7h0M209.8 326.0h0M210.1 313.1h0M210.4 316.3h0M210.7 322.1h0M211.1 318.1h0M211.4 324.5h0M211.7 326.1h0M212.0 316.9h0M212.3 315.9h0M212.6 331.1h0M213.0 314.9h0M213.3 311.6h0M213.6 318.2h0M213.9 330.7h0M214.2 319.5h0M214.6 327.7h0M214.9 316.5h0M215.2 324.0h0M215.5 324.4h0M215.8 329.1h0M216.1 324.3h0M216.5 322.9h0M216.8 332.2h0M217.1 327.6h0M217.4 330.0h0M217.7 317.8h0M218.0 323.1h0M218.4 327.0h0M218.7 317.8h0M219.0 323.4h0M219.3 325.5h0M219.6 326.5h0M220.0 317.1h0M220.3 323.5h0M220.6 334.5h0M220.9 327.9h0M221.2 325.8h0M221.5 338.2h0M221.9 318.5h0M222.2 316.5h0M222.5 329.7h0M222.8 317.9h0M223.1 321.2h0M223.5 322.8h0M223.8 329.4h0M224.1 313.1h0M224.4 322.1h0M224.7 328.6h0M225.0 319.4h0M225.4 323.5h0M225.7 329.4h0M226.0 319.9h0M226.3 321.9h0M226.6 335.9h0M227.0 324.4h0M227.3 321.8h0M227.6 318.8h0M227.9 317.4h0M228.2 323.3h0M228.5 322.5h0M228.9 330.9h0M229.2 325.0h0M229.5 328.5h0M229.8 319.2h0M230.1 317.0h0M230.4 327.6h0M230.8 337.4h0M231.1 322.3h0M231.4 318.1h0M231.7 325.8h0M232.0 332.8h0M232.4 320.3h0M232.7 329.3h0M233.0 323.9h0M233.3 325.4h0M233.6 319.9h0M233.9 332.5h0M234.3 316.9h0M234.6 322.4h0M234.9 311.4h0M235.2 330.5h0M235.5 337.4h0M235.9 325.1h0M236.2 333.0h0M236.5 324.3h0M236.8 336.4h0M237.1 319.6h0M237.4 324.0h0M237.8 320.3h0M238.1 325.1h0M238.4 332.6h0M238.7 318.0h0M239.0 316.8h0M239.4 315.2h0M239.7 327.5h0M240.0 323.5h0M240.3 320.9h0M240.6 327.7h0M240.9 324.2h0M241.3 323.6h0M241.6 318.9h0M241.9 335.5h0M242.2 315.3h0M242.5 323.9h0M242.8 323.6h0M243.2 327.5h0M243.5 317.8h0M243.8 320.0h0M244.1 323.5h0M244.4 318.1h0M244.8 327.5h0M245.1 319.1h0M245.4 329.2h0M245.7 326.2h0M246.0 319.1h0M246.3 326.0h0M246.7 326.2h0M247.0 324.5h0M247.3 323.2h0M247.6 322.0h0M247.9 323.0h0M248.3 323.1h0M248.6 322.7h0M248.9 315.3h0M249.2 326.9h0M249.5 321.2h0M249.8 319.3h0M250.2 324.1h0M250.5 319.4h0M250.8 319.2h0M251.1 328.2h0M251.4 314.6h0M251.8 316.9h0M252.1 318.1h0M252.4 321.4h0M252.7 319.3h0M253.0 320.4h0M253.3 320.1h0M253.7 314.6h0M254.0 323.4h0M254.3 323.3h0M254.6 318.3h0M254.9 314.0h0M255.2 318.6h0M255.6 313.1h0M255.9 316.8h0M256.2 314.7h0M256.5 314.1h0M256.8 312.5h0M257.2 311.4h0M257.5 313.1h0M257.8 314.9h0M258.1 315.7h0M258.4 307.6h0M258.7 309.6h0M259.1 307.1h0M259.4 311.6h0M259.7 307.3h0M260.0 305.9h0M260.3 304.4h0M260.7 307.6h0M261.0 303.2h0M261.3 310.2h0M261.6 306.6h0M261.9 308.2h0M262.2 308.5h0M262.6 304.0h0M262.9 301.0h0M263.2 305.2h0M263.5 304.0h0M263.8 303.6h0M264.2 303.0h0M264.5 298.5h0M264.8 297.3h0M265.1 303.9h0M265.4 297.6h0M265.7 297.2h0M266.1 299.2h0M266.4 302.1h0M266.7 297.2h0M267.0 299.5h0M267.3 294.2h0M267.6 293.6h0M268.0 290.1h0M268.3 294.9h0M268.6 292.2h0M268.9 293.0h0M269.2 290.2h0M269.6 292.5h0M269.9 291.5h0M270.2 292.5h0M270.5 288.6h0M270.8 287.8h0M271.1 282.6h0M271.5 285.6h0M271.8 286.6h0M272.1 282.5h0M272.4 281.9h0M272.7 285.0h0M273.1 282.7h0M273.4 283.3h0M273.7 282.4h0M274.0 280.8h0M274.3 280.9h0M274.6 281.3h0M275.0 277.9h0M275.3 279.5h0M275.6 282.2h0M275.9 278.3h0M276.2 273.3h0M276.6 274.4h0M276.9 273.0h0M277.2 273.2h0M277.5 274.9h0M277.8 275.8h0M278.1 274.6h0M278.5 270.6h0M278.8 270.5h0M279.1 268.7h0M279.4 269.6h0M279.7 262.6h0M280.0 268.4h0M280.4 263.0h0M280.7 265.8h0M281.0 261.5h0M281.3 259.6h0M281.6 259.1h0M282.0 258.9h0M282.3 259.9h0M282.6 262.7h0M282.9 262.1h0M283.2 258.0h0M283.5 256.1h0M283.9 258.8h0M284.2 254.2h0M284.5 255.0h0M284.8 255.6h0M285.1 253.0h0M285.5 249.8h0M285.8 252.2h0M286.1 250.4h0M286.4 249.6h0M286.7 249.3h0M287.0 247.3h0M287.4 246.4h0M287.7 246.1h0M288.0 244.9h0M288.3 244.6h0M288.6 243.6h0" stroke="#b5de2b" stroke-width="2.0" stroke-linecap="round" fill="none"/><line x1="187.21" y1="242.83" x2="189.43" y2="242.83" stroke="#440154" stroke-opacity="0.32" stroke-width="1.7"/><line x1="189.43" y1="242.83" x2="192.93" y2="242.83" stroke="#482878" stroke-opacity="0.32" stroke-width="1.7"/><line x1="192.93" y1="242.83" x2="198.02" y2="242.83" stroke="#3e4989" stroke-opacity="0.32" stroke-width="1.7"/><line x1="198.02" y1="242.83" x2="211.05" y2="242.83" stroke="#31688e" stroke-opacity="0.32" stroke-width="1.7"/><line x1="211.05" y1="242.83" x2="225.36" y2="242.83" stroke="#26828e" stroke-opacity="0.32" stroke-width="1.7"/><line x1="225.36" y1="242.83" x2="243.17" y2="242.83" stroke="#1f9e89" stroke-opacity="0.32" stroke-width="1.7"/><line x1="243.17" y1="242.83" x2="266.69" y2="242.83" stroke="#35b779" stroke-opacity="0.32" stroke-width="1.7"/><line x1="266.69" y1="242.83" x2="288.95" y2="242.83" stroke="#6ece58" stroke-opacity="0.32" stroke-width="1.7"/><line x1="288.95" y1="242.83" x2="309.30" y2="242.83" stroke="#b5de2b" stroke-opacity="0.32" stroke-width="1.7"/></g><line x1="185.30" y1="234.40" x2="185.30" y2="344.50" stroke="#8a8a8a" stroke-width="1.3"/><line x1="184.70" y1="344.00" x2="309.30" y2="344.00" stroke="#3a3a3a" stroke-width="1.05"/><text x="185.30" y="354.60" font-size="9.4" text-anchor="middle" fill="#262626" font-family="'Liberation Serif', serif" textLength="5.12" lengthAdjust="spacingAndGlyphs">0</text><text x="217.09" y="354.60" font-size="9.4" text-anchor="middle" fill="#262626" font-family="'Liberation Serif', serif" textLength="20.48" lengthAdjust="spacingAndGlyphs">2000</text><text x="248.89" y="354.60" font-size="9.4" text-anchor="middle" fill="#262626" font-family="'Liberation Serif', serif" textLength="20.48" lengthAdjust="spacingAndGlyphs">4000</text><text x="280.68" y="354.60" font-size="9.4" text-anchor="middle" fill="#262626" font-family="'Liberation Serif', serif" textLength="20.48" lengthAdjust="spacingAndGlyphs">6000</text><text x="247.30" y="364.60" font-size="8.0" text-anchor="middle" fill="#262626" font-family="'Liberation Serif', serif" textLength="54.50" lengthAdjust="spacingAndGlyphs">Training Step</text><rect x="311.20" y="234.40" width="7.20" height="109.60" fill="url(#cb)" stroke="#222" stroke-width="0.7"/><line x1="318.40" y1="344.00" x2="320.60" y2="344.00" stroke="#333" stroke-width="0.7"/><text x="322.60" y="347.30" font-size="9.4" text-anchor="start" fill="#262626" font-family="'Liberation Serif', serif" textLength="5.20" lengthAdjust="spacingAndGlyphs">0</text><line x1="318.40" y1="316.60" x2="320.60" y2="316.60" stroke="#333" stroke-width="0.7"/><text x="322.60" y="319.90" font-size="9.4" text-anchor="start" fill="#262626" font-family="'Liberation Serif', serif" textLength="5.20" lengthAdjust="spacingAndGlyphs">2</text><line x1="318.40" y1="289.20" x2="320.60" y2="289.20" stroke="#333" stroke-width="0.7"/><text x="322.60" y="292.50" font-size="9.4" text-anchor="start" fill="#262626" font-family="'Liberation Serif', serif" textLength="5.20" lengthAdjust="spacingAndGlyphs">4</text><line x1="318.40" y1="261.80" x2="320.60" y2="261.80" stroke="#333" stroke-width="0.7"/><text x="322.60" y="265.10" font-size="9.4" text-anchor="start" fill="#262626" font-family="'Liberation Serif', serif" textLength="5.20" lengthAdjust="spacingAndGlyphs">6</text><line x1="318.40" y1="234.40" x2="320.60" y2="234.40" stroke="#333" stroke-width="0.7"/><text x="322.60" y="237.70" font-size="9.4" text-anchor="start" fill="#262626" font-family="'Liberation Serif', serif" textLength="5.20" lengthAdjust="spacingAndGlyphs">8</text><text x="335.20" y="290.10" font-size="8.2" text-anchor="middle" fill="#262626" font-family="'Liberation Sans', sans-serif" transform="rotate(-90 335.20 290.10)"><tspan font-style="italic">σ</tspan><tspan font-size="5.9" dy="1.1">v</tspan></text><text x="247.10" y="231.60" font-size="9.5" text-anchor="middle" fill="#262626" font-weight="bold" font-family="'Liberation Serif', serif" textLength="138.30" lengthAdjust="spacingAndGlyphs" stroke="#262626" stroke-width="0.18">Incremental learning (IWL)</text><line x1="374.50" y1="344.00" x2="498.10" y2="344.00" stroke="#eeeeee" stroke-width="0.8"/><line x1="374.50" y1="322.08" x2="498.10" y2="322.08" stroke="#eeeeee" stroke-width="0.8"/><line x1="374.50" y1="300.16" x2="498.10" y2="300.16" stroke="#eeeeee" stroke-width="0.8"/><line x1="374.50" y1="278.24" x2="498.10" y2="278.24" stroke="#eeeeee" stroke-width="0.8"/><line x1="374.50" y1="256.32" x2="498.10" y2="256.32" stroke="#eeeeee" stroke-width="0.8"/><line x1="374.50" y1="234.40" x2="498.10" y2="234.40" stroke="#eeeeee" stroke-width="0.8"/><line x1="406.19" y1="234.40" x2="406.19" y2="344.00" stroke="#eeeeee" stroke-width="0.8"/><line x1="437.88" y1="234.40" x2="437.88" y2="344.00" stroke="#eeeeee" stroke-width="0.8"/><line x1="469.58" y1="234.40" x2="469.58" y2="344.00" stroke="#eeeeee" stroke-width="0.8"/><text x="369.80" y="347.40" font-size="9.4" text-anchor="end" fill="#262626" font-family="'Liberation Serif', serif" textLength="12.80" lengthAdjust="spacingAndGlyphs">0.0</text><text x="369.80" y="325.48" font-size="9.4" text-anchor="end" fill="#262626" font-family="'Liberation Serif', serif" textLength="12.80" lengthAdjust="spacingAndGlyphs">0.2</text><text x="369.80" y="303.56" font-size="9.4" text-anchor="end" fill="#262626" font-family="'Liberation Serif', serif" textLength="12.80" lengthAdjust="spacingAndGlyphs">0.4</text><text x="369.80" y="281.64" font-size="9.4" text-anchor="end" fill="#262626" font-family="'Liberation Serif', serif" textLength="12.80" lengthAdjust="spacingAndGlyphs">0.6</text><text x="369.80" y="259.72" font-size="9.4" text-anchor="end" fill="#262626" font-family="'Liberation Serif', serif" textLength="12.80" lengthAdjust="spacingAndGlyphs">0.8</text><text x="369.80" y="237.80" font-size="9.4" text-anchor="end" fill="#262626" font-family="'Liberation Serif', serif" textLength="12.80" lengthAdjust="spacingAndGlyphs">1.0</text><text x="352.50" y="290.00" font-size="7.6" text-anchor="middle" fill="#262626" font-family="'Liberation Serif', serif" textLength="16.60" lengthAdjust="spacingAndGlyphs" transform="rotate(-90 352.50 290.00)">Loss</text><g clip-path="url(#clC1)"><polyline points="374.5,241.9 374.7,267.6 375.0,291.4 375.2,310.8 375.5,321.5 375.7,327.3 375.9,333.5 376.2,338.0 376.4,338.8 376.6,339.5 376.9,340.5 377.1,340.7 377.4,341.7 377.6,342.4 377.8,343.2 378.1,343.1 378.3,342.9 378.5,343.0 378.8,343.2 379.0,343.1 379.3,342.7 379.5,342.6 379.7,342.4 380.0,343.0 380.2,342.7 380.4,342.7 380.7,342.8 380.9,342.9 381.2,342.9 381.4,342.6 381.6,342.6 381.9,343.2 382.1,343.0 382.3,343.2 382.6,342.9 382.8,343.1 383.1,342.8 383.3,342.5 383.5,343.1 383.8,342.6 384.0,342.9 384.2,343.0 384.5,343.0 384.7,343.0 385.0,342.7 385.2,342.3 385.4,342.9 385.7,343.1 385.9,342.5 386.1,342.7 386.4,343.2 386.6,342.7 386.9,343.1 387.1,342.9 387.3,342.7 387.6,343.1 387.8,343.0 388.0,342.8 388.3,343.4 388.5,343.1 388.8,343.6 389.0,342.9 389.2,343.0 389.5,343.3 389.7,343.2 389.9,343.6 390.2,343.0 390.4,343.3 390.7,343.0 390.9,342.7 391.1,343.2 391.4,343.4 391.6,342.6 391.9,343.2 392.1,342.6 392.3,342.8 392.6,342.6 392.8,343.2 393.0,343.6 393.3,343.2 393.5,343.0 393.8,342.4 394.0,343.3 394.2,342.8 394.5,343.5 394.7,343.1 394.9,342.6 395.2,342.7 395.4,342.9 395.7,343.0 395.9,342.9 396.1,342.7 396.4,343.1 396.6,343.1 396.8,343.0 397.1,342.9 397.3,343.6 397.6,343.1 397.8,343.1 398.0,343.1 398.3,343.3 398.5,342.7 398.7,342.8 399.0,343.0 399.2,342.0 399.5,342.8 399.7,342.6 399.9,342.9 400.2,342.8 400.4,342.7 400.6,343.3 400.9,343.5 401.1,342.4 401.4,343.6 401.6,343.5 401.8,343.1 402.1,343.2 402.3,343.0 402.5,342.5 402.8,342.8 403.0,343.7 403.3,343.2 403.5,343.0 403.7,343.1 404.0,343.7 404.2,343.3 404.4,342.7 404.7,343.1 404.9,343.2 405.2,343.5 405.4,342.7 405.6,342.2 405.9,343.3 406.1,342.7 406.4,343.0 406.6,343.4 406.8,343.6 407.1,342.9 407.3,343.1 407.5,343.3 407.8,343.0 408.0,342.9 408.3,342.2 408.5,343.1 408.7,343.3 409.0,343.4 409.2,342.9 409.4,342.8 409.7,343.1 409.9,342.7 410.2,343.0 410.4,343.2 410.6,343.2 410.9,343.1 411.1,343.0 411.3,343.2 411.6,343.4 411.8,343.4 412.1,342.7 412.3,343.3 412.5,342.5 412.8,343.5 413.0,343.1 413.2,343.2 413.5,343.5 413.7,343.7 414.0,343.4 414.2,342.7 414.4,343.4 414.7,343.0 414.9,343.0 415.1,342.9 415.4,343.9 415.6,343.3 415.9,343.8 416.1,343.0 416.3,342.9 416.6,342.8 416.8,342.9 417.0,342.7 417.3,342.8 417.5,343.0 417.8,342.8 418.0,343.4 418.2,343.1 418.5,343.5 418.7,343.3 418.9,343.1 419.2,342.7 419.4,343.2 419.7,342.9 419.9,343.1 420.1,342.7 420.4,342.9 420.6,343.3 420.9,342.8 421.1,343.0 421.3,343.2 421.6,342.6 421.8,343.1 422.0,343.4 422.3,343.9 422.5,343.7 422.8,342.9 423.0,344.0 423.2,342.8 423.5,343.6 423.7,343.6 423.9,342.8 424.2,343.8 424.4,343.4 424.7,343.5 424.9,343.3 425.1,342.8 425.4,342.6 425.6,343.7 425.8,343.5 426.1,342.3 426.3,342.9 426.6,342.5 426.8,342.5 427.0,343.1 427.3,343.4 427.5,342.9 427.7,343.0 428.0,342.6 428.2,343.0 428.5,342.3 428.7,343.7 428.9,343.7 429.2,343.3 429.4,343.6 429.6,343.1 429.9,343.4 430.1,342.7 430.4,343.1 430.6,343.0 430.8,343.4 431.1,343.2 431.3,343.3 431.5,343.5 431.8,343.1 432.0,343.9 432.3,343.4 432.5,343.4 432.7,342.8 433.0,343.3 433.2,343.8 433.4,343.3 433.7,343.1 433.9,343.1 434.2,342.9 434.4,343.0 434.6,343.0 434.9,342.7 435.1,343.3 435.3,343.0 435.6,343.2 435.8,343.1 436.1,343.0 436.3,343.3 436.5,343.3 436.8,343.2 437.0,344.0 437.3,343.1 437.5,342.9 437.7,343.3 438.0,343.4 438.2,343.3 438.4,342.9 438.7,343.4 438.9,342.9 439.2,343.7 439.4,343.5 439.6,342.7 439.9,343.4 440.1,343.7 440.3,343.2 440.6,343.4 440.8,343.3 441.1,343.1 441.3,343.4 441.5,343.1 441.8,343.3 442.0,343.2 442.2,343.4 442.5,343.7 442.7,343.6 443.0,343.5 443.2,343.0 443.4,343.5 443.7,343.6 443.9,343.2 444.1,343.0 444.4,343.2 444.6,343.4 444.9,343.8 445.1,343.1 445.3,342.9 445.6,343.4 445.8,343.2 446.0,343.6 446.3,343.5 446.5,343.2 446.8,343.3 447.0,343.1 447.2,343.2 447.5,343.4 447.7,343.5 447.9,343.1 448.2,343.7 448.4,343.1 448.7,343.4 448.9,343.8 449.1,343.6 449.4,343.4 449.6,342.5 449.8,343.4 450.1,343.7 450.3,343.0 450.6,343.7 450.8,343.8 451.0,343.2 451.3,343.0 451.5,342.6 451.8,343.2 452.0,343.6 452.2,343.3 452.5,342.9 452.7,342.8 452.9,343.6 453.2,342.8 453.4,343.4 453.7,343.7 453.9,343.1 454.1,343.3 454.4,343.8 454.6,343.7 454.8,343.3 455.1,343.2 455.3,343.7 455.6,343.0 455.8,343.6 456.0,343.7 456.3,343.1 456.5,342.9 456.7,343.4 457.0,343.4 457.2,343.2 457.5,343.0 457.7,343.5 457.9,343.4 458.2,343.6 458.4,343.9 458.6,343.1 458.9,343.5 459.1,343.0 459.4,343.5 459.6,342.9 459.8,343.3 460.1,343.0 460.3,343.8 460.5,343.6 460.8,343.6 461.0,342.7 461.3,343.2 461.5,343.5 461.7,344.0 462.0,343.7 462.2,342.9 462.4,343.5 462.7,343.2 462.9,343.9 463.2,343.2 463.4,343.0 463.6,343.2 463.9,343.7 464.1,343.7 464.3,343.2 464.6,343.7 464.8,343.9 465.1,343.3 465.3,343.8 465.5,343.8 465.8,343.5 466.0,343.4 466.2,343.9 466.5,343.4 466.7,343.0 467.0,343.2 467.2,343.1 467.4,343.1 467.7,343.4 467.9,343.3 468.2,343.7 468.4,343.7 468.6,343.7 468.9,343.8 469.1,342.8 469.3,343.0 469.6,343.9 469.8,343.2 470.1,343.4 470.3,343.3 470.5,343.3 470.8,343.1 471.0,343.8 471.2,343.7 471.5,343.6 471.7,343.1 472.0,343.4 472.2,343.5 472.4,343.5 472.7,343.2 472.9,343.3 473.1,343.0 473.4,342.8 473.6,343.2 473.9,343.7 474.1,343.8 474.3,343.5 474.6,343.4 474.8,343.4 475.0,343.3 475.3,343.4 475.5,343.0 475.8,343.4 476.0,343.0 476.2,343.4 476.5,343.6 476.7,343.4 476.9,343.6 477.2,343.4 477.4,344.0 477.7,343.4 477.9,343.1 478.1,343.1 478.4,343.7 478.6,343.8 478.8,343.1 479.1,343.9 479.3,343.5 479.6,343.6 479.8,343.4 480.0,343.2 480.3,343.0 480.5,344.0 480.7,343.6 481.0,344.0 481.2,343.7 481.5,344.0 481.7,343.6 481.9,343.7 482.2,343.4 482.4,343.3 482.7,343.5 482.9,343.3 483.1,343.1 483.4,343.6 483.6,343.5 483.8,343.8 484.1,343.8 484.3,343.3 484.6,343.0 484.8,343.5 485.0,344.0 485.3,343.8 485.5,343.4 485.7,343.5 486.0,343.8 486.2,343.5 486.5,343.5 486.7,344.0 486.9,343.9 487.2,343.3 487.4,343.8 487.6,343.6 487.9,343.1 488.1,343.3 488.4,343.3 488.6,343.9 488.8,343.8 489.1,343.6 489.3,343.6 489.5,343.3 489.8,343.3 490.0,343.2 490.3,343.1 490.5,343.6 490.7,343.9 491.0,343.2 491.2,343.5 491.4,343.5 491.7,343.7 491.9,343.6 492.2,342.8 492.4,344.0 492.6,343.3 492.9,343.4 493.1,343.3 493.3,343.7 493.6,343.5 493.8,343.7 494.1,343.6 494.3,343.7 494.5,343.0 494.8,343.2 495.0,343.4 495.2,343.4 495.5,343.7 495.7,344.0 496.0,343.4 496.2,343.9 496.4,343.7 496.7,343.9 496.9,343.7 497.1,343.7 497.4,343.1 497.6,343.1 497.9,343.6 498.1,343.4" fill="none" stroke="#440154" stroke-width="1.6" stroke-linejoin="round"/><polyline points="374.5,234.6 374.7,245.7 375.0,260.7 375.2,268.8 375.5,279.6 375.7,288.4 375.9,293.4 376.2,301.4 376.4,305.6 376.6,309.4 376.9,313.8 377.1,317.6 377.4,322.6 377.6,326.5 377.8,328.0 378.1,330.0 378.3,331.9 378.5,333.7 378.8,333.9 379.0,335.8 379.3,337.5 379.5,339.7 379.7,340.9 380.0,341.3 380.2,341.8 380.4,341.5 380.7,341.6 380.9,341.0 381.2,342.4 381.4,341.7 381.6,342.2 381.9,342.2 382.1,342.6 382.3,342.5 382.6,342.9 382.8,342.5 383.1,342.7 383.3,343.2 383.5,343.0 383.8,342.3 384.0,342.3 384.2,343.2 384.5,342.8 384.7,342.3 385.0,342.7 385.2,343.1 385.4,342.7 385.7,342.9 385.9,343.5 386.1,342.8 386.4,342.9 386.6,342.7 386.9,342.3 387.1,342.3 387.3,342.4 387.6,342.4 387.8,343.2 388.0,343.3 388.3,342.8 388.5,342.9 388.8,342.8 389.0,343.1 389.2,342.7 389.5,342.4 389.7,343.0 389.9,343.0 390.2,343.1 390.4,343.6 390.7,343.0 390.9,343.0 391.1,342.9 391.4,343.2 391.6,342.5 391.9,342.6 392.1,342.3 392.3,343.9 392.6,343.1 392.8,342.7 393.0,342.8 393.3,342.8 393.5,342.9 393.8,342.6 394.0,343.1 394.2,343.0 394.5,342.1 394.7,343.0 394.9,342.6 395.2,342.9 395.4,342.7 395.7,342.9 395.9,342.6 396.1,342.5 396.4,343.0 396.6,343.1 396.8,343.1 397.1,343.2 397.3,342.4 397.6,342.3 397.8,343.6 398.0,343.2 398.3,342.9 398.5,342.6 398.7,343.4 399.0,343.1 399.2,342.9 399.5,342.7 399.7,343.3 399.9,342.6 400.2,343.3 400.4,342.6 400.6,343.2 400.9,343.1 401.1,342.7 401.4,342.8 401.6,342.7 401.8,343.0 402.1,343.1 402.3,342.6 402.5,342.3 402.8,342.8 403.0,342.8 403.3,343.2 403.5,342.4 403.7,343.1 404.0,342.8 404.2,342.5 404.4,343.9 404.7,343.1 404.9,343.5 405.2,343.1 405.4,343.0 405.6,343.5 405.9,342.6 406.1,342.2 406.4,343.1 406.6,343.0 406.8,342.4 407.1,342.9 407.3,343.4 407.5,342.8 407.8,343.2 408.0,342.6 408.3,343.2 408.5,342.5 408.7,343.4 409.0,343.1 409.2,343.7 409.4,342.1 409.7,343.0 409.9,343.1 410.2,342.9 410.4,343.0 410.6,342.9 410.9,342.2 411.1,342.5 411.3,343.2 411.6,342.9 411.8,343.1 412.1,342.9 412.3,343.4 412.5,343.2 412.8,343.6 413.0,342.8 413.2,343.3 413.5,342.6 413.7,343.0 414.0,343.5 414.2,342.4 414.4,343.7 414.7,342.1 414.9,342.4 415.1,342.5 415.4,342.4 415.6,342.6 415.9,343.1 416.1,343.3 416.3,343.0 416.6,343.9 416.8,342.9 417.0,343.1 417.3,343.0 417.5,343.2 417.8,343.6 418.0,343.0 418.2,343.2 418.5,343.2 418.7,343.1 418.9,342.8 419.2,342.6 419.4,343.5 419.7,343.0 419.9,343.8 420.1,343.5 420.4,343.5 420.6,343.2 420.9,343.1 421.1,343.0 421.3,343.1 421.6,343.1 421.8,343.6 422.0,342.9 422.3,343.4 422.5,342.9 422.8,343.2 423.0,342.4 423.2,343.5 423.5,342.9 423.7,342.7 423.9,343.3 424.2,343.2 424.4,342.5 424.7,342.8 424.9,343.0 425.1,343.3 425.4,343.3 425.6,343.7 425.8,342.5 426.1,343.1 426.3,342.9 426.6,342.6 426.8,342.8 427.0,343.1 427.3,342.6 427.5,343.7 427.7,342.7 428.0,342.9 428.2,343.1 428.5,342.9 428.7,342.7 428.9,343.3 429.2,343.0 429.4,343.2 429.6,343.1 429.9,342.8 430.1,343.2 430.4,343.4 430.6,343.2 430.8,342.6 431.1,342.6 431.3,342.8 431.5,342.6 431.8,343.1 432.0,343.3 432.3,343.4 432.5,343.0 432.7,342.9 433.0,343.5 433.2,342.3 433.4,342.8 433.7,343.6 433.9,343.7 434.2,343.1 434.4,343.1 434.6,343.5 434.9,343.2 435.1,343.2 435.3,343.2 435.6,342.7 435.8,343.6 436.1,343.2 436.3,343.6 436.5,343.2 436.8,343.1 437.0,342.4 437.3,343.5 437.5,343.1 437.7,343.2 438.0,343.2 438.2,343.4 438.4,343.6 438.7,343.4 438.9,343.5 439.2,342.9 439.4,343.3 439.6,342.7 439.9,343.5 440.1,343.8 440.3,343.4 440.6,343.3 440.8,342.5 441.1,343.6 441.3,342.9 441.5,343.3 441.8,343.4 442.0,342.9 442.2,343.4 442.5,342.6 442.7,343.0 443.0,342.9 443.2,343.3 443.4,343.0 443.7,342.9 443.9,343.4 444.1,343.2 444.4,343.5 444.6,343.3 444.9,343.1 445.1,343.8 445.3,343.2 445.6,343.4 445.8,342.9 446.0,343.6 446.3,343.3 446.5,343.3 446.8,342.8 447.0,343.2 447.2,342.7 447.5,342.9 447.7,343.5 447.9,343.7 448.2,343.3 448.4,343.0 448.7,343.3 448.9,343.6 449.1,343.1 449.4,343.4 449.6,343.6 449.8,343.2 450.1,343.3 450.3,343.8 450.6,343.3 450.8,343.1 451.0,343.5 451.3,343.8 451.5,343.1 451.8,342.9 452.0,343.4 452.2,343.2 452.5,343.6 452.7,343.3 452.9,343.8 453.2,343.4 453.4,343.2 453.7,343.5 453.9,343.4 454.1,343.3 454.4,342.9 454.6,343.5 454.8,343.8 455.1,343.6 455.3,343.6 455.6,343.2 455.8,342.9 456.0,343.7 456.3,343.3 456.5,343.2 456.7,343.4 457.0,343.4 457.2,343.6 457.5,342.9 457.7,343.1 457.9,343.7 458.2,343.3 458.4,343.8 458.6,343.2 458.9,343.0 459.1,344.0 459.4,343.5 459.6,343.4 459.8,342.6 460.1,343.1 460.3,343.1 460.5,343.4 460.8,343.3 461.0,343.1 461.3,343.3 461.5,343.1 461.7,343.4 462.0,343.7 462.2,343.2 462.4,343.3 462.7,343.8 462.9,343.7 463.2,343.5 463.4,342.8 463.6,343.1 463.9,342.8 464.1,344.0 464.3,343.2 464.6,342.8 464.8,343.5 465.1,343.2 465.3,343.6 465.5,343.2 465.8,343.4 466.0,343.8 466.2,343.0 466.5,343.3 466.7,343.2 467.0,343.9 467.2,343.0 467.4,343.5 467.7,343.1 467.9,343.7 468.2,342.9 468.4,343.4 468.6,343.3 468.9,343.5 469.1,343.9 469.3,343.4 469.6,342.9 469.8,342.9 470.1,343.4 470.3,342.9 470.5,343.4 470.8,343.7 471.0,343.4 471.2,343.3 471.5,343.0 471.7,344.0 472.0,342.9 472.2,343.0 472.4,343.1 472.7,343.8 472.9,343.8 473.1,343.0 473.4,343.4 473.6,343.0 473.9,343.7 474.1,343.1 474.3,343.2 474.6,343.8 474.8,343.4 475.0,342.7 475.3,343.6 475.5,343.0 475.8,343.3 476.0,343.7 476.2,343.5 476.5,343.7 476.7,342.8 476.9,343.9 477.2,343.8 477.4,343.4 477.7,343.0 477.9,343.8 478.1,343.7 478.4,343.4 478.6,343.5 478.8,343.4 479.1,343.6 479.3,343.4 479.6,343.1 479.8,343.8 480.0,343.9 480.3,343.6 480.5,343.3 480.7,342.5 481.0,343.1 481.2,343.2 481.5,344.0 481.7,344.0 481.9,343.2 482.2,343.6 482.4,343.6 482.7,343.1 482.9,343.0 483.1,343.2 483.4,343.3 483.6,344.0 483.8,343.5 484.1,343.1 484.3,343.5 484.6,343.9 484.8,344.0 485.0,343.5 485.3,343.2 485.5,343.7 485.7,343.5 486.0,343.3 486.2,343.6 486.5,343.5 486.7,343.6 486.9,343.7 487.2,343.3 487.4,343.2 487.6,343.5 487.9,343.9 488.1,343.3 488.4,343.1 488.6,343.2 488.8,343.2 489.1,343.4 489.3,343.5 489.5,343.2 489.8,343.2 490.0,343.2 490.3,343.7 490.5,344.0 490.7,343.3 491.0,343.3 491.2,343.3 491.4,343.2 491.7,343.9 491.9,343.6 492.2,343.2 492.4,343.6 492.6,343.5 492.9,343.0 493.1,343.2 493.3,343.6 493.6,343.3 493.8,343.7 494.1,343.3 494.3,343.9 494.5,344.0 494.8,342.9 495.0,343.1 495.2,343.7 495.5,343.3 495.7,344.0 496.0,343.4 496.2,343.1 496.4,343.2 496.7,343.4 496.9,343.5 497.1,343.4 497.4,342.8 497.6,343.6 497.9,343.4 498.1,343.2" fill="none" stroke="#482878" stroke-width="1.6" stroke-linejoin="round"/><polyline points="374.5,237.7 374.7,234.4 375.0,252.1 375.2,251.5 375.5,257.7 375.7,262.0 375.9,271.0 376.2,273.8 376.4,278.0 376.6,284.4 376.9,288.5 377.1,293.1 377.4,294.2 377.6,295.5 377.8,299.7 378.1,301.5 378.3,304.2 378.5,306.8 378.8,308.5 379.0,312.2 379.3,313.6 379.5,317.1 379.7,318.9 380.0,320.9 380.2,323.1 380.4,323.8 380.7,323.8 380.9,325.8 381.2,326.8 381.4,327.7 381.6,328.7 381.9,330.0 382.1,331.2 382.3,332.0 382.6,333.0 382.8,333.6 383.1,335.2 383.3,335.9 383.5,336.5 383.8,338.9 384.0,339.4 384.2,340.5 384.5,340.9 384.7,340.5 385.0,341.3 385.2,341.3 385.4,341.0 385.7,342.5 385.9,342.4 386.1,342.5 386.4,342.3 386.6,342.3 386.9,343.0 387.1,342.4 387.3,342.4 387.6,343.2 387.8,343.1 388.0,343.3 388.3,342.7 388.5,343.1 388.8,342.6 389.0,342.5 389.2,342.9 389.5,343.2 389.7,343.8 389.9,342.8 390.2,342.8 390.4,342.9 390.7,343.2 390.9,342.6 391.1,342.9 391.4,342.7 391.6,342.7 391.9,342.6 392.1,342.7 392.3,343.5 392.6,342.8 392.8,343.0 393.0,343.1 393.3,343.2 393.5,343.3 393.8,343.1 394.0,343.0 394.2,342.9 394.5,343.6 394.7,343.2 394.9,342.7 395.2,342.6 395.4,343.0 395.7,343.1 395.9,342.3 396.1,343.3 396.4,342.6 396.6,342.7 396.8,342.8 397.1,342.6 397.3,342.7 397.6,343.0 397.8,342.7 398.0,342.1 398.3,342.9 398.5,342.6 398.7,342.3 399.0,343.3 399.2,343.0 399.5,343.3 399.7,342.9 399.9,343.1 400.2,342.6 400.4,343.1 400.6,342.7 400.9,342.9 401.1,342.8 401.4,343.3 401.6,342.6 401.8,343.0 402.1,343.0 402.3,343.2 402.5,342.8 402.8,343.1 403.0,343.2 403.3,343.0 403.5,343.7 403.7,342.6 404.0,343.1 404.2,342.7 404.4,343.4 404.7,343.7 404.9,343.3 405.2,342.9 405.4,342.6 405.6,342.5 405.9,342.6 406.1,343.3 406.4,343.2 406.6,342.9 406.8,342.8 407.1,343.3 407.3,343.3 407.5,343.5 407.8,342.6 408.0,343.3 408.3,342.9 408.5,343.0 408.7,342.8 409.0,343.5 409.2,343.0 409.4,342.7 409.7,342.8 409.9,343.1 410.2,342.8 410.4,342.9 410.6,343.1 410.9,343.0 411.1,342.3 411.3,343.2 411.6,343.5 411.8,342.8 412.1,342.8 412.3,342.8 412.5,343.1 412.8,342.7 413.0,342.4 413.2,342.5 413.5,343.7 413.7,343.3 414.0,342.9 414.2,343.8 414.4,342.4 414.7,342.8 414.9,343.3 415.1,343.4 415.4,342.6 415.6,343.1 415.9,342.9 416.1,343.4 416.3,343.4 416.6,343.2 416.8,343.0 417.0,342.8 417.3,343.2 417.5,342.8 417.8,343.2 418.0,343.3 418.2,343.2 418.5,343.2 418.7,343.5 418.9,343.7 419.2,342.9 419.4,343.0 419.7,342.8 419.9,343.6 420.1,343.2 420.4,343.5 420.6,342.6 420.9,342.5 421.1,342.9 421.3,342.6 421.6,343.6 421.8,343.1 422.0,343.0 422.3,342.9 422.5,343.0 422.8,342.8 423.0,343.0 423.2,343.2 423.5,342.7 423.7,343.2 423.9,342.8 424.2,342.9 424.4,343.4 424.7,343.2 424.9,342.4 425.1,343.1 425.4,342.8 425.6,343.2 425.8,342.7 426.1,343.0 426.3,342.7 426.6,342.8 426.8,343.3 427.0,343.1 427.3,342.8 427.5,343.4 427.7,343.0 428.0,343.1 428.2,342.8 428.5,343.4 428.7,342.9 428.9,342.8 429.2,343.2 429.4,343.2 429.6,342.8 429.9,343.2 430.1,342.9 430.4,342.7 430.6,343.5 430.8,342.9 431.1,342.7 431.3,343.6 431.5,343.0 431.8,342.9 432.0,343.2 432.3,343.0 432.5,343.4 432.7,343.1 433.0,343.3 433.2,342.9 433.4,343.1 433.7,343.1 433.9,342.8 434.2,343.0 434.4,343.3 434.6,343.2 434.9,343.3 435.1,342.9 435.3,342.7 435.6,342.5 435.8,342.8 436.1,343.4 436.3,342.9 436.5,343.5 436.8,343.6 437.0,343.5 437.3,343.0 437.5,343.7 437.7,342.9 438.0,343.2 438.2,342.6 438.4,343.1 438.7,343.3 438.9,343.5 439.2,343.4 439.4,343.1 439.6,343.6 439.9,344.0 440.1,343.3 440.3,343.2 440.6,343.2 440.8,343.3 441.1,343.4 441.3,343.7 441.5,342.7 441.8,342.9 442.0,343.0 442.2,343.3 442.5,343.4 442.7,343.2 443.0,343.0 443.2,343.1 443.4,343.2 443.7,343.0 443.9,343.4 444.1,343.5 444.4,343.3 444.6,343.2 444.9,342.6 445.1,342.4 445.3,343.5 445.6,343.4 445.8,343.2 446.0,343.8 446.3,343.4 446.5,342.8 446.8,343.4 447.0,343.4 447.2,342.8 447.5,342.6 447.7,343.3 447.9,343.2 448.2,343.1 448.4,342.9 448.7,343.8 448.9,343.1 449.1,343.3 449.4,343.1 449.6,343.0 449.8,344.0 450.1,342.9 450.3,343.2 450.6,343.3 450.8,343.0 451.0,343.0 451.3,342.5 451.5,343.0 451.8,342.9 452.0,343.1 452.2,343.0 452.5,343.5 452.7,343.0 452.9,343.1 453.2,342.9 453.4,342.9 453.7,343.7 453.9,343.1 454.1,343.0 454.4,342.9 454.6,343.9 454.8,343.1 455.1,343.7 455.3,343.5 455.6,343.1 455.8,343.0 456.0,343.2 456.3,343.3 456.5,343.4 456.7,343.0 457.0,343.0 457.2,343.2 457.5,343.8 457.7,344.0 457.9,343.8 458.2,343.4 458.4,343.0 458.6,343.4 458.9,343.4 459.1,343.3 459.4,343.4 459.6,343.4 459.8,343.5 460.1,343.5 460.3,343.3 460.5,343.3 460.8,343.5 461.0,343.0 461.3,343.6 461.5,343.1 461.7,343.5 462.0,343.1 462.2,343.6 462.4,343.3 462.7,343.0 462.9,343.0 463.2,343.6 463.4,343.5 463.6,343.7 463.9,343.4 464.1,343.8 464.3,343.4 464.6,343.6 464.8,343.3 465.1,343.4 465.3,343.3 465.5,343.3 465.8,343.0 466.0,343.4 466.2,343.5 466.5,343.0 466.7,344.0 467.0,343.6 467.2,343.7 467.4,342.8 467.7,343.1 467.9,343.1 468.2,343.3 468.4,343.2 468.6,342.8 468.9,343.9 469.1,343.6 469.3,343.2 469.6,343.6 469.8,343.1 470.1,343.1 470.3,342.9 470.5,343.9 470.8,343.3 471.0,343.0 471.2,343.5 471.5,343.0 471.7,343.4 472.0,343.7 472.2,342.8 472.4,343.8 472.7,343.3 472.9,343.4 473.1,343.5 473.4,343.5 473.6,343.9 473.9,343.2 474.1,343.7 474.3,342.7 474.6,343.5 474.8,343.9 475.0,343.2 475.3,343.1 475.5,343.0 475.8,343.5 476.0,343.4 476.2,343.4 476.5,343.2 476.7,342.9 476.9,343.0 477.2,343.5 477.4,343.4 477.7,343.4 477.9,343.5 478.1,343.7 478.4,343.5 478.6,343.2 478.8,343.2 479.1,343.7 479.3,343.3 479.6,343.4 479.8,343.3 480.0,343.1 480.3,343.2 480.5,343.1 480.7,343.1 481.0,343.1 481.2,343.4 481.5,343.9 481.7,344.0 481.9,343.4 482.2,343.5 482.4,343.9 482.7,343.9 482.9,344.0 483.1,343.0 483.4,344.0 483.6,344.0 483.8,343.2 484.1,343.1 484.3,343.6 484.6,343.2 484.8,343.2 485.0,343.6 485.3,342.5 485.5,343.2 485.7,343.3 486.0,343.4 486.2,343.2 486.5,343.7 486.7,343.4 486.9,343.3 487.2,343.3 487.4,343.5 487.6,343.3 487.9,343.6 488.1,342.9 488.4,343.8 488.6,343.9 488.8,343.4 489.1,343.2 489.3,343.6 489.5,343.4 489.8,343.4 490.0,343.3 490.3,342.9 490.5,343.8 490.7,343.7 491.0,343.4 491.2,343.5 491.4,343.3 491.7,342.9 491.9,343.2 492.2,343.6 492.4,343.2 492.6,343.2 492.9,342.8 493.1,343.7 493.3,343.3 493.6,343.1 493.8,343.1 494.1,343.3 494.3,343.6 494.5,343.7 494.8,343.8 495.0,343.4 495.2,343.3 495.5,343.5 495.7,343.6 496.0,343.4 496.2,343.9 496.4,342.6 496.7,343.7 496.9,343.3 497.1,343.4 497.4,343.4 497.6,343.3 497.9,343.8 498.1,342.8" fill="none" stroke="#3e4989" stroke-width="1.6" stroke-linejoin="round"/><polyline points="374.5,234.4 374.7,242.5 375.0,234.4 375.2,239.6 375.5,244.9 375.7,246.6 375.9,252.5 376.2,246.8 376.4,256.5 376.6,262.4 376.9,269.1 377.1,271.5 377.4,277.5 377.6,277.5 377.8,281.6 378.1,285.9 378.3,289.4 378.5,290.2 378.8,291.7 379.0,293.4 379.3,293.8 379.5,295.7 379.7,296.6 380.0,298.2 380.2,299.6 380.4,299.3 380.7,302.4 380.9,304.3 381.2,305.4 381.4,306.3 381.6,305.7 381.9,306.3 382.1,310.6 382.3,310.1 382.6,311.7 382.8,311.2 383.1,312.9 383.3,314.2 383.5,314.2 383.8,315.4 384.0,316.2 384.2,318.0 384.5,317.6 384.7,318.5 385.0,319.3 385.2,320.2 385.4,320.7 385.7,321.7 385.9,323.1 386.1,323.0 386.4,324.7 386.6,324.6 386.9,325.5 387.1,325.5 387.3,326.7 387.6,327.3 387.8,328.2 388.0,329.6 388.3,329.8 388.5,330.6 388.8,332.2 389.0,332.7 389.2,332.7 389.5,333.4 389.7,334.1 389.9,335.1 390.2,336.9 390.4,336.9 390.7,337.6 390.9,337.9 391.1,337.5 391.4,338.4 391.6,338.9 391.9,339.3 392.1,339.7 392.3,340.2 392.6,340.7 392.8,340.3 393.0,341.0 393.3,342.0 393.5,342.0 393.8,341.9 394.0,342.2 394.2,341.8 394.5,342.3 394.7,342.0 394.9,342.0 395.2,342.2 395.4,342.5 395.7,342.2 395.9,342.1 396.1,342.0 396.4,342.4 396.6,343.2 396.8,342.2 397.1,343.3 397.3,343.2 397.6,342.2 397.8,342.9 398.0,342.3 398.3,343.1 398.5,343.1 398.7,343.9 399.0,343.1 399.2,342.9 399.5,343.0 399.7,342.3 399.9,342.8 400.2,342.9 400.4,342.7 400.6,342.9 400.9,342.9 401.1,343.3 401.4,343.7 401.6,343.2 401.8,343.3 402.1,343.0 402.3,342.9 402.5,343.1 402.8,343.6 403.0,343.1 403.3,342.8 403.5,343.5 403.7,342.8 404.0,343.4 404.2,343.3 404.4,342.7 404.7,343.2 404.9,342.8 405.2,342.9 405.4,343.0 405.6,342.5 405.9,342.9 406.1,342.8 406.4,343.0 406.6,343.7 406.8,343.8 407.1,343.2 407.3,343.1 407.5,342.5 407.8,342.8 408.0,343.3 408.3,343.1 408.5,343.0 408.7,343.0 409.0,343.0 409.2,343.4 409.4,342.9 409.7,343.0 409.9,343.2 410.2,342.6 410.4,342.8 410.6,342.7 410.9,343.2 411.1,343.9 411.3,342.9 411.6,343.5 411.8,343.5 412.1,343.6 412.3,343.7 412.5,343.2 412.8,343.6 413.0,343.8 413.2,343.7 413.5,343.4 413.7,343.7 414.0,343.5 414.2,343.0 414.4,343.5 414.7,343.3 414.9,343.2 415.1,344.0 415.4,342.9 415.6,342.8 415.9,343.9 416.1,343.3 416.3,343.1 416.6,343.3 416.8,343.0 417.0,343.3 417.3,343.3 417.5,343.0 417.8,343.2 418.0,343.0 418.2,343.4 418.5,343.4 418.7,343.4 418.9,343.2 419.2,342.9 419.4,343.4 419.7,343.4 419.9,343.5 420.1,343.0 420.4,343.3 420.6,343.5 420.9,343.2 421.1,343.3 421.3,343.0 421.6,343.2 421.8,343.1 422.0,343.4 422.3,343.5 422.5,342.7 422.8,343.3 423.0,343.6 423.2,343.0 423.5,343.0 423.7,343.1 423.9,343.4 424.2,343.1 424.4,343.1 424.7,343.8 424.9,343.1 425.1,343.6 425.4,342.5 425.6,342.9 425.8,343.4 426.1,343.3 426.3,343.3 426.6,343.4 426.8,343.3 427.0,343.6 427.3,342.7 427.5,343.1 427.7,343.3 428.0,342.8 428.2,343.4 428.5,342.2 428.7,343.5 428.9,342.6 429.2,343.6 429.4,343.5 429.6,343.3 429.9,342.7 430.1,343.4 430.4,343.1 430.6,344.0 430.8,343.8 431.1,343.2 431.3,343.4 431.5,342.9 431.8,343.2 432.0,342.9 432.3,343.3 432.5,343.6 432.7,342.8 433.0,343.7 433.2,343.8 433.4,343.1 433.7,343.5 433.9,343.4 434.2,343.5 434.4,343.0 434.6,343.7 434.9,343.8 435.1,343.4 435.3,343.8 435.6,343.3 435.8,343.1 436.1,342.8 436.3,343.5 436.5,343.7 436.8,343.5 437.0,342.8 437.3,343.1 437.5,342.5 437.7,343.4 438.0,343.2 438.2,342.7 438.4,343.4 438.7,343.4 438.9,343.2 439.2,343.1 439.4,343.1 439.6,343.3 439.9,343.1 440.1,343.2 440.3,343.5 440.6,343.0 440.8,342.9 441.1,342.8 441.3,343.5 441.5,343.6 441.8,343.6 442.0,343.5 442.2,343.8 442.5,343.3 442.7,342.5 443.0,343.3 443.2,343.2 443.4,343.5 443.7,343.3 443.9,343.3 444.1,343.1 444.4,343.2 444.6,343.6 444.9,342.9 445.1,342.7 445.3,343.4 445.6,343.3 445.8,343.4 446.0,343.1 446.3,342.7 446.5,343.4 446.8,343.5 447.0,342.4 447.2,343.0 447.5,342.9 447.7,343.5 447.9,343.0 448.2,342.9 448.4,343.3 448.7,343.7 448.9,342.4 449.1,343.1 449.4,343.6 449.6,343.4 449.8,343.2 450.1,343.6 450.3,343.6 450.6,343.5 450.8,343.1 451.0,343.0 451.3,343.2 451.5,343.4 451.8,343.0 452.0,343.2 452.2,343.7 452.5,343.2 452.7,343.2 452.9,343.6 453.2,343.4 453.4,343.8 453.7,343.6 453.9,343.5 454.1,343.3 454.4,343.1 454.6,343.1 454.8,343.3 455.1,343.5 455.3,343.6 455.6,343.3 455.8,343.0 456.0,343.1 456.3,343.9 456.5,343.2 456.7,343.4 457.0,343.2 457.2,343.2 457.5,342.8 457.7,342.8 457.9,343.0 458.2,343.2 458.4,343.7 458.6,342.9 458.9,343.3 459.1,343.0 459.4,343.4 459.6,343.1 459.8,342.8 460.1,343.1 460.3,343.4 460.5,343.0 460.8,343.3 461.0,343.8 461.3,343.0 461.5,343.7 461.7,343.5 462.0,342.8 462.2,342.9 462.4,343.4 462.7,343.6 462.9,343.4 463.2,343.1 463.4,343.6 463.6,343.2 463.9,344.0 464.1,343.1 464.3,343.8 464.6,343.8 464.8,343.2 465.1,343.2 465.3,343.5 465.5,343.7 465.8,342.9 466.0,344.0 466.2,343.4 466.5,343.5 466.7,343.3 467.0,343.6 467.2,343.4 467.4,343.5 467.7,343.7 467.9,343.4 468.2,343.4 468.4,343.4 468.6,343.1 468.9,343.6 469.1,343.1 469.3,343.4 469.6,343.5 469.8,342.8 470.1,343.1 470.3,343.8 470.5,343.3 470.8,343.2 471.0,342.8 471.2,343.4 471.5,343.5 471.7,343.4 472.0,343.0 472.2,343.7 472.4,343.8 472.7,343.8 472.9,343.5 473.1,343.2 473.4,343.6 473.6,342.8 473.9,343.2 474.1,343.6 474.3,343.6 474.6,343.6 474.8,343.4 475.0,344.0 475.3,343.2 475.5,343.1 475.8,344.0 476.0,344.0 476.2,343.6 476.5,343.5 476.7,343.6 476.9,343.9 477.2,343.6 477.4,343.9 477.7,343.8 477.9,343.3 478.1,344.0 478.4,343.3 478.6,343.9 478.8,343.9 479.1,343.8 479.3,343.6 479.6,343.1 479.8,343.4 480.0,343.1 480.3,342.7 480.5,343.7 480.7,343.6 481.0,343.4 481.2,344.0 481.5,343.1 481.7,343.5 481.9,343.3 482.2,343.6 482.4,343.3 482.7,344.0 482.9,342.9 483.1,343.6 483.4,343.6 483.6,342.9 483.8,343.4 484.1,343.2 484.3,343.5 484.6,342.7 484.8,343.5 485.0,343.8 485.3,343.4 485.5,343.7 485.7,343.4 486.0,343.4 486.2,343.2 486.5,343.2 486.7,343.3 486.9,343.0 487.2,343.2 487.4,343.7 487.6,343.5 487.9,343.6 488.1,342.5 488.4,343.0 488.6,343.2 488.8,343.7 489.1,343.3 489.3,342.8 489.5,343.3 489.8,343.6 490.0,343.1 490.3,343.6 490.5,343.3 490.7,343.4 491.0,343.6 491.2,342.8 491.4,344.0 491.7,343.1 491.9,343.3 492.2,343.3 492.4,343.5 492.6,342.9 492.9,343.3 493.1,344.0 493.3,343.3 493.6,343.5 493.8,343.3 494.1,343.3 494.3,343.7 494.5,343.6 494.8,343.6 495.0,343.5 495.2,343.3 495.5,343.0 495.7,343.5 496.0,343.7 496.2,343.7 496.4,343.5 496.7,343.2 496.9,343.6 497.1,343.3 497.4,343.6 497.6,343.6 497.9,343.4 498.1,343.4" fill="none" stroke="#31688e" stroke-width="1.6" stroke-linejoin="round"/><polyline points="374.5,234.4 374.7,234.8 375.0,239.9 375.2,240.7 375.5,246.2 375.7,244.7 375.9,244.3 376.2,239.4 376.4,245.4 376.6,242.0 376.9,249.0 377.1,247.9 377.4,251.0 377.6,253.5 377.8,257.8 378.1,258.2 378.3,257.8 378.5,262.7 378.8,267.1 379.0,269.4 379.3,269.7 379.5,272.7 379.7,274.5 380.0,276.6 380.2,275.9 380.4,279.8 380.7,282.6 380.9,284.9 381.2,286.6 381.4,286.9 381.6,289.8 381.9,292.1 382.1,291.1 382.3,291.1 382.6,292.6 382.8,292.6 383.1,291.8 383.3,293.1 383.5,293.8 383.8,296.0 384.0,295.9 384.2,296.4 384.5,296.9 384.7,296.2 385.0,297.1 385.2,298.9 385.4,299.0 385.7,300.6 385.9,300.0 386.1,302.4 386.4,301.1 386.6,303.1 386.9,301.9 387.1,302.8 387.3,304.4 387.6,305.0 387.8,306.2 388.0,306.7 388.3,307.3 388.5,307.8 388.8,307.5 389.0,308.8 389.2,308.6 389.5,309.9 389.7,310.2 389.9,310.7 390.2,311.5 390.4,312.9 390.7,312.3 390.9,314.2 391.1,313.9 391.4,314.7 391.6,315.7 391.9,316.2 392.1,316.7 392.3,316.4 392.6,318.0 392.8,319.1 393.0,318.9 393.3,319.4 393.5,320.7 393.8,320.9 394.0,321.3 394.2,323.7 394.5,323.0 394.7,324.3 394.9,325.1 395.2,325.6 395.4,326.1 395.7,327.1 395.9,327.6 396.1,328.6 396.4,328.6 396.6,329.2 396.8,330.2 397.1,330.7 397.3,330.6 397.6,332.4 397.8,332.1 398.0,332.8 398.3,333.7 398.5,334.0 398.7,335.5 399.0,334.7 399.2,336.2 399.5,335.7 399.7,336.2 399.9,337.4 400.2,337.4 400.4,337.9 400.6,338.5 400.9,339.0 401.1,339.4 401.4,340.5 401.6,341.1 401.8,340.5 402.1,341.9 402.3,342.2 402.5,341.7 402.8,342.1 403.0,342.2 403.3,342.2 403.5,341.7 403.7,342.1 404.0,342.3 404.2,341.7 404.4,342.4 404.7,342.6 404.9,342.4 405.2,342.9 405.4,343.2 405.6,343.2 405.9,343.1 406.1,342.5 406.4,342.7 406.6,343.8 406.8,343.6 407.1,343.1 407.3,343.1 407.5,343.1 407.8,343.3 408.0,342.8 408.3,343.0 408.5,343.5 408.7,343.1 409.0,342.9 409.2,342.8 409.4,343.2 409.7,343.4 409.9,342.5 410.2,343.2 410.4,343.0 410.6,343.3 410.9,342.3 411.1,342.6 411.3,343.3 411.6,342.9 411.8,343.2 412.1,342.9 412.3,343.0 412.5,343.0 412.8,342.6 413.0,343.5 413.2,343.0 413.5,343.5 413.7,342.9 414.0,343.5 414.2,342.5 414.4,343.0 414.7,343.8 414.9,343.1 415.1,343.7 415.4,343.1 415.6,343.2 415.9,343.7 416.1,343.3 416.3,343.1 416.6,342.9 416.8,343.5 417.0,342.8 417.3,343.1 417.5,343.4 417.8,343.1 418.0,343.4 418.2,343.2 418.5,342.9 418.7,342.8 418.9,342.9 419.2,343.6 419.4,343.3 419.7,343.1 419.9,343.2 420.1,343.2 420.4,343.4 420.6,343.7 420.9,343.5 421.1,344.0 421.3,343.2 421.6,343.0 421.8,343.5 422.0,342.9 422.3,343.1 422.5,343.5 422.8,343.1 423.0,343.1 423.2,343.2 423.5,343.4 423.7,343.2 423.9,343.3 424.2,343.0 424.4,343.5 424.7,343.2 424.9,343.4 425.1,343.0 425.4,342.8 425.6,343.6 425.8,343.4 426.1,343.5 426.3,343.2 426.6,343.0 426.8,342.7 427.0,343.4 427.3,343.0 427.5,343.2 427.7,343.1 428.0,343.5 428.2,343.6 428.5,343.2 428.7,343.0 428.9,343.4 429.2,343.0 429.4,343.4 429.6,343.0 429.9,343.0 430.1,343.2 430.4,343.3 430.6,343.0 430.8,343.0 431.1,343.2 431.3,343.4 431.5,342.8 431.8,342.9 432.0,343.7 432.3,343.4 432.5,343.1 432.7,343.0 433.0,343.6 433.2,343.3 433.4,343.3 433.7,342.5 433.9,343.3 434.2,343.2 434.4,343.4 434.6,343.0 434.9,343.3 435.1,343.1 435.3,343.9 435.6,343.1 435.8,343.0 436.1,343.0 436.3,343.8 436.5,343.3 436.8,342.9 437.0,343.2 437.3,343.3 437.5,343.3 437.7,343.3 438.0,343.3 438.2,343.2 438.4,343.1 438.7,343.5 438.9,343.5 439.2,343.2 439.4,342.9 439.6,343.1 439.9,342.7 440.1,343.9 440.3,343.3 440.6,343.2 440.8,343.6 441.1,343.4 441.3,343.1 441.5,342.8 441.8,343.6 442.0,342.8 442.2,343.0 442.5,342.8 442.7,343.0 443.0,343.3 443.2,342.4 443.4,343.5 443.7,343.1 443.9,343.5 444.1,343.1 444.4,343.4 444.6,342.9 444.9,342.5 445.1,343.0 445.3,342.9 445.6,343.6 445.8,343.6 446.0,343.8 446.3,343.5 446.5,343.6 446.8,343.0 447.0,342.9 447.2,343.5 447.5,343.3 447.7,343.7 447.9,343.4 448.2,343.1 448.4,343.0 448.7,343.5 448.9,342.9 449.1,343.1 449.4,343.2 449.6,343.0 449.8,343.5 450.1,343.6 450.3,343.1 450.6,342.8 450.8,342.8 451.0,344.0 451.3,343.2 451.5,343.4 451.8,343.8 452.0,343.3 452.2,343.3 452.5,343.0 452.7,344.0 452.9,343.7 453.2,343.4 453.4,342.7 453.7,342.7 453.9,343.0 454.1,342.9 454.4,343.4 454.6,343.2 454.8,343.2 455.1,343.3 455.3,343.6 455.6,343.0 455.8,342.8 456.0,343.8 456.3,343.3 456.5,342.6 456.7,343.5 457.0,343.5 457.2,343.5 457.5,343.9 457.7,342.7 457.9,342.9 458.2,343.3 458.4,342.5 458.6,343.8 458.9,343.3 459.1,343.2 459.4,343.5 459.6,343.2 459.8,343.2 460.1,343.5 460.3,343.0 460.5,342.8 460.8,343.6 461.0,343.4 461.3,343.6 461.5,344.0 461.7,343.6 462.0,343.4 462.2,342.9 462.4,343.6 462.7,343.6 462.9,342.9 463.2,343.5 463.4,343.2 463.6,343.6 463.9,344.0 464.1,343.7 464.3,343.7 464.6,343.2 464.8,343.4 465.1,342.3 465.3,343.7 465.5,343.5 465.8,343.3 466.0,342.4 466.2,343.7 466.5,342.6 466.7,343.7 467.0,343.5 467.2,342.8 467.4,343.7 467.7,343.7 467.9,343.4 468.2,343.1 468.4,343.7 468.6,343.2 468.9,343.6 469.1,343.9 469.3,343.3 469.6,342.7 469.8,343.0 470.1,343.7 470.3,343.7 470.5,343.2 470.8,343.1 471.0,343.7 471.2,342.9 471.5,343.4 471.7,343.2 472.0,343.0 472.2,342.9 472.4,343.2 472.7,343.4 472.9,343.6 473.1,343.3 473.4,342.8 473.6,343.7 473.9,343.7 474.1,344.0 474.3,343.2 474.6,343.5 474.8,343.8 475.0,343.2 475.3,343.3 475.5,343.4 475.8,343.7 476.0,343.3 476.2,343.9 476.5,343.5 476.7,343.1 476.9,343.3 477.2,343.7 477.4,343.6 477.7,343.6 477.9,343.7 478.1,343.6 478.4,343.6 478.6,343.7 478.8,343.3 479.1,344.0 479.3,343.8 479.6,343.7 479.8,343.6 480.0,344.0 480.3,343.1 480.5,342.8 480.7,342.5 481.0,343.9 481.2,343.5 481.5,343.6 481.7,343.5 481.9,343.1 482.2,343.5 482.4,343.9 482.7,343.4 482.9,342.7 483.1,343.3 483.4,342.8 483.6,343.3 483.8,343.2 484.1,342.7 484.3,343.8 484.6,342.8 484.8,342.8 485.0,343.5 485.3,343.0 485.5,343.4 485.7,343.2 486.0,343.3 486.2,343.7 486.5,342.8 486.7,342.8 486.9,343.3 487.2,343.0 487.4,343.1 487.6,343.4 487.9,342.8 488.1,343.1 488.4,343.9 488.6,344.0 488.8,343.6 489.1,343.3 489.3,343.4 489.5,343.5 489.8,343.7 490.0,343.6 490.3,343.1 490.5,343.1 490.7,343.6 491.0,343.6 491.2,343.1 491.4,343.7 491.7,343.3 491.9,343.3 492.2,343.7 492.4,343.5 492.6,343.4 492.9,343.7 493.1,343.9 493.3,343.5 493.6,343.5 493.8,343.2 494.1,343.4 494.3,343.3 494.5,344.0 494.8,343.9 495.0,343.3 495.2,343.2 495.5,344.0 495.7,343.5 496.0,343.0 496.2,343.9 496.4,344.0 496.7,343.5 496.9,342.9 497.1,343.4 497.4,343.3 497.6,343.1 497.9,343.6 498.1,343.4" fill="none" stroke="#26828e" stroke-width="1.6" stroke-linejoin="round"/><polyline points="374.5,238.0 374.7,234.4 375.0,235.1 375.2,235.2 375.5,237.9 375.7,234.9 375.9,239.9 376.2,236.6 376.4,234.4 376.6,240.7 376.9,239.1 377.1,243.6 377.4,242.5 377.6,240.1 377.8,245.1 378.1,244.9 378.3,248.3 378.5,246.6 378.8,243.3 379.0,243.8 379.3,245.2 379.5,249.7 379.7,248.5 380.0,247.2 380.2,248.3 380.4,249.7 380.7,249.1 380.9,253.4 381.2,251.5 381.4,251.9 381.6,255.0 381.9,254.9 382.1,252.3 382.3,254.3 382.6,257.6 382.8,256.5 383.1,257.1 383.3,257.8 383.5,256.8 383.8,257.5 384.0,257.6 384.2,261.9 384.5,260.0 384.7,263.3 385.0,261.6 385.2,262.8 385.4,262.5 385.7,264.3 385.9,266.2 386.1,266.5 386.4,266.7 386.6,270.5 386.9,270.6 387.1,270.0 387.3,270.4 387.6,271.2 387.8,273.9 388.0,272.2 388.3,274.4 388.5,274.6 388.8,275.5 389.0,277.4 389.2,278.7 389.5,276.9 389.7,279.2 389.9,278.7 390.2,281.9 390.4,282.4 390.7,283.4 390.9,282.8 391.1,284.6 391.4,286.1 391.6,285.6 391.9,287.9 392.1,289.3 392.3,289.5 392.6,290.5 392.8,291.2 393.0,291.3 393.3,292.5 393.5,291.8 393.8,292.8 394.0,292.3 394.2,292.8 394.5,293.4 394.7,294.3 394.9,294.5 395.2,295.2 395.4,295.3 395.7,294.9 395.9,295.2 396.1,295.4 396.4,296.7 396.6,296.5 396.8,298.8 397.1,297.0 397.3,297.8 397.6,299.5 397.8,299.3 398.0,299.5 398.3,300.5 398.5,301.1 398.7,301.6 399.0,301.7 399.2,302.5 399.5,303.4 399.7,303.0 399.9,303.4 400.2,304.1 400.4,304.4 400.6,304.0 400.9,305.3 401.1,306.3 401.4,307.2 401.6,307.1 401.8,307.2 402.1,308.8 402.3,308.5 402.5,309.8 402.8,310.8 403.0,310.7 403.3,310.0 403.5,311.3 403.7,312.6 404.0,312.2 404.2,312.6 404.4,313.1 404.7,314.6 404.9,313.9 405.2,315.3 405.4,314.3 405.6,316.9 405.9,317.1 406.1,317.4 406.4,318.5 406.6,318.5 406.8,319.6 407.1,320.2 407.3,319.9 407.5,321.7 407.8,321.0 408.0,322.0 408.3,323.4 408.5,322.8 408.7,323.1 409.0,324.5 409.2,324.2 409.4,325.4 409.7,326.0 409.9,326.2 410.2,327.7 410.4,327.6 410.6,328.7 410.9,329.0 411.1,329.6 411.3,330.8 411.6,330.9 411.8,331.8 412.1,332.0 412.3,332.6 412.5,333.7 412.8,334.2 413.0,333.8 413.2,334.4 413.5,335.7 413.7,336.1 414.0,336.5 414.2,337.6 414.4,337.2 414.7,338.0 414.9,338.6 415.1,338.5 415.4,339.3 415.6,340.4 415.9,340.5 416.1,340.9 416.3,341.5 416.6,341.9 416.8,342.3 417.0,342.6 417.3,341.9 417.5,342.4 417.8,342.3 418.0,342.3 418.2,342.1 418.5,342.6 418.7,342.7 418.9,342.7 419.2,343.2 419.4,343.1 419.7,342.5 419.9,342.8 420.1,343.1 420.4,343.3 420.6,343.0 420.9,343.7 421.1,343.5 421.3,342.5 421.6,343.0 421.8,343.1 422.0,343.4 422.3,343.2 422.5,343.4 422.8,343.0 423.0,343.0 423.2,343.2 423.5,342.6 423.7,342.9 423.9,343.6 424.2,342.9 424.4,342.5 424.7,343.1 424.9,342.7 425.1,343.0 425.4,343.4 425.6,343.3 425.8,343.3 426.1,343.6 426.3,343.2 426.6,343.4 426.8,342.6 427.0,343.1 427.3,343.5 427.5,343.6 427.7,342.7 428.0,343.2 428.2,343.6 428.5,343.4 428.7,343.1 428.9,343.1 429.2,342.5 429.4,343.0 429.6,343.3 429.9,343.8 430.1,343.0 430.4,343.0 430.6,343.2 430.8,342.8 431.1,343.1 431.3,343.1 431.5,342.4 431.8,343.5 432.0,342.8 432.3,342.8 432.5,343.4 432.7,342.2 433.0,343.7 433.2,343.0 433.4,343.5 433.7,343.6 433.9,343.1 434.2,343.3 434.4,343.0 434.6,343.2 434.9,343.3 435.1,343.3 435.3,343.5 435.6,343.1 435.8,342.8 436.1,343.2 436.3,343.3 436.5,343.1 436.8,343.8 437.0,343.8 437.3,343.3 437.5,342.9 437.7,342.7 438.0,342.8 438.2,343.2 438.4,343.3 438.7,343.2 438.9,343.4 439.2,343.2 439.4,343.1 439.6,343.3 439.9,343.8 440.1,342.7 440.3,342.4 440.6,343.5 440.8,343.5 441.1,342.8 441.3,343.7 441.5,343.5 441.8,343.0 442.0,342.4 442.2,342.8 442.5,343.6 442.7,342.5 443.0,343.5 443.2,343.0 443.4,343.7 443.7,343.0 443.9,343.1 444.1,343.7 444.4,343.7 444.6,342.9 444.9,343.0 445.1,343.5 445.3,343.2 445.6,343.1 445.8,343.6 446.0,343.8 446.3,343.2 446.5,343.2 446.8,343.1 447.0,343.5 447.2,343.5 447.5,343.5 447.7,343.3 447.9,342.8 448.2,343.2 448.4,343.5 448.7,342.8 448.9,343.3 449.1,342.9 449.4,342.7 449.6,342.6 449.8,343.5 450.1,343.6 450.3,343.6 450.6,343.2 450.8,342.9 451.0,343.7 451.3,343.4 451.5,343.4 451.8,343.5 452.0,343.1 452.2,342.7 452.5,343.4 452.7,343.5 452.9,343.5 453.2,343.4 453.4,343.0 453.7,343.4 453.9,342.8 454.1,343.3 454.4,343.6 454.6,343.4 454.8,343.1 455.1,343.3 455.3,343.7 455.6,343.1 455.8,343.6 456.0,343.4 456.3,343.0 456.5,343.0 456.7,343.1 457.0,343.5 457.2,342.8 457.5,343.4 457.7,342.4 457.9,343.5 458.2,343.6 458.4,343.4 458.6,343.0 458.9,343.7 459.1,343.2 459.4,343.6 459.6,343.3 459.8,343.0 460.1,343.0 460.3,343.6 460.5,343.2 460.8,343.1 461.0,343.5 461.3,343.5 461.5,343.3 461.7,343.2 462.0,343.3 462.2,342.3 462.4,343.5 462.7,343.4 462.9,342.9 463.2,343.1 463.4,344.0 463.6,343.4 463.9,343.0 464.1,343.3 464.3,343.5 464.6,343.3 464.8,342.9 465.1,343.2 465.3,343.6 465.5,343.6 465.8,343.8 466.0,343.2 466.2,342.9 466.5,343.1 466.7,342.8 467.0,343.4 467.2,342.7 467.4,343.8 467.7,343.0 467.9,343.4 468.2,343.4 468.4,343.6 468.6,343.5 468.9,343.1 469.1,343.6 469.3,343.2 469.6,343.6 469.8,343.9 470.1,343.1 470.3,343.5 470.5,343.4 470.8,342.8 471.0,342.8 471.2,343.6 471.5,343.3 471.7,343.0 472.0,343.4 472.2,343.8 472.4,342.9 472.7,342.6 472.9,343.1 473.1,343.5 473.4,343.7 473.6,343.6 473.9,343.5 474.1,343.5 474.3,343.7 474.6,343.6 474.8,343.1 475.0,343.4 475.3,343.3 475.5,343.3 475.8,342.9 476.0,342.9 476.2,343.3 476.5,343.9 476.7,342.9 476.9,343.1 477.2,343.4 477.4,343.0 477.7,343.3 477.9,343.5 478.1,342.7 478.4,342.7 478.6,344.0 478.8,342.9 479.1,343.4 479.3,342.8 479.6,343.8 479.8,343.2 480.0,343.5 480.3,343.4 480.5,343.4 480.7,343.2 481.0,343.7 481.2,343.6 481.5,343.3 481.7,343.7 481.9,343.3 482.2,343.8 482.4,343.4 482.7,343.8 482.9,344.0 483.1,343.5 483.4,342.9 483.6,343.1 483.8,343.0 484.1,343.2 484.3,343.4 484.6,343.2 484.8,343.8 485.0,343.4 485.3,343.7 485.5,343.0 485.7,343.3 486.0,343.6 486.2,343.4 486.5,343.1 486.7,343.4 486.9,343.3 487.2,343.2 487.4,343.4 487.6,342.6 487.9,343.3 488.1,343.6 488.4,343.6 488.6,342.6 488.8,343.3 489.1,343.8 489.3,344.0 489.5,343.2 489.8,342.5 490.0,343.2 490.3,343.5 490.5,343.0 490.7,343.5 491.0,343.5 491.2,343.5 491.4,343.6 491.7,343.9 491.9,343.3 492.2,342.7 492.4,343.9 492.6,343.8 492.9,343.2 493.1,343.5 493.3,343.5 493.6,343.3 493.8,343.2 494.1,343.4 494.3,343.2 494.5,343.2 494.8,343.6 495.0,343.1 495.2,343.4 495.5,343.8 495.7,342.9 496.0,343.6 496.2,343.2 496.4,343.6 496.7,343.1 496.9,343.9 497.1,343.6 497.4,343.6 497.6,343.7 497.9,342.7 498.1,344.0" fill="none" stroke="#1f9e89" stroke-width="1.6" stroke-linejoin="round"/><polyline points="374.5,237.4 374.7,236.3 375.0,234.4 375.2,235.6 375.5,239.3 375.7,236.0 375.9,239.3 376.2,239.2 376.4,234.4 376.6,240.9 376.9,239.6 377.1,239.4 377.4,245.6 377.6,241.3 377.8,245.2 378.1,248.0 378.3,241.9 378.5,243.7 378.8,242.8 379.0,249.0 379.3,241.6 379.5,243.2 379.7,248.7 380.0,246.6 380.2,248.8 380.4,247.3 380.7,248.8 380.9,249.7 381.2,250.1 381.4,252.2 381.6,253.1 381.9,252.8 382.1,251.6 382.3,253.6 382.6,253.5 382.8,255.7 383.1,254.6 383.3,254.3 383.5,255.7 383.8,257.7 384.0,254.6 384.2,256.3 384.5,258.6 384.7,256.5 385.0,258.5 385.2,257.7 385.4,259.0 385.7,261.2 385.9,260.0 386.1,256.9 386.4,258.5 386.6,260.2 386.9,261.4 387.1,262.4 387.3,262.0 387.6,260.9 387.8,260.7 388.0,260.2 388.3,264.1 388.5,263.4 388.8,262.2 389.0,263.6 389.2,262.1 389.5,263.8 389.7,262.4 389.9,263.9 390.2,261.8 390.4,263.7 390.7,264.3 390.9,263.1 391.1,264.4 391.4,260.4 391.6,263.6 391.9,264.3 392.1,266.2 392.3,263.4 392.6,263.5 392.8,265.7 393.0,265.6 393.3,264.1 393.5,263.5 393.8,266.7 394.0,266.3 394.2,264.7 394.5,263.6 394.7,266.7 394.9,265.3 395.2,263.8 395.4,265.8 395.7,264.6 395.9,264.8 396.1,265.5 396.4,267.0 396.6,265.3 396.8,265.6 397.1,264.9 397.3,267.3 397.6,265.5 397.8,264.1 398.0,266.7 398.3,268.3 398.5,266.9 398.7,268.9 399.0,267.6 399.2,267.3 399.5,267.7 399.7,267.0 399.9,269.0 400.2,268.5 400.4,268.4 400.6,269.5 400.9,269.8 401.1,269.3 401.4,269.8 401.6,270.7 401.8,271.4 402.1,271.6 402.3,272.0 402.5,272.2 402.8,274.9 403.0,274.4 403.3,274.8 403.5,273.9 403.7,274.7 404.0,276.5 404.2,277.2 404.4,277.4 404.7,277.5 404.9,279.0 405.2,279.6 405.4,279.6 405.6,279.4 405.9,279.3 406.1,280.1 406.4,282.3 406.6,283.2 406.8,281.4 407.1,284.4 407.3,283.9 407.5,284.7 407.8,284.0 408.0,285.1 408.3,285.7 408.5,286.1 408.7,287.7 409.0,287.4 409.2,288.2 409.4,287.5 409.7,289.6 409.9,290.0 410.2,287.5 410.4,290.5 410.6,290.3 410.9,291.6 411.1,292.3 411.3,292.8 411.6,294.3 411.8,294.8 412.1,294.9 412.3,295.1 412.5,295.2 412.8,296.5 413.0,296.6 413.2,297.5 413.5,297.1 413.7,298.5 414.0,298.5 414.2,299.0 414.4,300.6 414.7,300.2 414.9,301.6 415.1,299.8 415.4,302.1 415.6,302.3 415.9,303.8 416.1,303.2 416.3,303.0 416.6,304.3 416.8,305.1 417.0,305.1 417.3,305.7 417.5,305.8 417.8,307.6 418.0,306.8 418.2,308.0 418.5,307.8 418.7,308.9 418.9,309.8 419.2,309.4 419.4,311.3 419.7,311.5 419.9,312.5 420.1,311.8 420.4,312.4 420.6,312.6 420.9,314.7 421.1,314.5 421.3,315.7 421.6,315.3 421.8,316.5 422.0,317.7 422.3,316.2 422.5,317.3 422.8,317.5 423.0,318.2 423.2,319.1 423.5,320.0 423.7,320.3 423.9,321.1 424.2,321.7 424.4,323.4 424.7,322.6 424.9,323.2 425.1,324.3 425.4,324.3 425.6,325.1 425.8,326.2 426.1,325.9 426.3,327.2 426.6,326.8 426.8,327.5 427.0,328.3 427.3,329.4 427.5,329.6 427.7,330.0 428.0,331.2 428.2,331.4 428.5,332.1 428.7,332.8 428.9,332.4 429.2,333.6 429.4,334.3 429.6,335.0 429.9,334.8 430.1,336.3 430.4,335.8 430.6,336.5 430.8,338.3 431.1,338.3 431.3,338.0 431.5,339.2 431.8,340.1 432.0,340.1 432.3,341.1 432.5,341.0 432.7,341.6 433.0,341.2 433.2,341.4 433.4,341.7 433.7,342.4 433.9,342.5 434.2,342.7 434.4,341.7 434.6,343.2 434.9,342.9 435.1,343.4 435.3,342.5 435.6,343.4 435.8,343.0 436.1,342.8 436.3,343.1 436.5,342.3 436.8,342.8 437.0,342.5 437.3,342.9 437.5,342.8 437.7,342.5 438.0,342.8 438.2,343.1 438.4,343.3 438.7,342.4 438.9,342.8 439.2,342.8 439.4,342.7 439.6,342.4 439.9,342.8 440.1,343.3 440.3,343.4 440.6,343.0 440.8,343.5 441.1,342.6 441.3,342.5 441.5,343.7 441.8,343.1 442.0,343.3 442.2,342.1 442.5,343.2 442.7,342.5 443.0,342.3 443.2,343.0 443.4,342.9 443.7,342.5 443.9,343.8 444.1,343.2 444.4,343.1 444.6,343.6 444.9,343.5 445.1,343.0 445.3,343.1 445.6,343.8 445.8,342.9 446.0,342.8 446.3,342.8 446.5,343.2 446.8,343.6 447.0,343.2 447.2,343.2 447.5,343.1 447.7,343.4 447.9,343.1 448.2,343.4 448.4,343.5 448.7,342.7 448.9,343.2 449.1,343.4 449.4,342.9 449.6,343.1 449.8,343.3 450.1,343.1 450.3,342.7 450.6,343.4 450.8,342.9 451.0,342.6 451.3,342.9 451.5,342.7 451.8,343.5 452.0,343.1 452.2,342.4 452.5,342.9 452.7,342.6 452.9,343.1 453.2,342.9 453.4,342.8 453.7,342.6 453.9,343.1 454.1,342.7 454.4,343.4 454.6,343.5 454.8,343.4 455.1,343.1 455.3,343.2 455.6,343.5 455.8,343.2 456.0,343.0 456.3,342.8 456.5,343.0 456.7,343.6 457.0,343.2 457.2,342.7 457.5,342.7 457.7,343.4 457.9,343.1 458.2,343.3 458.4,343.3 458.6,343.3 458.9,343.0 459.1,343.1 459.4,343.3 459.6,343.5 459.8,343.4 460.1,342.3 460.3,343.0 460.5,342.4 460.8,342.6 461.0,342.8 461.3,343.1 461.5,343.6 461.7,343.0 462.0,342.5 462.2,343.6 462.4,343.3 462.7,342.7 462.9,343.1 463.2,342.8 463.4,343.2 463.6,343.0 463.9,343.2 464.1,343.3 464.3,343.2 464.6,343.0 464.8,343.2 465.1,343.9 465.3,343.2 465.5,342.7 465.8,343.3 466.0,343.6 466.2,343.3 466.5,343.7 466.7,342.8 467.0,343.1 467.2,343.1 467.4,343.3 467.7,343.0 467.9,343.2 468.2,342.8 468.4,343.0 468.6,343.7 468.9,343.6 469.1,343.3 469.3,343.0 469.6,343.3 469.8,343.6 470.1,343.5 470.3,343.3 470.5,342.7 470.8,343.6 471.0,343.4 471.2,343.1 471.5,343.2 471.7,343.1 472.0,343.1 472.2,343.0 472.4,342.9 472.7,343.3 472.9,342.7 473.1,343.3 473.4,343.4 473.6,343.4 473.9,343.0 474.1,342.9 474.3,343.5 474.6,343.0 474.8,343.1 475.0,343.5 475.3,343.2 475.5,343.0 475.8,342.7 476.0,343.1 476.2,343.4 476.5,343.4 476.7,343.5 476.9,342.9 477.2,343.5 477.4,343.3 477.7,343.5 477.9,343.2 478.1,343.0 478.4,342.9 478.6,342.8 478.8,343.3 479.1,343.5 479.3,342.9 479.6,343.1 479.8,343.2 480.0,343.3 480.3,343.1 480.5,343.6 480.7,343.5 481.0,343.3 481.2,343.2 481.5,343.1 481.7,343.4 481.9,343.3 482.2,343.2 482.4,343.0 482.7,343.1 482.9,343.6 483.1,343.1 483.4,342.6 483.6,343.8 483.8,343.1 484.1,343.4 484.3,343.8 484.6,343.2 484.8,343.0 485.0,343.7 485.3,343.3 485.5,342.9 485.7,343.5 486.0,343.2 486.2,343.3 486.5,343.8 486.7,343.0 486.9,343.5 487.2,343.0 487.4,343.8 487.6,343.8 487.9,343.6 488.1,342.7 488.4,343.2 488.6,343.2 488.8,343.6 489.1,343.9 489.3,344.0 489.5,343.7 489.8,343.3 490.0,342.8 490.3,343.9 490.5,344.0 490.7,343.1 491.0,343.0 491.2,343.3 491.4,343.8 491.7,343.0 491.9,343.7 492.2,342.6 492.4,343.5 492.6,343.7 492.9,343.6 493.1,342.6 493.3,343.2 493.6,343.3 493.8,343.8 494.1,343.3 494.3,343.5 494.5,342.9 494.8,343.7 495.0,342.9 495.2,343.7 495.5,343.7 495.7,343.4 496.0,343.4 496.2,344.0 496.4,343.9 496.7,343.8 496.9,343.2 497.1,343.1 497.4,343.2 497.6,343.3 497.9,343.2 498.1,343.7" fill="none" stroke="#35b779" stroke-width="1.6" stroke-linejoin="round"/><polyline points="374.5,234.4 374.7,236.0 375.0,237.0 375.2,234.4 375.5,236.0 375.7,234.4 375.9,240.2 376.2,238.2 376.4,239.6 376.6,239.4 376.9,239.2 377.1,238.3 377.4,239.5 377.6,241.6 377.8,236.7 378.1,243.0 378.3,239.2 378.5,243.5 378.8,245.3 379.0,240.8 379.3,247.2 379.5,246.9 379.7,244.4 380.0,246.9 380.2,249.3 380.4,247.4 380.7,245.6 380.9,247.8 381.2,249.0 381.4,249.0 381.6,251.4 381.9,249.6 382.1,251.8 382.3,254.6 382.6,254.2 382.8,253.4 383.1,253.9 383.3,254.8 383.5,256.7 383.8,255.4 384.0,257.6 384.2,259.2 384.5,257.8 384.7,255.5 385.0,256.2 385.2,258.0 385.4,257.0 385.7,257.9 385.9,259.8 386.1,258.3 386.4,259.8 386.6,260.2 386.9,259.5 387.1,261.6 387.3,260.4 387.6,259.6 387.8,260.1 388.0,261.9 388.3,260.6 388.5,263.6 388.8,261.5 389.0,263.0 389.2,261.1 389.5,262.6 389.7,262.5 389.9,262.5 390.2,264.1 390.4,266.3 390.7,264.1 390.9,263.4 391.1,261.9 391.4,263.7 391.6,263.1 391.9,264.0 392.1,263.9 392.3,263.4 392.6,264.5 392.8,263.4 393.0,262.6 393.3,263.3 393.5,265.7 393.8,263.9 394.0,264.0 394.2,263.8 394.5,265.1 394.7,263.7 394.9,264.6 395.2,265.4 395.4,264.0 395.7,265.3 395.9,266.6 396.1,265.1 396.4,266.5 396.6,265.9 396.8,265.1 397.1,267.4 397.3,266.0 397.6,265.8 397.8,266.4 398.0,266.4 398.3,267.1 398.5,266.4 398.7,266.5 399.0,265.2 399.2,265.8 399.5,264.6 399.7,265.0 399.9,265.4 400.2,265.1 400.4,266.4 400.6,264.2 400.9,264.9 401.1,266.1 401.4,266.1 401.6,266.1 401.8,267.0 402.1,265.2 402.3,267.1 402.5,265.7 402.8,265.9 403.0,266.4 403.3,265.7 403.5,265.6 403.7,267.5 404.0,268.3 404.2,266.9 404.4,265.8 404.7,266.2 404.9,266.1 405.2,266.2 405.4,265.2 405.6,267.5 405.9,266.8 406.1,264.3 406.4,268.1 406.6,268.1 406.8,267.4 407.1,266.8 407.3,266.5 407.5,267.0 407.8,266.1 408.0,265.4 408.3,266.8 408.5,268.0 408.7,267.2 409.0,267.1 409.2,266.5 409.4,267.9 409.7,265.7 409.9,266.8 410.2,265.7 410.4,267.6 410.6,267.6 410.9,264.5 411.1,269.0 411.3,267.5 411.6,267.4 411.8,267.8 412.1,268.2 412.3,266.3 412.5,267.6 412.8,267.9 413.0,267.0 413.2,267.5 413.5,268.4 413.7,268.7 414.0,267.3 414.2,266.6 414.4,267.3 414.7,266.8 414.9,266.8 415.1,268.3 415.4,266.7 415.6,267.3 415.9,265.4 416.1,266.9 416.3,268.2 416.6,267.5 416.8,269.6 417.0,268.1 417.3,267.3 417.5,267.3 417.8,267.1 418.0,268.5 418.2,269.1 418.5,269.0 418.7,269.6 418.9,267.2 419.2,269.8 419.4,270.2 419.7,267.4 419.9,269.7 420.1,268.9 420.4,269.3 420.6,270.3 420.9,269.9 421.1,269.1 421.3,271.3 421.6,273.4 421.8,274.3 422.0,274.0 422.3,273.7 422.5,273.4 422.8,273.8 423.0,274.3 423.2,275.0 423.5,275.1 423.7,277.4 423.9,277.7 424.2,280.5 424.4,279.2 424.7,278.4 424.9,280.6 425.1,280.4 425.4,281.7 425.6,282.0 425.8,283.4 426.1,283.2 426.3,284.9 426.6,284.6 426.8,286.1 427.0,286.5 427.3,285.8 427.5,287.7 427.7,287.0 428.0,287.2 428.2,289.0 428.5,289.5 428.7,289.8 428.9,288.9 429.2,290.1 429.4,290.1 429.6,289.5 429.9,291.5 430.1,290.8 430.4,292.1 430.6,292.6 430.8,293.8 431.1,293.9 431.3,291.9 431.5,293.9 431.8,295.1 432.0,294.0 432.3,294.8 432.5,295.2 432.7,295.5 433.0,297.9 433.2,298.2 433.4,297.6 433.7,297.6 433.9,298.2 434.2,298.1 434.4,299.9 434.6,298.7 434.9,301.3 435.1,300.2 435.3,300.3 435.6,300.7 435.8,301.0 436.1,301.8 436.3,302.2 436.5,303.5 436.8,303.0 437.0,303.6 437.3,303.7 437.5,304.7 437.7,305.6 438.0,304.2 438.2,306.6 438.4,306.1 438.7,305.3 438.9,305.7 439.2,308.1 439.4,306.9 439.6,308.2 439.9,308.0 440.1,308.2 440.3,308.5 440.6,310.6 440.8,310.3 441.1,309.8 441.3,310.2 441.5,310.0 441.8,311.0 442.0,311.2 442.2,311.7 442.5,312.4 442.7,314.2 443.0,312.7 443.2,314.1 443.4,315.1 443.7,315.4 443.9,316.1 444.1,316.2 444.4,317.7 444.6,316.7 444.9,318.2 445.1,317.6 445.3,318.9 445.6,318.8 445.8,318.9 446.0,319.8 446.3,320.5 446.5,320.9 446.8,321.6 447.0,322.1 447.2,321.4 447.5,323.5 447.7,323.8 447.9,324.2 448.2,324.7 448.4,325.0 448.7,326.0 448.9,326.2 449.1,327.8 449.4,327.8 449.6,328.6 449.8,329.8 450.1,330.0 450.3,330.8 450.6,331.6 450.8,332.3 451.0,332.3 451.3,333.6 451.5,333.6 451.8,334.2 452.0,335.1 452.2,335.7 452.5,337.2 452.7,337.3 452.9,337.7 453.2,338.1 453.4,338.4 453.7,339.0 453.9,339.8 454.1,340.4 454.4,340.9 454.6,341.0 454.8,341.6 455.1,341.4 455.3,342.5 455.6,342.7 455.8,342.7 456.0,341.7 456.3,342.4 456.5,343.0 456.7,342.0 457.0,342.7 457.2,342.5 457.5,342.9 457.7,342.5 457.9,342.5 458.2,343.0 458.4,342.8 458.6,343.3 458.9,342.4 459.1,343.2 459.4,343.2 459.6,343.3 459.8,343.3 460.1,343.0 460.3,343.3 460.5,342.9 460.8,342.9 461.0,342.8 461.3,342.7 461.5,343.4 461.7,343.2 462.0,343.5 462.2,343.3 462.4,343.0 462.7,343.1 462.9,343.5 463.2,343.1 463.4,343.2 463.6,343.1 463.9,344.0 464.1,343.6 464.3,342.9 464.6,343.8 464.8,343.4 465.1,343.3 465.3,343.5 465.5,343.4 465.8,343.2 466.0,343.3 466.2,343.5 466.5,343.1 466.7,343.0 467.0,343.0 467.2,343.9 467.4,342.8 467.7,343.1 467.9,343.3 468.2,342.9 468.4,343.0 468.6,343.0 468.9,343.5 469.1,343.9 469.3,342.8 469.6,343.1 469.8,343.4 470.1,343.4 470.3,343.4 470.5,343.0 470.8,343.7 471.0,343.6 471.2,342.5 471.5,343.7 471.7,343.1 472.0,343.2 472.2,343.2 472.4,342.9 472.7,343.4 472.9,342.9 473.1,343.3 473.4,343.5 473.6,343.6 473.9,343.5 474.1,343.0 474.3,342.9 474.6,343.3 474.8,343.6 475.0,343.6 475.3,343.4 475.5,342.9 475.8,343.1 476.0,343.4 476.2,342.8 476.5,343.9 476.7,344.0 476.9,343.8 477.2,343.0 477.4,343.7 477.7,343.5 477.9,343.3 478.1,343.5 478.4,343.0 478.6,343.2 478.8,343.4 479.1,343.1 479.3,344.0 479.6,342.9 479.8,343.5 480.0,343.7 480.3,343.3 480.5,343.2 480.7,343.3 481.0,343.2 481.2,343.4 481.5,343.6 481.7,342.8 481.9,343.0 482.2,343.8 482.4,343.2 482.7,343.6 482.9,343.6 483.1,343.2 483.4,343.0 483.6,342.8 483.8,343.0 484.1,343.5 484.3,343.6 484.6,343.6 484.8,343.5 485.0,342.8 485.3,343.3 485.5,343.3 485.7,344.0 486.0,343.3 486.2,343.6 486.5,343.5 486.7,343.3 486.9,343.1 487.2,343.6 487.4,343.7 487.6,343.4 487.9,343.6 488.1,342.9 488.4,343.5 488.6,344.0 488.8,343.4 489.1,343.6 489.3,343.5 489.5,343.4 489.8,343.0 490.0,343.0 490.3,343.5 490.5,344.0 490.7,344.0 491.0,342.8 491.2,343.5 491.4,343.2 491.7,343.6 491.9,343.4 492.2,343.2 492.4,343.6 492.6,343.5 492.9,343.3 493.1,343.8 493.3,343.7 493.6,343.3 493.8,343.6 494.1,343.5 494.3,344.0 494.5,343.3 494.8,343.3 495.0,342.8 495.2,343.5 495.5,343.5 495.7,343.2 496.0,343.4 496.2,342.9 496.4,343.4 496.7,343.5 496.9,343.2 497.1,343.0 497.4,343.3 497.6,343.0 497.9,343.9 498.1,343.4" fill="none" stroke="#6ece58" stroke-width="1.6" stroke-linejoin="round"/><polyline points="374.5,234.4 374.7,234.4 375.0,239.6 375.2,234.4 375.5,235.8 375.7,234.4 375.9,235.1 376.2,243.0 376.4,238.8 376.6,236.9 376.9,239.7 377.1,239.9 377.4,238.3 377.6,239.8 377.8,240.3 378.1,238.7 378.3,241.8 378.5,244.4 378.8,244.1 379.0,241.9 379.3,246.0 379.5,244.9 379.7,243.4 380.0,246.5 380.2,246.9 380.4,249.1 380.7,245.6 380.9,246.4 381.2,248.8 381.4,247.7 381.6,250.6 381.9,252.0 382.1,253.0 382.3,250.2 382.6,253.1 382.8,251.7 383.1,253.3 383.3,252.0 383.5,253.7 383.8,256.2 384.0,257.3 384.2,255.8 384.5,254.6 384.7,256.3 385.0,254.9 385.2,255.6 385.4,257.8 385.7,258.5 385.9,258.6 386.1,258.6 386.4,258.4 386.6,258.9 386.9,260.8 387.1,259.8 387.3,260.5 387.6,259.8 387.8,262.4 388.0,259.6 388.3,261.3 388.5,262.0 388.8,262.0 389.0,262.6 389.2,261.6 389.5,261.0 389.7,261.9 389.9,262.1 390.2,261.5 390.4,260.9 390.7,261.6 390.9,265.1 391.1,262.9 391.4,262.8 391.6,263.2 391.9,263.1 392.1,261.9 392.3,263.4 392.6,263.8 392.8,264.1 393.0,265.7 393.3,265.6 393.5,266.1 393.8,262.9 394.0,264.4 394.2,265.7 394.5,264.9 394.7,264.6 394.9,265.2 395.2,263.5 395.4,264.4 395.7,263.9 395.9,265.5 396.1,266.1 396.4,265.2 396.6,265.1 396.8,264.3 397.1,266.9 397.3,264.2 397.6,265.1 397.8,264.9 398.0,264.3 398.3,265.8 398.5,265.3 398.7,264.8 399.0,265.6 399.2,266.6 399.5,264.9 399.7,265.7 399.9,265.8 400.2,265.1 400.4,266.2 400.6,264.2 400.9,264.7 401.1,264.3 401.4,266.3 401.6,265.7 401.8,266.0 402.1,266.3 402.3,266.7 402.5,266.1 402.8,266.0 403.0,266.8 403.3,268.2 403.5,266.9 403.7,264.5 404.0,266.5 404.2,265.2 404.4,267.0 404.7,268.0 404.9,266.0 405.2,265.7 405.4,266.0 405.6,266.4 405.9,266.5 406.1,265.6 406.4,267.0 406.6,266.3 406.8,264.7 407.1,268.4 407.3,266.2 407.5,264.6 407.8,268.2 408.0,268.2 408.3,267.2 408.5,266.8 408.7,265.1 409.0,267.3 409.2,268.2 409.4,265.2 409.7,266.8 409.9,266.5 410.2,266.7 410.4,267.8 410.6,267.3 410.9,266.1 411.1,266.0 411.3,268.2 411.6,266.6 411.8,267.7 412.1,266.0 412.3,266.9 412.5,267.1 412.8,266.5 413.0,265.1 413.2,266.6 413.5,264.6 413.7,266.2 414.0,266.5 414.2,266.6 414.4,266.5 414.7,266.7 414.9,264.6 415.1,267.9 415.4,266.7 415.6,266.8 415.9,266.6 416.1,266.9 416.3,266.0 416.6,268.0 416.8,265.8 417.0,265.7 417.3,267.4 417.5,266.5 417.8,268.5 418.0,265.9 418.2,265.9 418.5,265.4 418.7,267.0 418.9,264.9 419.2,266.1 419.4,265.9 419.7,266.2 419.9,266.9 420.1,267.8 420.4,266.7 420.6,267.4 420.9,265.9 421.1,268.0 421.3,268.1 421.6,266.6 421.8,267.8 422.0,266.4 422.3,266.7 422.5,266.3 422.8,266.6 423.0,267.3 423.2,267.6 423.5,267.5 423.7,266.6 423.9,267.4 424.2,265.7 424.4,265.5 424.7,268.0 424.9,266.6 425.1,268.6 425.4,267.8 425.6,266.1 425.8,268.6 426.1,267.8 426.3,267.7 426.6,269.0 426.8,268.5 427.0,266.9 427.3,267.4 427.5,266.5 427.7,267.9 428.0,269.8 428.2,267.7 428.5,268.8 428.7,267.0 428.9,268.5 429.2,265.8 429.4,269.3 429.6,268.1 429.9,265.5 430.1,267.0 430.4,267.4 430.6,266.9 430.8,266.4 431.1,268.6 431.3,267.6 431.5,266.4 431.8,266.8 432.0,268.3 432.3,267.4 432.5,267.1 432.7,269.0 433.0,266.7 433.2,266.6 433.4,269.3 433.7,268.3 433.9,268.7 434.2,269.3 434.4,268.6 434.6,269.6 434.9,267.2 435.1,267.6 435.3,269.5 435.6,269.4 435.8,267.3 436.1,268.5 436.3,266.8 436.5,268.6 436.8,268.4 437.0,268.0 437.3,269.1 437.5,268.5 437.7,267.8 438.0,265.8 438.2,268.5 438.4,268.0 438.7,269.2 438.9,268.4 439.2,269.2 439.4,269.1 439.6,269.1 439.9,269.4 440.1,267.5 440.3,267.8 440.6,269.8 440.8,267.2 441.1,268.0 441.3,268.8 441.5,269.7 441.8,268.7 442.0,268.5 442.2,270.3 442.5,270.7 442.7,268.1 443.0,270.2 443.2,269.2 443.4,270.2 443.7,270.3 443.9,268.9 444.1,270.7 444.4,268.9 444.6,270.3 444.9,269.5 445.1,272.0 445.3,272.6 445.6,273.1 445.8,273.2 446.0,272.6 446.3,275.7 446.5,273.4 446.8,275.4 447.0,276.6 447.2,277.2 447.5,276.5 447.7,277.4 447.9,278.0 448.2,279.1 448.4,278.8 448.7,280.3 448.9,281.7 449.1,281.6 449.4,282.4 449.6,283.1 449.8,282.9 450.1,284.4 450.3,286.2 450.6,287.0 450.8,287.1 451.0,287.7 451.3,287.7 451.5,288.0 451.8,286.8 452.0,288.0 452.2,288.0 452.5,289.4 452.7,290.0 452.9,291.6 453.2,290.9 453.4,290.3 453.7,291.9 453.9,290.6 454.1,291.1 454.4,292.0 454.6,292.3 454.8,291.6 455.1,293.2 455.3,293.5 455.6,293.7 455.8,294.8 456.0,294.4 456.3,295.2 456.5,293.8 456.7,294.9 457.0,296.4 457.2,294.6 457.5,296.2 457.7,296.5 457.9,296.7 458.2,297.6 458.4,297.3 458.6,296.9 458.9,298.5 459.1,298.1 459.4,298.7 459.6,298.1 459.8,298.8 460.1,300.7 460.3,299.0 460.5,299.0 460.8,300.5 461.0,300.3 461.3,300.3 461.5,300.6 461.7,301.0 462.0,299.6 462.2,301.3 462.4,301.3 462.7,301.4 462.9,301.6 463.2,300.5 463.4,301.7 463.6,301.5 463.9,303.7 464.1,303.2 464.3,304.3 464.6,304.7 464.8,306.7 465.1,306.5 465.3,306.8 465.5,307.6 465.8,307.7 466.0,308.1 466.2,308.6 466.5,309.4 466.7,310.8 467.0,310.4 467.2,311.9 467.4,311.3 467.7,313.0 467.9,312.5 468.2,315.0 468.4,313.4 468.6,314.7 468.9,315.0 469.1,316.1 469.3,316.6 469.6,317.4 469.8,317.1 470.1,318.3 470.3,318.9 470.5,319.6 470.8,320.6 471.0,320.9 471.2,321.1 471.5,322.2 471.7,321.4 472.0,323.0 472.2,323.3 472.4,323.7 472.7,325.0 472.9,324.7 473.1,325.7 473.4,326.1 473.6,326.8 473.9,327.4 474.1,327.6 474.3,328.6 474.6,329.4 474.8,329.0 475.0,330.6 475.3,331.2 475.5,332.0 475.8,332.5 476.0,333.8 476.2,333.4 476.5,333.9 476.7,335.6 476.9,335.4 477.2,336.3 477.4,337.2 477.7,338.3 477.9,339.0 478.1,339.1 478.4,339.2 478.6,340.1 478.8,340.6 479.1,342.1 479.3,342.1 479.6,342.1 479.8,341.4 480.0,342.3 480.3,342.3 480.5,341.9 480.7,342.2 481.0,342.6 481.2,341.9 481.5,343.0 481.7,342.5 481.9,342.4 482.2,342.7 482.4,342.5 482.7,342.4 482.9,343.0 483.1,342.5 483.4,342.9 483.6,342.9 483.8,343.1 484.1,342.9 484.3,343.0 484.6,343.0 484.8,343.3 485.0,343.1 485.3,343.1 485.5,342.6 485.7,343.0 486.0,343.3 486.2,342.9 486.5,342.9 486.7,343.2 486.9,343.3 487.2,342.5 487.4,343.2 487.6,343.0 487.9,343.5 488.1,343.2 488.4,343.7 488.6,343.2 488.8,343.0 489.1,343.7 489.3,343.6 489.5,343.3 489.8,343.0 490.0,343.2 490.3,343.6 490.5,343.5 490.7,343.3 491.0,343.2 491.2,343.5 491.4,343.6 491.7,343.2 491.9,343.2 492.2,343.3 492.4,343.5 492.6,344.0 492.9,343.3 493.1,343.3 493.3,343.5 493.6,343.8 493.8,343.4 494.1,342.7 494.3,343.9 494.5,343.7 494.8,343.3 495.0,343.8 495.2,343.6 495.5,343.4 495.7,343.6 496.0,343.6 496.2,343.5 496.4,343.7 496.7,343.2 496.9,343.7 497.1,343.7 497.4,343.6 497.6,343.6 497.9,343.2 498.1,343.4" fill="none" stroke="#b5de2b" stroke-width="1.6" stroke-linejoin="round"/></g><line x1="374.50" y1="234.40" x2="374.50" y2="344.50" stroke="#8a8a8a" stroke-width="1.3"/><line x1="373.90" y1="344.00" x2="498.10" y2="344.00" stroke="#3a3a3a" stroke-width="1.05"/><text x="374.50" y="354.60" font-size="9.4" text-anchor="middle" fill="#262626" font-family="'Liberation Serif', serif" textLength="5.12" lengthAdjust="spacingAndGlyphs">0</text><text x="406.19" y="354.60" font-size="9.4" text-anchor="middle" fill="#262626" font-family="'Liberation Serif', serif" textLength="20.48" lengthAdjust="spacingAndGlyphs">2000</text><text x="437.88" y="354.60" font-size="9.4" text-anchor="middle" fill="#262626" font-family="'Liberation Serif', serif" textLength="20.48" lengthAdjust="spacingAndGlyphs">4000</text><text x="469.58" y="354.60" font-size="9.4" text-anchor="middle" fill="#262626" font-family="'Liberation Serif', serif" textLength="20.48" lengthAdjust="spacingAndGlyphs">6000</text><text x="436.30" y="364.60" font-size="8.0" text-anchor="middle" fill="#262626" font-family="'Liberation Serif', serif" textLength="54.50" lengthAdjust="spacingAndGlyphs">Training Step</text><rect x="500.20" y="234.40" width="7.00" height="109.60" fill="url(#cb)" stroke="#222" stroke-width="0.7"/><line x1="507.20" y1="344.00" x2="509.40" y2="344.00" stroke="#333" stroke-width="0.7"/><text x="511.40" y="347.30" font-size="9.4" text-anchor="start" fill="#262626" font-family="'Liberation Serif', serif" textLength="5.20" lengthAdjust="spacingAndGlyphs">0</text><line x1="507.20" y1="316.60" x2="509.40" y2="316.60" stroke="#333" stroke-width="0.7"/><text x="511.40" y="319.90" font-size="9.4" text-anchor="start" fill="#262626" font-family="'Liberation Serif', serif" textLength="5.20" lengthAdjust="spacingAndGlyphs">2</text><line x1="507.20" y1="289.20" x2="509.40" y2="289.20" stroke="#333" stroke-width="0.7"/><text x="511.40" y="292.50" font-size="9.4" text-anchor="start" fill="#262626" font-family="'Liberation Serif', serif" textLength="5.20" lengthAdjust="spacingAndGlyphs">4</text><line x1="507.20" y1="261.80" x2="509.40" y2="261.80" stroke="#333" stroke-width="0.7"/><text x="511.40" y="265.10" font-size="9.4" text-anchor="start" fill="#262626" font-family="'Liberation Serif', serif" textLength="5.20" lengthAdjust="spacingAndGlyphs">6</text><line x1="507.20" y1="234.40" x2="509.40" y2="234.40" stroke="#333" stroke-width="0.7"/><text x="511.40" y="237.70" font-size="9.4" text-anchor="start" fill="#262626" font-family="'Liberation Serif', serif" textLength="5.20" lengthAdjust="spacingAndGlyphs">8</text><text x="524.00" y="290.10" font-size="8.2" text-anchor="middle" fill="#262626" font-family="'Liberation Sans', sans-serif" transform="rotate(-90 524.00 290.10)"><tspan font-style="italic">σ</tspan><tspan font-size="5.9" dy="1.1">v</tspan></text><text x="436.00" y="231.60" font-size="9.5" text-anchor="middle" fill="#262626" font-weight="bold" font-family="'Liberation Serif', serif" textLength="31.30" lengthAdjust="spacingAndGlyphs" stroke="#262626" stroke-width="0.18">Errors</text></svg></body></html>
